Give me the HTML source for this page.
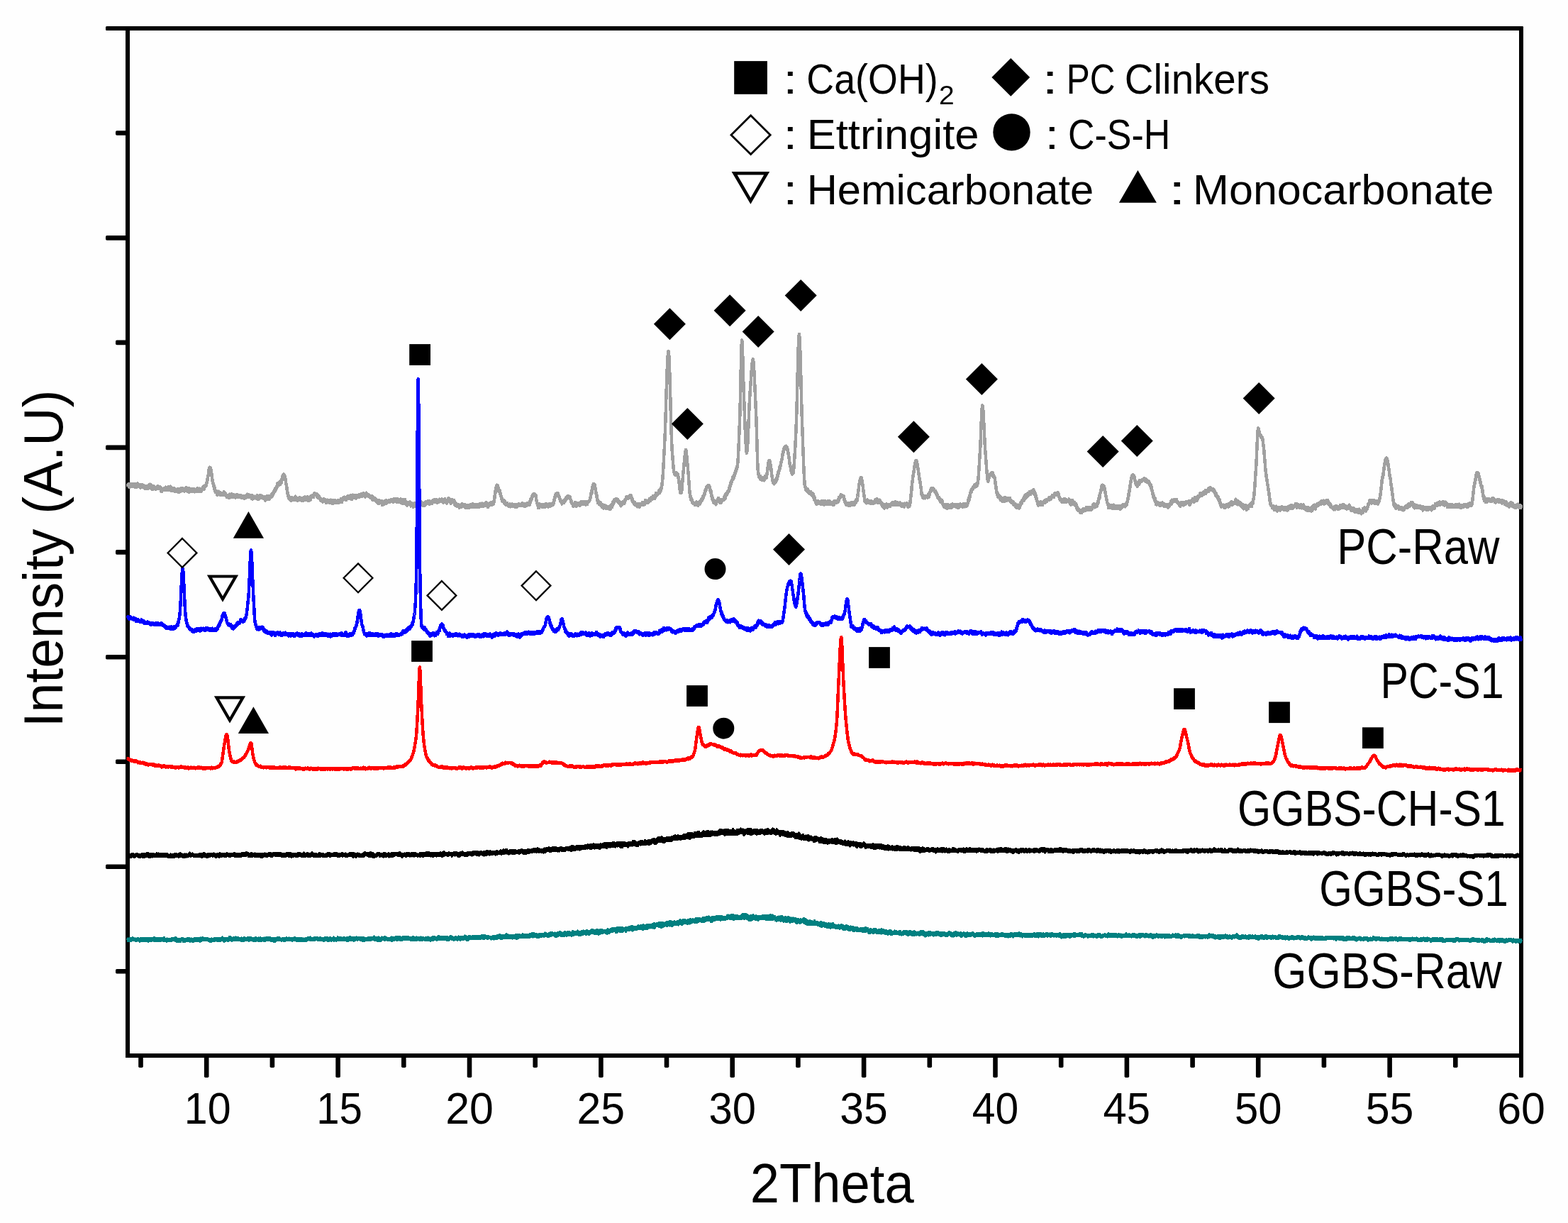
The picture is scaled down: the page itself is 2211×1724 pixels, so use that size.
<!DOCTYPE html>
<html lang="en"><head><meta charset="utf-8"><title>XRD patterns</title>
<style>html,body{margin:0;padding:0;background:#fefefe;}svg{display:block;}text{font-family:"Liberation Sans",sans-serif;fill:#000;}</style></head><body>
<svg width="2211" height="1724" viewBox="0 0 2211 1724">
<rect x="0" y="0" width="2211" height="1724" fill="#fefefe"/>
<g fill="#000" stroke="none">
<rect x="149" y="37" width="1999" height="6" rx="1.5"/>
<rect x="177" y="37" width="6" height="1454"/>
<rect x="177" y="1485" width="1971" height="6"/>
<rect x="2142" y="37" width="6" height="1482" rx="1.5"/>
<rect x="149" y="332.1" width="31" height="6.6" rx="1.8"/>
<rect x="149" y="627.6" width="31" height="6.6" rx="1.8"/>
<rect x="149" y="923.0" width="31" height="6.6" rx="1.8"/>
<rect x="149" y="1218.4" width="31" height="6.6" rx="1.8"/>
<rect x="163" y="184.2" width="17" height="6.6" rx="1.8"/>
<rect x="163" y="479.6" width="17" height="6.6" rx="1.8"/>
<rect x="163" y="775.1" width="17" height="6.6" rx="1.8"/>
<rect x="163" y="1070.5" width="17" height="6.6" rx="1.8"/>
<rect x="163" y="1365.9" width="17" height="6.6" rx="1.8"/>
<rect x="287.9" y="1488" width="6.6" height="31" rx="1.8"/>
<rect x="473.3" y="1488" width="6.6" height="31" rx="1.8"/>
<rect x="658.7" y="1488" width="6.6" height="31" rx="1.8"/>
<rect x="844.1" y="1488" width="6.6" height="31" rx="1.8"/>
<rect x="1029.4" y="1488" width="6.6" height="31" rx="1.8"/>
<rect x="1214.8" y="1488" width="6.6" height="31" rx="1.8"/>
<rect x="1400.2" y="1488" width="6.6" height="31" rx="1.8"/>
<rect x="1585.6" y="1488" width="6.6" height="31" rx="1.8"/>
<rect x="1770.9" y="1488" width="6.6" height="31" rx="1.8"/>
<rect x="1956.3" y="1488" width="6.6" height="31" rx="1.8"/>
<rect x="195.2" y="1488" width="6.6" height="17" rx="1.8"/>
<rect x="380.6" y="1488" width="6.6" height="17" rx="1.8"/>
<rect x="566.0" y="1488" width="6.6" height="17" rx="1.8"/>
<rect x="751.4" y="1488" width="6.6" height="17" rx="1.8"/>
<rect x="936.7" y="1488" width="6.6" height="17" rx="1.8"/>
<rect x="1122.1" y="1488" width="6.6" height="17" rx="1.8"/>
<rect x="1307.5" y="1488" width="6.6" height="17" rx="1.8"/>
<rect x="1492.9" y="1488" width="6.6" height="17" rx="1.8"/>
<rect x="1678.3" y="1488" width="6.6" height="17" rx="1.8"/>
<rect x="1863.6" y="1488" width="6.6" height="17" rx="1.8"/>
<rect x="2049.0" y="1488" width="6.6" height="17" rx="1.8"/>
</g>
<g fill="none" stroke-width="4.5" stroke-linejoin="round" stroke-linecap="butt" shape-rendering="crispEdges">
<path stroke="#008080" d="M180.0,1325.6l.5-2l.5 2.1l.5-1.4l.5 1.3l.5-1.3l.5 1.7l.5-2.6l.5 2.3l.5-1.6l.5 1.7l.5-2.7l.5 2.2l.5-1.8l.5 1.4l.5-2.4l.5 1.6l.5-.9l.5 1.1l.5-.2l.5 .7l.5-.9l.5 1.3l.5-1.4l.5 2.2l.5-1.9l.5 1l.5-1.2l.5 1.4l.5-2.1l.5 1.4l.5-.8l.5 1.6l.5-1l.5 2.1l.5-2.2l.5 1.5l.5-2.5l.5 2.1l.5-1.5l.5 1.8l.5-2.1l.5 1.3l.5-1.6l.5 2.7l.5-1.8l.5 2l.5-2.2l.5 1.9l.5-2.8l.5 3.2l.5-2.1l.5 1.3l.5-2.2l.5 2.3l.5-2.1l.5 2.4l.5-2.5l.5 3l.5-2.8l.5 1.6l.5-1.9l.5 1.7l.5-1.2l.5 1.3l.5-1.5l.5 2.4l.5-3.2l.5 1.7l.5-1.1l.5 1.9l.5-1.3l.5 .8l.5-1.7l.5 2.4l.5-3.1l.5 2.3l.5-1.4l.5 2.1l.5-2.2l.5 2.8l.5-1.7l.5 1.8l.5-2.5l.5 1.5l.5-1.5l.5 1.6l.5-1.6l.5 2.5l.5-2.8l.5 2.4l.5-2.2l.5 2.1l.5-2.5l.5 2.4l.5-2.4l.5 1.6l.5-1.4l.5 1.5l.5-.1l.5 1l.5-1.4l.5 1.4l.5-3.3l.5 2.7l.5-1.3l.5 2.2l.5-2l.5 2.2l.5-1.8l.5 2.1l.5-2.8l.5 1.6l.5-1.5l.5 1.9l.5-1.4l.5 1.6l.5-1.8l.5 2.2l.5-2.5l.5 2.4l.5-1.6l.5 1.5l.5-1.2l.5 .1l.5-1.9l.5 1.3l.5-1.2l.5 1.6l.5-1.5l.5 1.9l.5-2.4l.5 2.3l.5-1.5l.5 1.8l.5-3.2l.5 2.9l.5-1.4l.5 2l.5-1.1l.5 2.3l.5-2.5l.5 1.5l.5-1.8l.5 1.1l.5-.8l.5 2.3l.5-2.2l.5 2.7l.5-2.7l.5 1.3l.5-1.8l.5 .9l.5-1.9l.5 1.8l.5-1.5l.5 1.7l.5-.6l.5 2.7l.5-2.4l.5 1l.5-1.9l.5 2.7l.5-2.1l.5 1.1l.5-1.4l.5 1l.5-1.4l.5 2.5l.5-2.3l.5 1.4l.5-2.1l.5 1.8l.5-1.6l.5 1.6l.5-.6l.5 2l.5-2.4l.5 1.8l.5-2.2l.5 2l.5-1.4l.5 2.3l.5-2l.5 1.8l.5-1.9l.5 2.4l.5-3.2l.5 2.2l.5-2l.5 .9l.5-1.7l.5 3.1l.5-2.5l.5 2.2l.5-2.9l.5 2.8l.5-2.9l.5 2.4l.5-2.4l.5 2.2l.5-1.8l.5 2.8l.5-2.8l.5 3.2l.5-3.8l.5 2l.5-.4l.5 1.6l.5-2.1l.5 1.3l.5-3l.5 1.4l.5-.1l.5 1.4l.5-1.7l.5 2.2l.5-1.9l.5 1.5l.5-.9l.5 .9l.5-1.4l.5 .9l.5-1.4l.5 2.4l.5-1.9l.5 1.6l.5-1l.5 1.2l.5-1l.5 1.7l.5-1.7l.5 1.9l.5-2.3l.5 3.1l.5-2.4l.5 1.6l.5-2.5l.5 2.1l.5-.9l.5 1.1l.5-2l.5 2.2l.5-2.4l.5 1.8l.5-2.5l.5 2.5l.5-1.1l.5 .6l.5-.9l.5 .5l.5-1.5l.5 2.5l.5-2.6l.5 1.5l.5-.9l.5 2.3l.5-2.5l.5 2.2l.5-2l.5 1.9l.5-2.7l.5 2.7l.5-2.3l.5 1.4l.5-2l.5 1.4l.5-2.4l.5 2l.5-1l.5 2.5l.5-.9l.5 2.3l.5-3.6l.5 2.5l.5-2.4l.5 2.4l.5-1.7l.5 1.3l.5-1.9l.5 2.1l.5-1.5l.5 1.4l.5-1.8l.5 2.4l.5-2.9l.5 1.9l.5-3.2l.5 2l.5-1.5l.5 1l.5-1.5l.5 3.8l.5-2.7l.5 2.8l.5-2.1l.5 2l.5-2.2l.5 1.7l.5-2.4l.5 2.6l.5-3l.5 2.3l.5-1.5l.5 1.4l.5-2.5l.5 3.3l.5-2.1l.5 1.9l.5-1.2l.5 1.3l.5-2.6l.5 2.2l.5-1.5l.5 2l.5-1.6l.5 1.5l.5-1.2l.5 1.4l.5-2.2l.5 1.7l.5-2l.5 3.1l.5-2.5l.5 1.8l.5-1.6l.5 2.2l.5-1.5l.5 1.6l.5-3.5l.5 2.9l.5-1.8l.5 1.3l.5-1.8l.5 1.3l.5-1l.5 2l.5-2.1l.5 2.2l.5-3.2l.5 2.8l.5-2.5l.5 3.2l.5-2.7l.5 1.8l.5-1l.5 1.3l.5-2.9l.5 3l.5-2l.5 1.2l.5-1.1l.5 2.2l.5-1.9l.5 2.1l.5-2.1l.5 2l.5-1.8l.5 2l.5-2.2l.5 2.1l.5-3.2l.5 3.3l.5-2.1l.5 1.2l.5-1.5l.5 .9l.5-.5l.5 1.8l.5-2.7l.5 2.5l.5-1.1l.5 .9l.5-1.4l.5 2.1l.5-3.2l.5 3.5l.5-1.7l.5 .9l.5-1.7l.5 1.6l.5-1.4l.5 1.5l.5-1.6l.5 2l.5-3l.5 3.2l.5-2.2l.5 2l.5-2.6l.5 1.3l.5-1.9l.5 1.2l.5-.4l.5 2l.5-2.2l.5 2l.5-2.8l.5 1.3l.5-.9l.5 1.7l.5-2l.5 2.5l.5-2.1l.5 2.9l.5-1.5l.5 .7l.5-2l.5 2.5l.5-1.2l.5 1.9l.5-2.8l.5 3.2l.5-2.5l.5 1.5l.5-1.4l.5 2.4l.5-3.3l.5 2.6l.5-2.3l.5 1.8l.5-1.3l.5 1.1l.5-2.7l.5 1.6l.5-2.1l.5 2.3l.5-1.6l.5 1.3l.5-1.3l.5 2.3l.5-1.3l.5 1.7l.5-1.3l.5 1.4l.5-1l.5 1l.5-2.4l.5 1.5l.5-1.1l.5 1.9l.5-1.1l.5 1.9l.5-2.3l.5 2.1l.5-2.7l.5 1.7l.5-2.1l.5 1.7l.5-1.7l.5 2.4l.5-2.3l.5 2l.5-1.5l.5 1.3l.5-1.9l.5 2.5l.5-2.1l.5 1.5l.5-1l.5 1.6l.5-1.6l.5 .6l.5-1.2l.5 2.5l.5-1.8l.5 .7l.5-.9l.5 1l.5-1.9l.5 1.6l.5-1.4l.5 1.8l.5-1.9l.5 1.8l.5-1.6l.5 1.2l.5-.1l.5 2.3l.5-2.8l.5 1.8l.5-2.4l.5 2.1l.5-2.1l.5 3.2l.5-2.1l.5 .8l.5-.6l.5 .8l.5-1.9l.5 2.7l.5-1.8l.5 .8l.5-1l.5 2.4l.5-2.4l.5 1.6l.5-1.7l.5 2.1l.5-1.7l.5 1.5l.5-1.2l.5 .6l.5-2.2l.5 2.9l.5-2.3l.5 1.4l.5-1l.5 .6l.5-2l.5 1.7l.5-1.9l.5 1.6l.5-1.5l.5 2l.5-2.7l.5 3.7l.5-2.5l.5 2l.5-1.3l.5 1.6l.5-1.6l.5 1.2l.5-1.6l.5 1.7l.5-2.1l.5 2.2l.5-2.2l.5 1.5l.7-.3l.3 .1l.5-1.6l.5 1.7l.5-2l.5 1.5l.5-1.1l.5 1.7l.5-.8l.5 1.6l.5-1l.5 1l.5-2.4l.5 1.7l.5-1.8l.5 1.5l.5-1.3l.5 1.7l.5-1.5l.5 1.8l.5-1.3l.5 1.5l.5-1.9l.5 2.4l.5-1.7l.5 1.9l.5-1.8l.5 1l.5-2.4l.5 2.4l.5-2.2l.5 1.7l.5-1.6l.5 2.1l.5-2.5l.5 2.8l.5-.9l.5 1.8l.5-3l.5 2.8l.5-3.2l.5 .9l.5-1.6l.5 2.7l.5-.8l.5 1.7l.5-1.5l.5 .3l.5-1.2l.5 2.1l.5-2.6l.5 2l.5-3l.5 3.8l.5-2.5l.5 1.9l.5-1.1l.5 1.1l.5-1.7l.5 2.4l.5-2.3l.5 2l.5-2.6l.5 1.4l.5-2.5l.5 2.9l.5-2.5l.5 2.8l.5-2.1l.5 1.9l.5-1.8l.5 .8l.5-1.1l.5 2.5l.5-2l.5 1.5l.5-1l.5 1.1l.5-1.5l.5 .3l.5-1.1l.5 2.5l.5-2.5l.5 2.1l.5-1.5l.5 2.5l.5-1.7l.5 1.4l.5-2.3l.5 2.5l.5-3l.5 3.5l.5-2.5l.5 2.5l.5-2.7l.5 1.8l.5-2.1l.5 2l.5-3.6l.5 2.9l.5-1.6l.5 2.3l.5-2.7l.5 2.7l.5-2.9l.5 2.1l.5-1.4l.5 1.8l.5-1.9l.5 3.1l.5-1.6l.5 .8l.5-2l.5 1.5l.5-1.3l.5 1.4l.5-2.6l.5 2.5l.5-2l.5 2.2l.5-2.6l.5 2.4l.5-2l.5 1.4l.5-1.5l.5 1.8l.5-1.9l.5 2.4l.5-1.6l.5 1.6l.5-1.8l.5 2.6l.5-1.9l.5 1.5l.5-2.3l.5 3.6l.5-4.2l.5 3l.5-2.3l.5 2.8l.5-2.6l.5 1.4l.5-1.3l.5 2.4l.5-1.9l.5 .8l.5-.7l.5 1.4l.5-1.8l.5 1.4l.5-2.1l.5 2.6l.5-2.3l.5 1.9l.5-1.9l.5 1.1l.5-1.5l.5 2.1l.5-2.6l.5 1.6l.5-1.3l.5 1.8l.5-2l.5 1.7l.5-.8l.5 1.1l.5-3.2l.5 3.9l.5-2.2l.5 2.7l.5-3.3l.5 2.9l.5-1.8l.5 2.2l.5-2.7l.5 2.7l.5-2.1l.5 2.7l.5-4l.5 3.1l.5-2.5l.5 1.8l.5-.9l.5 2.5l.5-2.3l.5 2l.5-2.7l.5 .6l.5-1.6l.5 1.9l.5-1.2l.5 1.7l.5-1.2l.5 .9l.5-2.2l.5 2.5l.5-2.9l.5 3.6l.5-2.6l.5 1.4l.5-.5l.5 .8l.5-1.4l.5 1.8l.5-1l.5 1.4l.5-1.1l.5 1.5l.5-2.1l.5 1.7l.5-1.8l.5 1.6l.5-1.7l.5 .8l.5-1.1l.5 2.9l.5-3.7l.5 3.8l.5-2.9l.5 2.1l.5-2.5l.5 2.6l.5-2.1l.5 1.7l.5-2l.5 1.5l.5-2l.5 1l.5-1.4l.5 2.9l.5-3.1l.5 2.1l.5-1.8l.5 2.9l.5-1.6l.5 1.1l.5-2.6l.5 2.4l.5-2.4l.5 3.1l.5-2l.5 1.8l.5-1.6l.5 2.3l.5-2l.5 .5l.5-1.5l.5 1.9l.5-2.6l.5 3l.5-1.9l.5 1.8l.5-2.2l.5 1.5l.5-2.1l.5 1.8l.5-.6l.5 .7l.5-1.2l.5 .9l.5-1.7l.5 2.6l.5-2.8l.5 2.8l.5-1.2l.5 1l.5-1.2l.5 1.1l.5-1.4l.5 2l.5-.6l.5 1.3l.5-2.6l.5 1.8l.5-2.4l.6 1.5l.4-1.6l.5 2.9l.5-2.8l.5 2.7l.5-2.3l.5 1.6l.5-1l.5 1.7l.5-2l.5 1.3l.5-2.1l.5 2.9l.5-1.3l.5 .3l.5-1.3l.5 1.7l.5-1.6l.5 1.8l.5-1.5l.5 2.2l.5-2.2l.5 1.6l.5-2.6l.5 3.5l.5-2.6l.5 1.1l.5-1.2l.5 2.1l.5-1.8l.5 1.4l.5-1.6l.5 1.7l.5-.9l.5 1.3l.5-.9l.5 .1l.5-1.3l.5 1.9l.5-2l.5 1l.5-.8l.5 1.8l.5-2.8l.5 2.3l.5-1.5l.5 2.2l.5-1.7l.5 1.2l.5-1l.5 2.4l.5-2.9l.5 2.5l.5-2.6l.5 2l.5-2.4l.5 1.7l.5-3l.5 3.6l.5-2.2l.5 1.4l.5-2.4l.5 2.8l.5-2.3l.5 1.2l.5-.9l.5 1.9l.5-2l.5 2.6l.5-2.8l.5 2.3l.5-2.2l.5 1.9l.5-3.8l.5 3.6l.5-2.2l.5 2.3l.5-2.6l.5 2.5l.5-1.4l.5 2.2l.5-2.9l.5 1.9l.5-2.1l.5 2l.5-1.7l.5 2.1l.5-1.4l.5 1.2l.5-2.6l.5 1.7l.5-1.4l.5 2.3l.5-1.9l.5 1.8l.5-1.4l.5 2.3l.5-3.3l.5 4.3l.5-2.7l.5 2.2l.5-2.3l.5 2.2l.5-2.8l.5 2l.5-2.4l.5 1.9l.5-3.3l.5 2.3l.5-1.6l.5 2.2l.5-2l.5 2.8l.5-2l.5 2.2l.5-.8l.5 1.6l.5-2.9l.5 2.2l.5-2.3l.5 2.4l.5-2.5l.5 1.4l.5-1.5l.5 2.6l.5-1.6l.5 2l.5-2.4l.5 1l.5-2.4l.5 2.7l.5-1.1l.5 1.2l.5-2l.5 2.9l.5-2.6l.5 2l.5-2.7l.5 2l.5-1.8l.5 2.2l.5-1.7l.5 1.5l.5-1.8l.5 1.9l.5-2.1l.5 1.1l.5-2.8l.5 2.7l.5-2.5l.5 3.5l.5-2.6l.5 3.8l.5-2.7l.5 2l.5-2.3l.5 2.9l.5-3.9l.5 1.8l.5-.6l.5 1.6l.5-3.1l.5 2.9l.5-2.4l.5 2.5l.5-2.4l.5 2.4l.5-2.6l.5 1.8l.5-1.6l.5 1.8l.5-2.2l.5 2.3l.5-1.7l.5 1.6l.5-1.9l.5 1.1l.5-.7l.5 1.5l.5-2.3l.5 2.9l.5-2.5l.5 2.4l.5-2.6l.2 1.1l.3-1.4l.5 2.9l.5-2.6l.5 1.7l.5-2.1l.5 2.1l.5-1.5l.5 2.1l.5-2.4l.5 2l.5-2.2l.5 1.8l.5-2.7l.5 2.3l.5-2.7l.5 3.7l.5-3l.5 3.4l.5-2.5l.5 1.2l.5-2.5l.5 2.4l.5-1.9l.5 2l.5-.9l.5 1.1l.5-.9l.5 1.7l.5-1.9l.5 1.4l.5-2l.5 1.9l.5-1.4l.5 .5l.5-.4l.5 .8l.5-.7l.5 2.5l.5-2.6l.5 1.7l.5-1.6l.5 1.6l.5-1.9l.5 2l.5-2.5l.5 3.4l.5-3.3l.5 2.2l.5-1.8l.5 1.8l.5-2.4l.5 2.3l.5-2.6l.5 3l.5-2.2l.5 1l.5-2.5l.5 2.7l.5-1.4l.5 1.7l.5-1.3l.5 1.3l.5-3.7l.5 4.2l.5-2.1l.5 1.2l.5-1.3l.5 2.4l.5-2.5l.5 1.1l.5-2.4l.5 3.1l.5-2.3l.5 1.4l.5-.7l.5 .8l.5-1l.5 1.4l.5-2.6l.5 2.1l.5-3.5l.5 3.9l.5-2l.5 2.1l.5-3.3l.5 2.5l.5-1.4l.5 1.5l.5-1.2l.5 2.2l.5-1.9l.5 .7l.5-1.6l.5 2.1l.5-2.2l.5 2.7l.5-2l.5 2.7l.5-1.7l.5 1.1l.5-1.9l.5 2l.5-2.6l.5 1.8l.5-1.6l.5 2.4l.5-2.9l.5 2.1l.5-2.8l.5 4.6l.5-2.8l.5 1.6l.5-3.8l.5 4.3l.5-2.8l.5 2.1l.5-2.2l.5 1.3l.5-1.9l.5 2.3l.5-2.3l.5 2l.5-1.3l.5 1.3l.5-1.8l.5 1.7l.5-3l.5 3.1l.5-2.9l.5 2.7l.5-2.3l.5 2.2l.5-2.1l.5 2.3l.5-2.2l.5 2.5l.5-2.9l.5 2.3l.5-1.4l.5 1.7l.5-2l.5 1.7l.5-2.6l.5 2.7l.5-.9l.5 1l.5-.8l.5 .7l.5-3.2l.5 3l.5-2.1l.5 1.1l.5-2.8l.5 3.6l.5-2.5l.5 2.9l.5-4.5l.5 4.2l.5-3l.5 2.3l.5-2.7l.5 2.5l.5-1.3l.5 2l.5-1.8l.5 1.6l.5-2.4l.5 3.6l.5-3l.5 2l.5-1.9l.5 2.7l.5-3.3l.5 2.6l.5-1.8l.5 .4l.5-.9l.5 2.1l.5-2.7l.5 1.9l.5-1.6l.5 2.1l.5-2.8l.2 1.5l.3-1.2l.5 1l.5-.7l.5 2.3l.5-2.3l.5 .8l.5-2.4l.5 2.4l.5-1.6l.5 2.1l.5-2l.5 2.5l.5-.9l.5 1.5l.5-1.7l.5 1.4l.5-2.5l.5 2.6l.5-3.5l.5 2.4l.5-2.8l.5 3.2l.5-4l.5 3.6l.5-3.2l.5 2.3l.5-2.6l.5 2.2l.5-1.5l.5 2.3l.5-1.9l.5 1.1l.5-.7l.5 1.9l.5-2.6l.5 3.7l.5-2.7l.5 2.4l.5-1.7l.5 2.2l.5-2.6l.5 2.3l.5-4l.5 3.2l.5-1.7l.5 .9l.5-1.3l.5 .6l.5-2.8l.5 3.2l.5-1.4l.5 2.3l.5-2.9l.5 3.3l.5-1.7l.5 1.9l.5-2.5l.5 2.8l.5-3.7l.5 3.6l.5-4.4l.5 3.6l.5-3.9l.5 1.8l.5-1.3l.5 2.8l.5-2.1l.5 2.9l.5-2.6l.5 1.5l.5-2.9l.5 3.6l.5-3.2l.5 3l.5-3.9l.5 3.1l.5-1.8l.5 1.1l.5-1.4l.5 1.9l.5-1.8l.5 3.4l.5-3l.5 1.2l.5-3.3l.5 3.3l.5-1.3l.5 2l.5-2.6l.5 2.2l.5-2.8l.5 2.4l.5-1.7l.5 2l.5-2.9l.5 2.5l.5-2.3l.5 2.5l.5-4.2l.5 3.9l.5-2.9l.5 3.5l.5-2.2l.5 2.9l.5-3.4l.5 3.7l.5-3.8l.5 2.1l.5-2.2l.5 2.2l.5-3.3l.5 3.7l.5-3.3l.5 3.3l.5-4.2l.5 3.3l.5-2.2l.5 .8l.5-1l.5 2.9l.5-2.8l.5 2.9l.5-3.6l.5 3.7l.5-4.3l.5 3l.5-2.5l.5 2.6l.5-2.5l.5 2.5l.5-2.1l.5 3.5l.5-2.8l.5 1.2l.5-2.3l.5 1.9l.5-3l.5 3.1l.5-3l.5 1.9l.5-2.4l.5 2.8l.5-2.4l.5 3.1l.5-1.5l.5 1.3l.5-2.1l.5 3.7l.5-3.7l.5 3l.5-2l.5 2.4l.5-4.7l.5 3.4l.5-2.4l.5 1.4l.5-2l.5 5l.5-4.6l.5 3.9l.5-3.8l.5 2.2l.5-2.8l.5 2.3l.5-1.6l.5 2.6l.5-3.4l.5 3.5l.5-3.1l.5 2.3l.5-1.3l.5 1.5l.5-2.3l.5 .9l.5-1l.5 1.5l.5-.9l.5 1l.5-.4l.5 1.7l.5-3.1l.5 3.7l.5-3l.3-.2l.2-1.6l.5 3.1l.5-2.5l.5 3.5l.5-3.6l.5 1.3l.5-1l.5 2.1l.5-3l.5 1.9l.5-1.1l.5 1.8l.5-3.6l.5 2.3l.5-2.7l.5 3.4l.5-1.8l.5 1.2l.5-2.7l.5 2.5l.5-.9l.5 1.3l.5-2.7l.5 4.2l.5-2.6l.5 2.8l.5-3.8l.5 2.3l.5-4.1l.5 4.1l.5-3.5l.5 1.6l.5-2.5l.5 2.5l.5-1.1l.5 3.8l.5-4.7l.5 4.4l.5-3.1l.5 3l.5-4.6l.5 4.8l.5-3.5l.5 1.8l.5-1.8l.5 1.1l.5-.6l.5 1.3l.5-2.2l.5 2l.5-2.4l.5 4l.5-4.7l.5 3.4l.5-3.6l.5 2.6l.5-2.1l.5 2.9l.5-2.4l.5 1.8l.5-1.6l.5 1.9l.5-4.1l.5 3.2l.5-2.4l.5 2.1l.5-1.4l.5 .8l.5-3l.5 5.4l.5-4.3l.5 2.9l.5-2.5l.5 2.8l.5-3.4l.5 3.1l.5-3.3l.5 3.4l.5-2.5l.5 2.2l.5-1l.5 1.1l.5-1.6l.5 1.2l.5-2.6l.5 1.8l.5-3.3l.5 2.3l.5-.7l.5 1.9l.5-2.5l.6 1.3l.4-1.8l.5 2.8l.5-3.5l.5 2.8l.5-2.9l.5 3.3l.5-1.7l.5 3.5l.5-5.6l.5 3.1l.5-2l.5 3.1l.5-2.5l.5 1.8l.5-1.4l.5 2l.5-3.6l.5 3.3l.5-3.8l.5 4.5l.5-3.7l.5 2.8l.5-1.5l.5 .5l.5-3l.5 2.7l.5-2.6l.5 3.1l.5-2.2l.5 1.9l.5-2.3l.5 2l.5-2.8l.5 3.4l.5-3l.5 1.4l.5-2.6l.5 2.9l.5-3.6l.5 5.3l.5-5.3l.5 3.3l.5-2.5l.5 2.1l.5-1.5l.5 1.3l.5-2l.5 1.9l.5-3l.5 3.1l.5-2.3l.5 2l.5-3.2l.5 4.2l.5-4.6l.5 4.1l.5-4.5l.5 3.5l.5-3.1l.5 5.4l.5-3.8l.5 2.8l.5-4.8l.5 4.1l.5-3.8l.5 4.2l.5-3.2l.5 2.8l.5-2.4l.5 1.6l.5-2.1l.5 2l.5-3.3l.5 3.2l.5-2.2l.5 3.2l.5-5l.5 4l.5-3.1l.5 2.5l.5-3.2l.5 3.8l.5-1.8l.5 2.2l.5-5.4l.5 3.5l.5-2.3l.5 4.1l.5-3.1l.5 3.9l.5-3l.4-.4l.6-1.9l.5 3.4l.5-2.9l.5 2.4l.5-3.1l.5 3.6l.5-3.2l.5 2.8l.5-2.3l.5 2.5l.5-3.3l.5 2l.5-2.3l.5 1.9l.5-1.7l.5 3.7l.5-2.9l.5 1.3l.5-3.3l.5 3.7l.5-4.6l.5 4.1l.5-2.3l.5 2.4l.5-3.5l.5 4.6l.5-4l.5 2.7l.5-3.1l.5 2.2l.5-3.9l.5 4.4l.5-2.2l.5 1.6l.5-3.2l.5 3.9l.5-3.2l.5 2.3l.5-2.3l.5 1.7l.5-.7l.5 2.7l.5-3l.5 2.7l.5-4.4l.5 3.9l.5-3.8l.5 4.3l.5-4.9l.5 3.2l.5-3.1l.5 3.7l.5-2.7l.5 2.3l.5-2.8l.5 1.3l.5-1.7l.5 2.5l.5-2.5l.5 1.5l.5-1.2l.5 2.7l.5-3.2l.5 1.9l.5-2.9l.5 2.4l.5-1.9l.5 3.8l.5-3.4l.5 2l.5-3.5l.5 3.4l.5-2.5l.5 2.7l.5-3.7l.5 2.5l.5-1.1l.5 1.9l.5-1.4l.5 1.4l.5-1.6l.5 2.1l.5-2.7l.5 2.3l.5-3.7l.5 2.8l.5-2.7l.5 4.2l.5-4.6l.5 2.5l.5-2.7l.2 2.2l.3-2.3l.5 3.8l.5-2.8l.5 2l.5-3.6l.5 3.6l.5-2.6l.5 2.5l.5-1.6l.5 1.8l.5-4.3l.5 4.3l.5-2.4l.5 2.2l.5-2.6l.5 3.4l.5-3.4l.5 4.7l.5-4.9l.5 4.1l.5-4.8l.5 3.4l.5-2.5l.5 1.7l.5-2.9l.5 2.7l.5-1.3l.5 2.3l.5-3.5l.5 2.3l.5-2.8l.5 2.6l.5-3.3l.5 2.3l.5-1.3l.5 2.7l.5-3.2l.5 3.1l.5-2.4l.5 1.9l.5-2.6l.5 3.8l.5-3.1l.5 3.4l.5-4.7l.5 3.5l.5-3.2l.5 2.8l.5-.5l.5 .8l.5-1.7l.5 2.4l.5-2.6l.5 2.6l.5-1.7l.5 2l.5-2.4l.5 1.4l.5-2.5l.5 1.6l.5-1.4l.5 .9l.5-2.4l.5 3.2l.5-4.1l.5 2.8l.5-1.5l.5 2.2l.5-2.3l.5 2.1l.5-2.5l.5 3.3l.5-2.5l.5 2.3l.5-4.5l.5 4.2l.5-4.1l.5 4.3l.5-4l.5 5.2l.5-4.1l.5 4l.5-4.6l.5 3.2l.5-2.3l.5 2.5l.5-3.3l.5 2.8l.5-2.6l.5 3.8l.5-3.6l.5 1.6l.5-1.3l.5 3.5l.5-3.1l.5 2.8l.5-2l.5 2.4l.5-3.1l.5 3.1l.5-2.4l.5 2.2l.5-3.7l.5 3.4l.5-3.3l.5 1.8l.5-4.2l.5 4.4l.5-1.8l.5 2.4l.5-2.5l.5 3.2l.5-5.9l.5 3.8l.5-1.3l.5 2.8l.5-4.7l.5 5l.5-4.3l.5 3.7l.5-2.2l.5 2.2l.5-1l.5 2.8l.5-3.2l.5 4.4l.5-5.1l.5 2.9l.5-3.6l.5 5.3l.5-5.2l.5 2.4l.5-2.5l.5 4.5l.5-4l.5 2.2l.5-3.3l.5 4.2l.5-2.4l.5 2.1l.5-2.4l.5 2.8l.5-3.1l.5 4.4l.5-4.4l.5 2.7l.5-2.3l.5 4.2l.5-4.2l.5 4.3l.5-3.3l.5 2.1l.5-3.3l.5 3l.5-1.2l.5-.7l.5-.5l.5 2.3l.5-1.7l.5 1l.5-1.2l.5 1.9l.5-3.4l.5 2.1l.5-2.6l.5 2.6l.5-1.4l.5 2.9l.5-3.4l.5 2.4l.5-3l.5 4.3l.5-2.5l.5 3.4l.5-4.5l.5 3.7l.5-3.8l.5 3.1l.5-3.6l.5 3.2l.5-2.4l.5 4.2l.5-4.8l.5 3.6l.5-4.7l.5 5.3l.5-2.6l.5 3.2l.5-2.9l.5 2.7l.5-5.3l.5 3.3l.5-2.3l.5 3l.5-2.7l.5 2.7l.5-2.2l.5 2.4l.5-1l.5 3l.5-2.3l.5 3l.5-2.4l.5 2.2l.5-3.9l.5 2.1l.5-1.7l.5 1.1l.5-2.2l.5 2.9l.5-2.3l.5 3.9l.5-4.7l.5 4.9l.5-4.1l.5 1.9l.5-3.1l.5 4.2l.5-3.6l.5 4.5l.5-3.3l.5 4.8l.5-4.2l.5 3.5l.5-4.2l.5 3l.5-3.4l.5 4l.6-1.6l.4 3.2l.5-4.2l.5 3.7l.5-4l.5 2.5l.5-4.1l.5 4.6l.5-1.4l.5 1.6l.5-2.4l.5 4.2l.5-5l.5 3.8l.5-2.8l.5 2.7l.5-3.7l.5 4.8l.5-3.8l.5 2.8l.5-3.7l.5 2.7l.5-2.2l.5 2.8l.5-1.6l.5 2.2l.5-3.6l.5 3.3l.5-1.1l.5 3.5l.5-4l.5 4.2l.5-4.9l.5 3.7l.5-3.2l.5 3.4l.5-2.7l.5 2.8l.5-3l.5 3.7l.5-3.9l.5 2.7l.5-2.7l.5 3l.5-2.6l.5 2.1l.5-2.4l.5 2.5l.5-2.4l.5 2.4l.5-4.2l.5 5.4l.5-4.1l.5 3.5l.5-4.1l.5 5.2l.5-2.6l.5 3.3l.5-3.2l.5 3.9l.5-4.2l.5 4.3l.5-3.9l.5 3l.5-2.4l.5 3.7l.5-3.7l.5 2.7l.5-3.4l.5 4.6l.5-2.8l.5 1.9l.5-1.6l.5 1.9l.5-3l.5 2.8l.5-1.8l.5 2.2l.5-2.1l.5 2.4l.5-4.6l.5 2.5l.5-1.2l.5 2.9l.5-2.5l.5 3l.5-1.9l.5 1.9l.5-2.7l.5 3.2l.5-2.8l.5 3.1l.5-2.6l.5 1.8l.5-2l.5 3.3l.5-3.1l.5 3.5l.5-4.5l.5 3.2l.5-1.3l.5 3.5l.5-4.6l.5 2l.5 .1l.5 1.4l.5-2.3l.5 1.1l.5-1.9l.5 2l.5-.7l.5 2.9l.5-2.7l.5 2.6l.5-3.1l.5 3.9l.5-3.1l.5 2.5l.5-2.3l.5 3.4l.5-4.6l.5 2.7l.5-1.9l.5 3.6l.5-3.5l.5 4.5l.5-5l.5 3.4l.5-2.2l.5 1.9l.5-1.9l.5 3.3l.5-4.8l.5 4.7l.5-1.7l.5 .9l.5-2.2l.5 2.2l.5-.8l.5 2l.5-2.7l.5 2.9l.5-2.3l.5 2.7l.5-3l.5 2l.5-1.2l.5 1.3l.5-2.6l.5 2.2l.5-1.5l.5 3.3l.5-3.1l.5 2.4l.5-2.3l.5 2.6l.5-4.4l.5 3.9l.5-1.4l.5 1.1l.5-2.4l.5 4.7l.5-4l.5 3.9l.5-2.8l.5 2.5l.5-2.5l.5 2.8l.5-2.3l.5 1.9l.5-4.3l.5 3l.5-.6l.5 2.3l.5-2.1l.5 1.2l.5-2.2l.5 3.4l.5-2.6l.5 3.8l.5-4.2l.5 2.2l.5-2.4l.5 2.3l.5-1.4l.5 2.7l.5-2l.5 2.1l.5-3.2l.5 4.4l.5-3.9l.5 3.6l.5-3.4l.5 3.9l.5-3.6l.3 1.3l.2-.4l.5 1.7l.5-1.4l.5 1.4l.5-2.8l.5 4.2l.5-3.1l.5 2.4l.5-2.3l.5 1.9l.5-1.3l.5 1.9l.5-1.3l.5 1.8l.5-2.6l.5 2.4l.5-1.5l.5 1.2l.5-2.9l.5 3l.5-2.6l.5 3.9l.5-2.8l.5 1.5l.5-2.8l.5 4.2l.5-3.3l.5 1.6l.5-3l.5 3.8l.5-4l.5 4l.5-2.5l.5 2.2l.5-3.1l.5 3.4l.5-.9l.5 1.5l.5-2.1l.5 4.1l.5-3.4l.5 2.2l.5-3.2l.5 3.8l.5-3.7l.5 3.4l.5-3.3l.5 2.9l.5-2.1l.5 2.7l.5-2.1l.5 2.6l.5-2.8l.5 2.2l.5-4l.5 3.2l.5-1.9l.5 1.9l.5-2.7l.5 3.5l.5-2.9l.5 3.7l.5-2.5l.5 2.4l.5-1.7l.5 2.1l.5-3.3l.5 2.3l.5-3.1l.5 3.6l.5-2.2l.5 2l.5-1.4l.5 2.3l.5-4.8l.5 3.7l.5-2.6l.5 2.3l.5-2.6l.5 3.4l.5-3.3l.5 2.9l.5-2.7l.5 2.8l.5-2.3l.5 3.5l.5-3.7l.5 2.7l.5-1.2l.5 1.8l.5-2l.5 3.1l.5-2.3l.5 2.2l.5-3.3l.5 3.2l.5-3.5l.5 3.3l.5-3.8l.5 3.4l.5-3l.5 4.2l.5-2.2l.5 2.2l.5-3.1l.5 2.2l.5-1.6l.5 .8l.5-1.1l.5 1.9l.5-2.4l.5 1.6l.5-2.4l.5 3.3l.5-2.7l.5 1.9l.5-1.6l.5 1.4l.5-1.1l.5 2.3l.5-2.1l.5 1.6l.5-1.4l.5 1.5l.5-2.4l.5 3.6l.5-3.9l.5 3l.5-1l.5 .9l.5-.5l.5 1.8l.5-2.4l.5 2l.5-2l.5 2.1l.5-3.6l.5 2l.5-1.6l.5 1.5l.5-2.4l.5 2.3l.5-.9l.5 1.2l.5-.5l.5 2.2l.5-3.8l.5 3.6l.5-2.4l.5 3.3l.5-2l.5 1.4l.5-2.2l.5 1.5l.5-3.5l.5 2.3l.5-1.6l.5 3.1l.5-2.1l.5 2.5l.5-2.9l.5 3.1l.5-2.7l.5 2.9l.5-1.6l.5 2.1l.5-4.8l.5 4.4l.5-3.8l.5 2.1l.5-1.5l.5 1.8l.5-1.6l.5 2.6l.5-2.6l.5 1.8l.5-1.1l.5 1.4l.5-2.2l.5 2l.5-1.9l.5 2.9l.5-3.2l.5 .8l.5-1.2l.5 2.7l.5-4.1l.5 4.1l.5-1.9l.5 1.7l.5-2.7l.5 2.4l.5-2.8l.5 4.3l.5-2.8l.5 3.2l.5-2.8l.5 3.9l.5-2.9l.5 2.2l.5-3.1l.5 1.6l.5-2.1l.5 2.3l.5-1.5l.5 .7l.5-.8l.5 2.7l.5-4.5l.5 3.8l.5-3.5l.5 2.6l.5-2l.5 2.6l.5-1.8l.5 1.2l.5-1.7l.5 2.2l.5-1.4l.5 2l.5-2.4l.5 2.8l.5-3.1l.5 2l.5-2.3l.5 2.5l.5-1.6l.5 2l.5-2.5l.5 2.8l.5-3.9l.5 1.6l.5-1.4l.5 1.9l.5-2.1l.5 2.3l.5-1.7l.5 2.9l.5-2.7l.5 2.1l.5-2l.5 3.6l.5-2.4l.5 2.4l.5-2.7l.5 2.5l.5-3.2l.5 1.7l.5-1.6l.5 1.7l.5-1.8l.5 2.5l.5-2.3l.5 2.3l.5-1.5l.5 2.5l.5-1.2l.5 1.4l.5-3.3l.5 2.9l.5-2.4l.5 1.7l.5-2.3l.5 1.7l.5-1.9l.5 1.4l.5-2.5l.5 3.1l.5-2.4l.5 3.1l.5-1.6l.5 2.4l.5-2.5l.5 2.9l.5-3.1l.5 1.9l.5-1.4l.5 2.7l.5-3.1l.5 1.7l.5-3.2l.5 3.6l.5-3.3l.5 2.4l.5-3.2l.5 4l.5-2.5l.5 2.5l.5-1.5l.5 .8l.5-2.1l.5 2.7l.5-2.4l.5 1.2l.5-.7l.5 1.4l.5-1.2l.5 2.1l.5-3.3l.5 4.5l.5-4.1l.5 2.4l.5-1.4l.5 1.5l.5-1.8l.5 1.6l.5-2.5l.5 3l.5-2.8l.5 2.9l.5-2.7l.5 3.7l.5-2.5l.5 1.3l.5-1.3l.5 2.2l.5-3.7l.5 3.4l.5-1.8l.5 1.8l.5-2.4l.5 2.1l.5-2.3l.5 2.2l.5-2.3l.5 2.5l.5-2.8l.5 2.3l.5-2.1l.5 1.8l.5-2.5l.5 2.3l.5-2.2l.5 2.1l.5-1.1l.5 2.4l.5-1.8l.5 2.5l.5-2.5l.5 1.4l.5-1l.5 1.2l.5-1.7l.5 1l.5-1.9l.5 2.3l.5-2.3l.5 2.1l.5-2.1l.5 2.1l.5-1.7l.5 2.5l.5-2.8l.5 1.7l.5-1.5l.5 1.9l.5-2.1l.5 2.7l.5-1.4l.5 1.8l.5-4.2l.5 3.1l.5-2.4l.5 2.7l.5-1.4l.5 1.4l.5-.9l.5 1.4l.5-2.7l.5 1.7l.5-1.7l.5 2.2l.5-2.2l.5 1.7l.5-1.3l.5 1.2l.5-2.5l.5 3.7l.5-3.4l.5 2.9l.5-2.7l.5 3.4l.5-3.7l.5 3.3l.5-2.9l.5 2.3l.5-2.2l.5 2.8l.5-2.1l.5 1.7l.5-.9l.5 .7l.5-.9l.5 1l.5-2.1l.5 1.2l.5-1.3l.5 3.3l.5-2.5l.5 3.1l.5-4l.5 2.4l.5-2l.5 2.9l.5-2.7l.5 2.7l.5-2.4l.5 1.3l.5-1.3l.5 1.4l.5-1.5l.5 1.3l.5-.9l.5 1.5l.5-2.6l.5 2.1l.5-1.3l.5 .9l.5-1.3l.5 2l.5-1.8l.5 2.5l.5-2.5l.5 2.3l.5-2l.5 2.4l.5-2.2l.5 2.5l.5-2.8l.5 2.8l.5-2l.5 2.5l.5-3.1l.5 2.8l.5-3.1l.5 2.6l.5-2.6l.5 2.8l.5-2.8l.5 1l.5-1.9l.5 2.9l.5-1.3l.5 1.6l.5-1.5l.5 2.7l.5-3.6l.5 1.3l.5-1.6l.5 2.1l.5-2.9l.5 2.5l.5-.7l.5 1.1l.5-1.8l.5 1.8l.5-.8l.5 1.3l.5-3.1l.5 1.7l.5-1.6l.5 2.4l.5-3.1l.5 3.5l.5-2.1l.5 2.6l.5-2.8l.5 2l.5-2.2l.5 2.1l.5-.6l.5 2.4l.5-2.7l.5 1.7l.5-2l.5 1.5l.5-.6l.5 1.1l.5-1.4l.5 1.8l.5-2.7l.5 2.1l.5-2.1l.5 2.6l.5-1.8l.5 1.7l.5-1.8l.5 1.8l.5-2.9l.5 2.2l.5-1.4l.5 1.7l.5-1.5l.5 2.2l.5-2.2l.5 1.7l.5-2.2l.5 2.8l.5-2.3l.5 2l.5-2.5l.5 1.7l.5-1.7l.5 1.8l.5-1.4l.5 1.6l.5-2.9l.5 3.4l.5-2.5l.5 2.8l.5-2.6l.5 2.2l.5-2.8l.5 2.4l.5-3.4l.5 3.5l.5-1.4l.5 2.4l.5-2.5l.5 1.4l.5-1.6l.5 1.5l.5-3l.5 2.7l.5-2.6l.5 3.7l.5-2.7l.5 2.6l.5-2.3l.5 1.3l.5-2.4l.5 2.7l.5-1.3l.5 1.8l.5-2l.5 1.5l.5-1.8l.5 1.8l.5-1.1l.5 .5l.5-2.4l.5 2.2l.5-1.1l.5 2.3l.5-2.6l.5 1.5l.5-1.4l.5 2l.5-2.3l.5 2l.5-.9l.5 1.8l.5-3.1l.5 2.6l.5-2l.5 1.6l.5-2.1l.5 2.4l.5-1.5l.5 1.8l.5-1.8l.5 1.4l.5-1.5l.5 1.9l.5-2l.5 1.9l.5-1.4l.5 1.3l.5-2l.5 2.4l.5-2.5l.5 1.9l.5-.7l.5 1.1l.5-2.4l.5 3l.5-3.5l.5 1.8l.5-1.6l.5 2.2l.5-.1l.5 2.8l.5-3.2l.5 2.3l.5-2.9l.5 2.9l.5-3.2l.5 2.5l.5-2l.5 .9l.5-1.6l.5 3.8l.5-2.7l.5 2.4l.5-2.3l.5 1l.5-2.6l.5 2.5l.5-2.4l.5 2.5l.5-2.3l.5 2.9l.5-2.4l.5 1.6l.5-1.6l.5 3.1l.5-2.7l.5 1.5l.5-2.3l.5 2.8l.5-2.6l.5 1.5l.5-1.2l.5 1.4l.5-1.2l.5 1.5l.5-2.3l.5 2l.5-3.4l.5 4.1l.5-2.3l.5 2l.5-1.5l.5 .7l.5-1.4l.5 1l.5-.9l.5 1.6l.5-1.3l.5 .5l.5-.7l.5 1.2l.5-2.1l.5 2.5l.5-2.8l.5 2.2l.5-2.1l.5 1.7l.5-2.1l.5 3.8l.5-2.1l.5 1.4l.5-1.3l.5 1.2l.5-.4l.5 1.9l.5-2.3l.5 1.7l.5-2.3l.5 1.6l.5-1.7l.5 1.5l.5-1.3l.5 1.7l.5-1.5l.5 2.5l.5-2.4l.5 2.4l.5-2.3l.5 1.6l.5-1.4l.5 .9l.5-1.3l.5 2.2l.5-2l.5 1.5l.5-2.2l.5 1.5l.5-1.9l.5 2.6l.5-1.2l.5 1.9l.5-3l.5 1.8l.5-1.3l.5 .5l.5-.4l.5 1.6l.5-1.7l.5 1.3l.5-.9l.5 2.5l.5-2.5l.5 1.6l.5-2.4l.5 2.6l.5-2.3l.5 1.1l.5-1.1l.5 .7l.5-.7l.5 2.3l.5-1.2l.5 2.4l.5-2.3l.5 1.9l.5-1.9l.5 .6l.5-.8l.5 .9l.5-1.4l.5 1.2l.5-1.4l.5 .7l.5-1.2l.5 1.9l.5-1.6l.5 1.9l.5-1.9l.5 1.4l.5-1.4l.5 2.6l.5-2.6l.5 1.8l.5-3.1l.5 3.2l.5-2.2l.5 2.6l.5-2.8l.5 1.8l.5-1.6l.5 2l.5-2l.5 1.9l.5-2.2l.5 2.3l.5-1.2l.5 1.7l.5-2.7l.5 2.6l.5-1.9l.5 1.7l.5-2.5l.5 2.7l.5-2.2l.5 1.4l.5-1.7l.5 1.3l.5-.5l.5 2.2l.5-2.2l.5 1.3l.5-2l.5 2.7l.5-2.7l.5 1.9l.5-1.5l.5 2.2l.5-1.9l.5 1.2l.5-1.7l.5 3.1l.5-2l.5 .6l.5-.5l.5 .6l.5-1.5l.5 2.1l.5-2.1l.5 1.5l.5-1.3l.5 1.5l.5-1.5l.5 1.3l.5-2.9l.5 3.4l.5-1.9l.5 1.2l.5-.9l.5 1.1l.5-.8l.5 1.1l.5-2.1l.5 1.9l.5-1.2l.5 .8l.5-.8l.5 1.4l.5-1.7l.5 2.2l.5-2l.5 1.9l.5-2.7l.5 1.9l.5-1.1l.5 .2l.5-1.6l.5 2.9l.5-2.6l.5 2.5l.5-1.7l.5 1.8l.5-1l.5 2.2l.5-2.4l.5 1.7l.5-1.7l.5 1.7l.5-2.3l.5 1.7l.5-2.2l.5 2.8l.5-2.1l.5 2.4l.5-3l.5 2.3l.5-1.9l.5 1.7l.5-1.3l.5 .6l.5-1.7l.5 1.5l.5-1.3l.5 1.8l.5-1l.5 1.4l.5-1.6l.5 2.2l.5-2.8l.5 2.7l.5-2.6l.5 1.9l.5-2l.5 2.2l.4-.6l.6 .9l.5-1.7l.5 2l.5-2.2l.5 1.7l.5-1.2l.5 1.8l.5-1.5l.5 .8l.5-2.5l.5 2l.5-.7l.5 2l.5-1.2l.5 2.4l.5-2.4l.5 1.6l.5-3.1l.5 2.9l.5-2.1l.5 1.9l.5-1.9l.5 1.8l.5-1.8l.5 1l.5-2.1l.5 1.7l.5-1l.5 1.8l.5-1.1l.5 1.9l.5-2.4l.5 1.5l.5-1.1l.5 1.2l.5-1.4l.5 1.4l.5-1.5l.5 2.1l.5-1.7l.5 1.8l.5-2.4l.5 1.9l.5-2.1l.5 1.4l.5-.9l.5 1.7l.5-2.3l.5 3.4l.5-3.3l.5 2.5l.5-1.9l.5 1.8l.5-2l.5 2.5l.5-2.9l.5 1.9l.5-1.2l.5 2l.5-2.5l.5 1.9l.5-2l.5 2.4l.5-1.3l.5 1.5l.5-.8l.5 1l.5-1.9l.5 .8l.5-1.5l.5 1.6l.5-2.3l.5 1.8l.5-.9l.5 1.1l.5-.9l.5 1.3l.5-2l.5 2.1l.5-2.7l.5 3.1l.5-2.4l.5 2l.5-1.9l.5 2l.5-2.7l.5 1.9l.5-1.4l.5 2.7l.5-2.3l.5 2.5l.5-1.3l.5 .9l.5-1.7l.5 2.7l.5-1.5l.5 1.1l.5-2.2l.5 .6l.5-.3l.5 .3l.5-1.3l.5 1.9l.5-1.7l.5 1.9l.5-2.3l.5 1.5l.5-.8l.5 1.3l.5-.9l.5 .7l.5-1.5l.5 1.6l.5-.9l.5 1.2l.5-2.3l.5 2.2l.5-.5l.5 1.2l.5-2.3l.5 2.2l.5-1.7l.5 1.6l.5-1.7l.5 1l.5-.9l.5 1.5l.5-2.3l.5 2.4l.5-1.9l.5 2.3l.5-2.2l.5 2.3l.5-1.4l.5 .8l.5-1.1l.5 1.7l.5-1.3l.5 1.3l.5-2.1l.5 1l.5-2.3l.5 1.7l.5-1.5l.5 3.4l.5-2.7l.5 2l.5-1.9l.5 3.1l.5-1.9l.5 1.4l.5-1.8l.5 1.9l.5-2.3l.5 2.1l.5-1.7l.5 1.7l.5-1.2l.5 1.1l.5-1.6l.5 1.3l.5-1.5l.5 1.9l.5-2.3l.5 1.4l.5-1.5l.5 2l.5-1.5l.5 1.9l.5-1.9l.5 1.9l.5-2l.5 1.4l.5-3.1l.5 1.7l.5-1.1l.5 2.1l.5-1.2l.5 .9l.5-2l.5 2.4l.5-2.7l.5 2.9l.5-2.2l.5 2.1l.5-2l.5 2.8l.5-2.2l.5 2.2l.5-1.7l.5 2.7l.5-2.7l.5 1.9l.5-1.1l.5 1.4l.5-1.7l.5 .8l.5-1.2l.5 1.2l.5-1.8l.5 2.9l.5-2l.5 2.8l.5-2.7l.5 2.8l.5-3.9l.5 2.3l.5-1.8l.5 1.2l.5-1.1l.5 2.1l.5-2.3l.5 2.2l.5-1.9l.5 2.2l.5-2.6l.5 1.1l.5-1.6l.5 1.6l.5-1.8l.5 2.2l.5-1.1l.5 1.8l.5-2.3l.5 2.5l.5-2.3l.5 2.9l.5-2.3l.5 1.2l.5-.7l.5 1.6l.5-2.7l.5 2.1l.5-1.4l.5 1.6l.5-1.8l.5 1.7l.5-1.5l.5 2.4l.5-3l.5 1.4l.5-1l.5 .8l.5-1.7l.5 2.5l.5-1.9l.5 1.5l.5-1.6l.5 1l.5-2.1l.5 2.4l.5-3.2l.5 2.6l.5-1.1l.5 2.5l.5-1.5l.5 1.5l.5-.4l.5 1.6l.5-2l.5 1.7l.5-2.4l.5 2.5l.5-2.4l.5 1.8l.5-1.8l.5 1.7l.5-2.6l.5 2.2l.5-1.9l.5 1.8l.5-.7l.5 .8l.5-1.6l.5 2.3l.5-2.8l.5 2.3l.5-1.9l.5 2.7l.5-2.6l.5 1.9l.5-1.5l.5 1.9l.5-1.2l.5 1.6l.5-2.5l.5 1.7l.5-2.7l.5 2.4l.5-1.4l.5 1.7l.5-1.1l.5 1.5l.5-2.1l.5 2.1l.5-2.8l.5 2.3l.5-1.9l.5 1.4l.5-.9l.5 1.5l.5-1.7l.5 2l.5-2.5l.5 2.8l.5-2.4l.5 2.2l.5-1.9l.5 2.2l.5-2.5l.5 2l.5-1.6l.5 3.4l.5-2.8l.5 1.6l.5-1.4l.5 .5l.5-1.8l.5 2l.5-2l.5 2.5l.5-3.6l.5 2.4l.5-1.8l.5 2.7l.5-1.9l.5 2.5l.5-1.9l.5 2.4l.5-3l.5 1.8l.5-2.6l.5 2.5l.5-2.1l.5 2.2l.5-2.4l.5 3.1l.5-1.8l.5 1.5l.5-1.4l.5 .9l.5-1.5l.5 1.5l.5-1l.5 1l.5-2l.5 2.3l.5-1.5l.5 2l.5-2l.5 .9l.5-.7l.5 1.1l.5-2.3l.5 2.7l.5-2.3l.5 1.6l.5-.8l.5 .9l.5-1.3l.5 .7l.5-1l.5 2.3l.5-1.6l.5 2l.5-1.4l.5 .4l.5-1.1l.5 1.8l.5-3l.5 2l.5-2l.5 2l.5-2.2l.5 2.6l.5-1.8l.5 1.9l.5-1.6l.5 1.2l.5-.6l.5 1.4l.5-1.8l.5 1.5l.5-1.5l.5 2.2l.5-2.1l.5 1.6l.5-1.9l.5 3l.5-2.5l.5 1l.5-.7l.5 1.5l.5-2.1l.5 2.4l.5-1.9l.5 1.6l.5-1.5l.5 2.2l.5-2.1l.5 2l.5-2.1l.5 .5l.5-.9l.5 .9l.5-1l.5 1.9l.5-2.7l.5 2.5l.5-1.3l.5 1.4l.5-1.4l.5 2.1l.5-2.3l.5 1.9l.5-1.6l.5 .7l.5-.7l.5 1l.5-1.5l.5 1.8l.5-1.5l.5 1.1l.5-2.2l.5 2l.5-.8l.5 1.2l.5-1.3l.5 1.2l.5-1.6l.5 2.7l.5-1.9l.5 .8l.5-1.8l.5 1.6l.5-1.3l.5 1.7l.5-1.9l.5 2.1l.5-1.2l.5 1.9l.5-1.6l.5 1.8l.5-2.3l.5 2.1l.5-1.8l.5 1.8l.5-1.1l.5 .9l.5-1l.5 1.2l.5-1.8l.5 .6l.5-1.6l.5 1.8l.5-1l.5 1.8l.3-.9l.2 .6l.5-2l.5 2.4l.5-1.3l.5 2.4l.5-2l.5 1.1l.5-2.1l.5 1.4l.5-1.3l.5 1.8l.5-2.7l.5 2.4l.5-1.2l.5 1.8l.5-2.2l.5 1.1l.5-1.6l.5 2l.5-1.7l.5 2.6l.5-2.3l.5 2.4l.5-2.3l.5 1.2l.5-1.5l.5 1.4l.5-1.7l.5 1.5l.5-1.2l.5 2.5l.5-3l.5 2.7l.5-1.6l.5 1.6l.5-2.1l.5 2.3l.5-2.1l.5 1.8l.5-1.6l.5 1.6l.5-1.2l.5 1.6l.5-1.6l.5 1.8l.5-2.5l.5 1.9l.5-2.3l.5 1.5l.5-1.7l.5 1.8l.5-1.7l.5 1.8l.5-2l.5 1.2l.5-1l.5 1.3l.5-1.5l.5 1.6l.5-.1l.5 .5l.5-1.6l.5 1.6l.5-1.4l.5 1.4l.5-.6l.5 .9l.5-1.7l.5 1.9l.5-2.1l.5 1.9l.5-1.5l.5 1.7l.5-1.6l.5 2.7l.5-2.8l.5 1.7l.5-1.6l.5 1l.5-1.8l.5 1.8l.5-.8l.5 1.3l.5-1.5l.5 2.3l.5-1.8l.5 1.2l.5-2.2l.5 1.4l.5-.9l.5 1.6l.5-2.2l.5 2.4l.5-.5l.5 1.4l.5-2.9l.5 2l.5-.8l.5 1.8l.5-2l.5 2.2l.5-2.2l.5 1.4l.5-1.4l.5 1.9l.5-3l.5 1.4l.5-.6l.5 1.9l.5-2.3l.5 .6l.5-1.1l.5 1.8l.5-1.4l.5 2l.5-1.2l.5 1.2l.5-1.8l.5 1.2l.5-1.2l.5 1.5l.5-1.9l.5 2.5l.5-1.8l.5 1.6l.5-2.3l.5 2.1l.5-2.1l.5 3l.5-2.4l.5 2.6l.5-1.2l.5 1.8l.5-2.3l.5 1.7l.5-1.2l.5 .2l.5-1.3l.5 1.8l.5-2.4l.5 1.3l.5-1.5l.5 2.1l.5-1.3l.5 2.1l.5-1.3l.5 1l.5-.7l.5 .5l.5-.5l.5 1.2l.5-1.9l.5 1.9l.5-2.2l.5 1.4l.5-1.5l.5 1.6l.5-1.8l.5 1.9l.5-1.5l.5 1.3l.5-1.6l.5 1.7l.5-1.5l.5 2.9l.5-2.1l.5 1.4l.5-1l.5 .7l.5-1.4l.5 .6l.5-1l.5 1.9l.5-1.6l.5 1.2l.5-1.2l.5 1.6l.5-1.4l.5 .7l.5-2.4l.5 2.3l.5-1.8l.5 1.9l.5-1.2l.5 1.3l.5-1.7l.5 1.4l.5-1.2l.5 2.4l.5-2.5l.5 1.5l.5-.5l.5 .5l.5-1.6l.5 2.1l.5-2.2l.5 1.7l.5-.5l.5 1.4l.5-1.6l.5 1.3l.5-1.5l.5 1.8l.5-2l.5 1.3l.5-.6l.5 1l.5-1.3l.5 1.9l.5-1.1l.5 1.1l.5-1.9l.5 1.6l.5-1.8l.5 1.1l.5-.9l.5 1.6l.5-1.1l.5 .9l.5-.9l.5 1.9l.5-2.4l.5 2.1l.5-2.1l.5 1.5l.5-1l.5 .8l.5-2.1l.5 2.2l.5-2.1l.5 2l.5-2l.5 1.6l.5-1.6l.5 2.1l.5-1.9l.5 2l.5-1.6l.5 1.3l.5-1.2l.5 1l.5-1.9l.5 1.1l.5-.9l.5 2.8l.5-2.2l.5 1.4l.5-1l.5 2l.5-2.1l.5 1.8l.5-1.9l.5 1.6l.5-2.8l.5 2.7l.5-1.5l.5 1.1l.5-1.6l.5 1.9l.5-2.1l.5 2l.5-.9l.5 1.4l.5-1.6l.5 1.5l.5-.9l.5 .9l.5-1.1l.5 1.3l.5-1l.5 .7l.5-1.7l.5 1.2l.5-.8l.5 1.3l.5-1.8l.5 1.3l.5-.8l.5 .7l.5-.6l.5 1.8l.5-1.7l.5 1.4l.5-1.4l.5 2.1l.5-2.9l.5 2.4l.5-1.6l.5 .5l.5-1.5l.5 2l.5-1.5l.5 1.6l.5-1.3l.5 1.4l.5-1.9l.5 2l.5-1.5l.5 1.5l.5-1.5l.5 1.5l.5-2.3l.5 2.4l.5-2l.5 2.4l.5-1.1l.5 1.6l.5-1.8l.5 1.3l.5-1.6l.5 .9l.5-.8l.5 1.8l.5-2.5l.5 1.8l.5-1.1l.5 1.5l.5-2.1l.5 1.9l.5-2.5l.5 1.4l.5-1.5l.5 2.6l.5-1.7l.5 1.8l.5-2.1l.5 2.4l.5-1.9l.5 .7l.5-1.1l.5 2l.5-2.7l.5 3l.5-2.6l.5 1.9l.5-1.3l.5 1.3l.5-1.2l.5 1.1l.5-.8l.5 1.4l.5-1.5l.5 2.7l.5-2.9l.5 1.5l.5-1.7l.5 1.4l.5-1l.5 .8l.5-1.4l.5 2.3l.5-1.2l.5 .9l.5-2.2l.5 2.2l.5-2.1l.5 1.5l.5-.9l.5 1.4l.5-2l.5 1.8l.5-.6l.5 1.7l.5-1.5l.5 1.5l.5-2.2l.5 2l.5-2.8l.5 2.7l.5-2.3l.5 1.4l.5-.9l.5 1.7l.5-2.4l.5 3l.5-2.9l.5 2.8l.5-1.6l.5 2.2l.5-2l.5 1.5l.5-1.2l.5 1.3l.5-1.9l.5 1l.5-1.4l.5 1.4l.5-1.5l.5 1.8l.5-1.2l.5 .9l.5-1.8l.5 1.6l.5-1.4l.5 1.4l.5-.8l.5 1.3l.5-1.8l.5 1.3l.5-1.4l.5 1.3l.5-1.1l.5 1.1l.5-1.2l.5 2.5l.5-1.5l.5 1.6l.5-2l.5 1.3l.5-.4l.5 .7l.5-2.1l.5 1.2l.5-2.2l.5 1.8l.5-1l.5 .8l.5-1.2l.5 1.5l.5-1.5l.5 1.9l.5-1l.5 1.8l.5-2.5l.5 2.3l.5-1.7l.5 .8l.5-1.3l.5 1.2l.5-.7l.5 1.4l.5-1.8l.5 1.9l.5-1.5l.5 1.8l.5-2.4l.5 1.1l.5-.7l.5 1.6l.5-1.6l.5 2l.5-1.5l.5 .9l.5-1.7l.5 1.6l.5-1.2l.5 1.2l.5-1.5l.5 1.7l.5-.5l.5 1.4l.5-1.4l.5 1.5l.5-1.9l.5 2l.5-2.9l.5 1.6l.5-1.5l.5 1l.5-1.8l.5 2.3l.5-2.5l.5 1.9l.5-.6l.5 1.6l.5-2l.5 1.9l.5-1.5l.5 1.9l.5-2l.5 1.1l.5-1.4l.5 1.9l.5-1.2l.5 2.2l.5-2.6l.5 1.9l.5-.6l.5 .8l.5-1.8l.5 1.8l.5-1.2l.5 1l.5-.8l.5 1l.5-2l.5 2.1l.5-1.8l.5 1.6l.5-1.7l.5 1.8l.5-1.1l.5 2.7l.5-2.4l.5 2.1l.5-2l.5 .8l.5-1.5l.5 .7l.5-2.2l.5 3l.5-2.8l.5 2.3l.5-2l.5 1.3l.5-1.2l.5 1.9l.5-1.2l.5 1.8l.5-1.5l.5 .6l.5-.5l.5 .7l.5-.2l.5 1.6l.5-2l.5 1.5l.5-2.3l.5 2.5l.5-2.1l.5 1.5l.5-2.6l.5 1.8l.5-1.7l.5 1.6l.5-.3l.5 1.5l.5-1.6l.5 1.8l.5-1.6l.5 1.5l.5-2.9l.5 2.3l.5-2.1l.5 2.5l.5-.9l.5 1.7l.5-1.7l.5 1l.5-2.4l.5 2l.5-1.2l.5 1.5l.5-2.1l.5 2.7l.5-1.9l.5 1.9l.5-1.3l.5 1.1l.5-1.3l.5 2.4l.5-2l.5 1.5l.5-2.1l.5 .9l.5-1.8l.5 2.4l.5-1.8l.5 1.2l.5-1.2l.5 1.2l.5-2.5l.5 2.4l.5-1.5l.5 1.3l.5-1l.5 .9l.5-1.6l.5 1.9l.5-1.4l.5 1.8l.5-1.1l.5 1.9l.5-2l.5 .3l.5-1.1l.5 1.3l.5-.7l.5 1.9l.5-1.4l.5 1.7l.5-1.8l.5 2.1l.5-2.8l.5 2l.5-1.3l.5 1.1l.5-1.3l.5 2.2l.5-1.6l.5 1.2l.5-1.8l.5 .7l.5-.5l.5 1.9l.5-2.1l.5 1.7"/>
<path stroke="#000000" d="M180.0,1207.7l.5-1.5l.5 .9l.5-1.5l.5 1.8l.5-2l.5 1.3l.5-1.5l.5 3l.5-2.9l.5 1.2l.5-1.4l.5 2.2l.5-2.9l.5 2.3l.5-2.8l.5 3.2l.5-1.7l.5 2.2l.5-2.5l.5 2.6l.5-2.8l.5 1.7l.5-2l.5 1.2l.5-2l.5 1.9l.5-1.7l.5 2l.5-1.4l.5 2.1l.5-1.3l.5 1.9l.5-1.5l.5 1.5l.5-1.2l.5 1.3l.5-2.6l.5 1.2l.5-1.4l.5 2l.5-1.8l.5 2.1l.5-2.6l.5 3.5l.5-3.1l.5 2.7l.5-1.6l.5 1.9l.5-3.3l.5 2.7l.5-2.8l.5 2.2l.5-1.8l.5 2l.5-3.5l.5 1.8l.5-1.9l.5 2.9l.5-1.7l.5 3l.5-2.2l.5 2.9l.5-3.1l.5 1.4l.5-2l.5 2.1l.5-1.4l.5 1.9l.5-1.5l.5 1.9l.5-3.2l.5 2.4l.5-2l.5 2.4l.5-2.4l.5 1.8l.5-1.5l.5 2.4l.5-2.6l.5 2l.5-2.9l.5 2.4l.5-2.4l.5 2.9l.5-2.7l.5 2.5l.5-2.7l.5 2.5l.5-1.9l.5 2.3l.5-2.8l.5 2.6l.5-2.2l.5 2.5l.5-1.3l.5 1.6l.5-2.6l.5 2.5l.5-1.2l.5 1.2l.5-2l.5 2.4l.5-2.8l.5 1.9l.5-1.8l.5 1.7l.5-1.7l.5 1.5l.5-1.1l.5 1.7l.5-2.3l.5 2l.5-1.5l.5 1.8l.5-1.1l.5 2.1l.5-1.8l.5 1.7l.5-1.7l.5 1.7l.5-2.9l.5 2l.5-.5l.5 1.6l.5-2.8l.5 1.7l.5-1.5l.5 1.5l.5-1.5l.5 2.8l.5-2.8l.5 1.8l.5-3l.5 3l.5-2.9l.5 1.6l.5-1.7l.5 1.8l.5-1l.5 1.9l.5-.5l.5 .4l.5-.6l.5 1.5l.5-3.1l.5 1.9l.5-2.1l.5 2l.5-2.7l.5 2.4l.5-1.8l.5 3l.5-2.6l.5 1.6l.5-.7l.5 1.6l.5-1.8l.5 3l.5-2.7l.5 2.1l.5-3l.5 2.8l.5-2.3l.5 2l.5-2.5l.5 2.4l.5-1.6l.5 1.9l.5-1.8l.5 .7l.5-1.5l.5 1.8l.5-1.8l.5 1.3l.5-3.3l.5 3.2l.5-1.9l.5 2.6l.5-2.4l.5 1.7l.5-1.7l.5 1.6l.5-2.2l.5 2.6l.5-1.4l.5 1.8l.5-1.6l.5 2.1l.5-1.9l.5 1.5l.5-1.4l.5 1.6l.5-1.5l.5 1.6l.5-2.1l.5 1.5l.5-1.2l.5 1.6l.5-1.6l.5 2l.5-2.1l.5 1.3l.5-2.6l.5 2.9l.5-2.5l.5 2.6l.5-2.4l.5 2.1l.5-1.9l.5 3.2l.5-3.8l.5 3.1l.5-2.4l.5 2l.5-3.4l.5 3l.5-2.7l.5 3.2l.5-2.8l.5 3.1l.5-2.6l.5 2.4l.5-1.9l.5 3.1l.5-3.4l.5 2.2l.5-2.8l.5 2.3l.5-1.7l.5 1.9l.5-1.7l.5 1.6l.5-2.4l.5 1.8l.5-1.8l.5 1.8l.5-1.7l.5 1.8l.5-2.1l.5 2.7l.5-2.6l.5 1.4l.5-1.8l.5 1.8l.5-1.2l.5 2.3l.5-1.6l.5 1.4l.5-1.4l.5 2.8l.5-2.7l.5 1.8l.5-2.3l.5 2.5l.5-3l.5 1.8l.5-1.1l.5 2.8l.5-3.6l.5 1.6l.5-2l.5 2.9l.5-1.8l.5 1.8l.5-2l.5 2.2l.5-2.4l.5 2l.5-1.1l.5 .9l.5-1.6l.5 1.6l.5-1.4l.5 2.4l.5-2.8l.5 2.1l.5-2.1l.5 2.4l.5-2.3l.5 1.8l.5-2.6l.5 2.4l.5-1.3l.5 1.3l.5-2l.5 1.8l.5-1.6l.5 2.8l.5-3.1l.5 2.8l.5-2.2l.5 1.3l.5-1.3l.5 1.8l.5-2.2l.5 2.3l.5-2l.5 1.5l.5-2l.5 1.7l.5-2.5l.5 2.9l.5-2.2l.5 3.5l.5-1.2l.5 .9l.5-1.9l.5 1.6l.5-2.5l.5 3l.5-2.3l.5 1.9l.5-2.9l.5 2.1l.5-1.9l.5 2.3l.5-2.5l.5 3l.5-2.8l.5 2.5l.5-2.4l.5 1.2l.5-1.9l.5 1.2l.5-1.3l.5 2.9l.5-2.2l.5 2.1l.5-2.6l.5 2.4l.5-2.9l.5 3.2l.5-3.7l.5 2.6l.5-2.8l.5 2.4l.5-2l.5 2.5l.5-2.3l.5 2.2l.5-.8l.5 2.4l.5-1.7l.5 1.7l.5-1.8l.7 .3l.3-1.6l.5 2.8l.5-3l.5 2.1l.5-1.6l.5 2.8l.5-2.7l.5 1.9l.5-1.1l.5 1.1l.5-1.9l.5 2.5l.5-2.8l.5 2.8l.5-2.4l.5 2l.5-1.9l.5 3l.5-2.6l.5 1.9l.5-1.4l.5 1.7l.5-2.5l.5 1.5l.5-1.5l.5 1.6l.5-1.4l.5 2.6l.5-2.9l.5 3.2l.5-3.3l.5 2.5l.5-1.8l.5 3l.5-4l.5 2.3l.5-.9l.5 1.3l.5-2.3l.5 1.2l.5-1.8l.5 2.1l.5-.4l.5 1.3l.5-2l.5 2.3l.5-2.9l.5 2.6l.5-2.1l.5 1.6l.5-1l.5 .8l.5-2.5l.5 2.8l.5-3.4l.5 3l.5-.9l.5 1.6l.5-2.8l.5 2.2l.5-.7l.5 1.3l.5-2.8l.5 1.4l.5-1.7l.5 1.3l.5-1.1l.5 1.1l.5-1.3l.5 2l.5-1.5l.5 1.1l.5-1.8l.5 2.7l.5-1.4l.5 1.2l.5-1.9l.5 1.2l.5-1.5l.5 2l.5-2.3l.5 2.1l.5-.9l.5 1.7l.5-2.9l.5 2.6l.5-1.5l.5 2.1l.5-1.7l.5 2.5l.5-2.4l.5 2.1l.5-2.6l.5 1.7l.5-1.6l.5 1.1l.5-1l.5 1.6l.5-1.7l.5 2.3l.5-2.8l.5 2.3l.5-3.1l.5 1.6l.5-1.4l.5 2.4l.5-1.7l.5 1.6l.5-1.6l.5 2.8l.5-3.4l.5 2.4l.5-2.2l.5 3.1l.5-3l.5 3.8l.5-2.9l.5 2l.5-2.3l.5 2.1l.5-1.8l.5 2.2l.5-2.2l.5 1.3l.5-2.1l.5 1.9l.5-1.6l.5 1.1l.5-1.1l.5 2.7l.5-1.9l.5 2l.5-2.6l.5 1.6l.5-3l.5 2.6l.5-2.5l.5 3.3l.5-2.8l.5 1.8l.5-1.6l.5 2.4l.5-2.2l.5 1.7l.5-1.8l.5 3.3l.5-2.1l.5 2l.5-3.2l.5 3.2l.5-4.5l.5 2.8l.5-1.3l.5 1.7l.5-1.2l.5 2.2l.5-2.7l.5 2.2l.5-1.8l.5 .8l.5-2.4l.5 3.6l.5-2.3l.5 2.1l.5-1.5l.5 2l.5-1.3l.5 1.6l.5-2.6l.5 1.7l.5-1.5l.5 1.1l.5-2.8l.5 1.5l.5-1.9l.5 3.3l.5-1.7l.5 1.6l.5-1.4l.5 3l.5-2.5l.5 1.9l.5-1.9l.5 1.8l.5-2.3l.5 2l.5-1.5l.5 1l.5-.8l.5 2l.5-2l.5 .5l.5-1.8l.5 2.5l.5-3.2l.5 4l.5-3.3l.5 2.5l.5-1.7l.5 .9l.5-1.5l.5 2.2l.5-1l.5 .9l.5-1l.5 2.2l.5-2.7l.5 2.3l.5-1.9l.5 2l.5-2l.5 1.6l.5-.9l.5 1.5l.5-3l.5 2.4l.5-2.7l.5 2.5l.5-3.5l.5 3l.5-1.7l.5 .8l.5-1.8l.5 3.2l.5-2.6l.5 3.1l.5-2.4l.5 1.4l.5-1l.5 1l.5-1l.5 1.1l.5-1.8l.5 1.6l.5-1.3l.5 1.3l.5-2.8l.5 2.1l.5-1.4l.5 2.7l.5-2.6l.5 2.1l.5-2.6l.5 2.7l.5-2.3l.5 2.4l.5-2.2l.5 3l.5-2.4l.5 2.2l.5-1.4l.5 1.4l.5-1.9l.5 1.6l.5-2.5l.5 2l.5-2l.5 2.2l.5-3l.5 3.4l.5-2.4l.5 2l.5-1.9l.5 2.1l.5-2l.5 1.6l.5-1.3l.5 .4l.5-1.2l.5 3l.5-2l.5 2.2l.5-2.1l.5 1.8l.5-2l.5 1.3l.5-2.1l.5 1.2l.5-1.2l.5 2.1l.5-1.3l.5 1.3l.5-2.6l.5 2.2l.5-2.3l.5 2.4l.5-1l.5 1.3l.5-1.5l.5 3l.5-4.2l.5 2.8l.5-1.7l.5 2.1l.5-2.5l.5 2.1l.5-1.1l.5 2.6l.5-3.7l.5 1.8l.5-.6l.5 .7l.5-2l.5 2.4l.5-2.1l.5 1.3l.5-.9l.5 2.9l.5-2.2l.5 1.9l.5-2.2l.5 2.2l.5-1.6l.5 1.4l.5-1.6l.5 1.8l.5-2.9l.5 1.8l.5-1.9l.5 2.6l.5-2l.5 .7l.5-3l.5 2.1l.5-1.3l.5 1.2l.5-1.2l.5 1.3l.5-.3l.5 1.2l.5-1.9l.5 2.4l.5-2.3l.5 3l.5-2.8l.5 2.8l.5-2l.5 1.5l.5-3.7l.5 4.9l.5-3.8l.5 2.8l.5-3l.5 2.6l.5-2.6l.5 3.4l.5-1.6l.5 3.1l.5-2.3l.5 1.2l.5-1.4l.5 1l.5-1.5l.5 1.8l.5-2.1l.5 1.5l.5-2.2l.5 1.1l.5-1.7l.5 .9l.5-1.6l.5 1.7l.5-1.6l.5 2.5l.5-1.6l.5 2.9l.3-1.7l.2 .2l.5-1.4l.5 1.8l.5-1.5l.5 2.3l.5-1l.5 1.5l.5-2.1l.5 2.7l.5-3.2l.5 2.6l.5-3.9l.5 2.8l.5-1.2l.5 2.6l.5-2.5l.5 2l.5-2.2l.5 1.2l.5-1.4l.5 1.4l.5-.7l.5 1.2l.5-2.8l.5 4l.5-3.1l.5 2.1l.5-2.5l.5 3l.5-3l.5 2.1l.5-1.7l.5 2.7l.5-4.3l.5 3.2l.5-.9l.5 1.4l.5-2.6l.5 1.9l.5-3l.5 2.7l.5-1.6l.5 .4l.5-1.3l.5 1.5l.5-1.5l.5 1.9l.5-.7l.5 1.3l.5-1.1l.5 1.4l.5-2.7l.5 3l.5-3l.5 1.7l.5-2.5l.5 3.6l.5-2.3l.5 3l.5-2.8l.5 3.6l.5-3l.5 3l.5-2.3l.5 1.2l.5-1.9l.5 1.9l.5-2.3l.5 2.2l.5-2.4l.5 2l.5-1l.5 1.9l.5-2.9l.5 1.8l.5-2.2l.5 2.2l.5-2.4l.5 1.4l.5-.1l.5 1.7l.5-2.5l.5 2.7l.5-1.4l.5 1.2l.5-1.5l.5 1.7l.5-1.8l.5 .3l.5-1.9l.5 2.6l.5-1.5l.5 2.4l.5-3.3l.5 1.6l.5-1.2l.5 2.8l.5-2.3l.5 1.6l.5-2.4l.5 2.3l.5-1.3l.5 1.1l.5-1.1l.5 1.9l.5-1.4l.5 1.8l.5-1.6l.5 1.2l.5-1.2l.5 1.3l.5-2.5l.5 3.2l.5-3.9l.5 2.4l.5-2.3l.5 2.4l.5-2.4l.5 2.7l.5-2.2l.5 3.1l.5-3.1l.5 2.9l.5-3.1l.5 1.9l.5-1.5l.5 1.2l.5-1.1l.5 1.9l.5-2.5l.5 1.9l.5-3.4l.5 3.5l.5-2.8l.5 3.3l.5-1.9l.5 1.3l.5-2.8l.5 2.3l.5-1.6l.5 2.4l.5-1.2l.5 2l.5-1.3l.5 1.1l.5-2.1l.5 1.2l.5-2.4l.5 4.2l.5-4.2l.5 2.6l.5-2.2l.5 1.8l.5-2l.5 3.1l.5-3.2l.5 2.6l.5-2.4l.5 3.3l.5-2.6l.5 1.9l.5-2.6l.5 2.7l.5-1.5l.5 .9l.5-1.4l.5 2l.5-1.9l.5 .6l.5-2.1l.5 2.9l.5-2.4l.5 1.7l.5-1l.5 3.3l.5-3.7l.5 2.3l.5-3.2l.5 3.6l.5-4.3l.5 1.8l.5-1l.5 2.1l.4-.5l.6 .5l.5-1.3l.5 1.4l.5-1.7l.5 2.4l.5-1.3l.5 .4l.5-1.2l.5 2.3l.5-2.9l.5 2.5l.5-1.5l.5 1.6l.5-1.4l.5 1.4l.5-1.5l.5 1.1l.5-1.6l.5 3.4l.5-3.9l.5 2.5l.5-2.2l.5 2l.5-2.4l.5 2l.5-1.9l.5 2.7l.5-3.2l.5 2.7l.5-3.2l.5 3.1l.5-1.7l.5 1l.5-.5l.5 2l.5-2.1l.5 3.1l.5-2.3l.5 1.3l.5-2.2l.5 2.9l.5-2.9l.5 1.9l.5-3.4l.5 2.9l.5-2.3l.5 1l.5-2l.5 3.3l.5-2.6l.5 2.2l.5-1.1l.5 1.5l.5-2l.5 2.8l.5-2.1l.5 2.4l.5-2.9l.5 2.9l.5-2.2l.5 1.7l.5-3l.5 3.1l.5-1.5l.5 1.1l.5-2.6l.5 1.2l.5-.9l.5 1.3l.5-1.9l.5 2.1l.5-1.8l.5 .7l.5-.5l.5 2.7l.5-2.5l.5 1.7l.5-2.6l.5 1.7l.5-2.6l.5 2.8l.5-2.2l.5 1.6l.5-.3l.5 .6l.5-1.9l.5 1.8l.5-2.4l.5 3.5l.5-2.9l.5 2l.5-2.2l.5 3.6l.5-2.2l.5 2.4l.5-2.5l.5 1.6l.5-2.8l.5 1.8l.5-1.4l.5 2l.5-2.6l.5 2.2l.5-1.9l.5 2.6l.5-2.3l.5 2.7l.5-2.9l.5 3.5l.5-4l.5 3.4l.5-3l.5 1.9l.5-2.2l.5 3.4l.5-3.9l.5 2.6l.5-3.3l.5 2.6l.5-.7l.5 1.8l.5-1.5l.5 .9l.5-1.6l.5 2.6l.5-3.7l.5 2.6l.5-2.3l.5 1.4l.5-1.5l.5 3.3l.5-1.9l.5 1.7l.5-2.7l.5 1.4l.5-1.7l.5 1.3l.5-1.2l.5 2.5l.5-2.3l.5 3.2l.5-2.3l.5 2l.5-3.7l.5 2.1l.5-2.2l.5 3l.5-2.6l.5 2.2l.5-2l.5 1.5l.5-.9l.5 1l.5-1.5l.5 1.9l.5-3.5l.5 3.1l.5-.8l.5 1.8l.5-2.6l.5 2.2l.5-3.2l.5 2.5l.5-3.8l.5 3.9l.5-3.1l.5 3.1l.5-1.9l.5 1.2l.5-1.8l.5 2.3l.5-4.4l.5 4.3l.5-1.8l.5 1.9l.5-2.1l.5 2.7l.5-2.9l.5 3.5l.5-2.3l.5 2l.5-3.1l.5 1.2l.5-2.4l.5 3.3l.5-1.3l.5 .8l.5-1.6l.5 2.8l.5-3.9l.5 3l.5-2l.5 3.1l.5-3.2l.5 3l.5-3.6l.5 2.5l.5-2.6l.5 2.6l.5-2l.5 2l.5-1.5l.5 1.9l.5-2.4l.5 2.4l.5-2.6l.5 1.9l.5-2.2l.5 3.3l.5-3.5l.5 2.1l.5-2l.5 2.3l.5-3l.5 2.1l.5-2l.5 2.8l.5-2.3l.5 3.4l.5-1.5l.5 .7l.5-1.1l.5 2l.5-3.7l.5 3.9l.5-3.3l.5 3.2l.5-3.4l.5 2.2l.5-1.7l.5 .8l.5-1.5l.5 2.8l.5-3.8l.5 3.2l.5-2.4l.5 2.5l.5-2.4l.5 .8l.5-1l.5 1.1l.5-1.3l.5 2.2l.5-2.4l.5 2.2l.5-2.8l.5 2.1l.5-2.5l.5 2l.5-1.5l.5 2.5l.5-2.4l.5 .9l.5-1.8l.5 2.7l.5-2.3l.5 3.4l.5-3.2l.5 2.1l.5-3.2l.5 3.4l.5-2l.5 2.4l.5-2.9l.5 3l.5-2.7l.5 2.4l.5-2.2l.5 1.8l.5-.9l.5 2.3l.5-2.9l.5 2.1l.5-1.8l.5 1.4l.5-2.1l.5 3.6l.5-3.8l.5 1.3l.5-2.3l.5 3.9l.5-2l.5 1.4l.5-3.5l.5 2.1l.5-2.2l.5 2.4l.5-1.5l.5 1.7l.5-2l.5 1.6l.5-3l.5 3.5l.5-1.9l.5 2.5l.5-3.2l.5 3.2l.5-3.3l.5 2.4l.5-2.9l.5 2.7l.5-2.5l.5 2.4l.5-3.4l.5 3.2l.5-1.8l.5 2l.5-2.7l.5 3l.5-3.5l.5 2.2l.5-2.1l.5 2.7l.5-2l.5 2.7l.5-1l.5 1.5l.5-2.9l.5 1.4l.5-1.8l.5 3.3l.5-3.5l.5 2.5l.5-2.7l.5 2.1l.5-1.2l.5 1.9l.5-3.2l.5 3.8l.5-2.6l.5 2.8l.5-3l.5 2.1l.5-2.5l.5 1.9l.5-1.2l.5 2.2l.5-2.4l.5 1.7l.5-2l.5 1.5l.5-2.5l.5 2.1l.5-1.2l.5 1.5l.5-2.3l.5 2l.5-1.9l.5 3l.5-2.9l.5 2.2l.5-2l.5 2.2l.5-3.4l.5 4.6l.5-5.1l.5 3.3l.5-3.9l.5 2.8l.5-2.5l.5 3.1l.5-1.8l.5 3.2l.5-3.6l.5 3.6l.5-2.5l.5 1.5l.5-2.7l.5 2l.5-1.4l.5 1.9l.5-3.5l.5 2.1l.5-1l.5 1.5l.5-2.7l.5 3.8l.5-2.3l.5 2.6l.5-3.3l.5 2.6l.5-3.4l.5 3.3l.5-3.4l.5 2.5l.5-2.2l.5 2.5l.5-2.6l.5 2.5l.5-2l.5 2.2l.5-3l.5 3l.5-1.7l.5 1.9l.5-4l.5 2.9l.5-2.7l.5 2l.5-2.2l.5 3.2l.5-4l.5 3.5l.5-2.4l.5 1.6l.5-1.8l.5 3.2l.5-3.9l.5 4.5l.5-4.3l.5 3.7l.5-2.6l.5 2.6l.5-4.4l.5 3.9l.5-4.2l.5 3.7l.5-3.9l.5 3.6l.5-2.7l.5 3.8l.5-3l.5 1.2l.5-2.3l.5 3.1l.5-3.2l.5 3.7l.5-2.7l.5 2.4l.5-3.8l.5 3.5l.5-2l.5 1.9l.5-2.6l.5 4.3l.5-3.5l.5 2.1l.5-4l.5 3.1l.5-2.1l.5 1.8l.5-1.6l.5 2.1l.5-3.3l.5 3.1l.5-3.6l.5 3.5l.5-2.3l.5 2.8l.5-4.7l.5 3l.5-3.3l.5 4.5l.5-3l.5 4.2l.5-3.2l.5 .5l.5-2.3l.5 3l.5-2.1l.5 2.9l.5-4.3l.5 2.3l.5-1.3l.5 3.3l.5-4.4l.5 2.8l.5-1.6l.5 2.5l.5-1.7l.5 1l.5-2.1l.5 1.4l.5-3.5l.5 4.8l.6-1.6l.4 2l.5-3.4l.5 3.7l.5-2.8l.5 1.8l.5-3.4l.5 2.6l.5-2.3l.5 3.2l.5-4.7l.5 3.5l.5-1.9l.5 2.6l.5-3.6l.5 2.4l.5-2.9l.5 3.8l.5-3l.5 5.1l.5-5.8l.5 4.4l.5-4.2l.5 5.6l.5-5.7l.5 3.1l.5-2.7l.5 3.1l.5-2.5l.5 2.7l.5-3.2l.5 3l.5-2.7l.5 3.2l.5-2.4l.5 2.5l.5-3.2l.5 3.3l.5-1.7l.5 2.8l.5-2.9l.5 .9l.5-3l.5 2.6l.5-2.6l.5 1.2l.5-1.2l.5 3l.5-3.4l.5 3.3l.5-3l.5 3.1l.5-3l.5 1.7l.5-3.9l.5 3.8l.5-3.2l.5 3.9l.5-4.1l.5 3.7l.5-2.8l.5 3.9l.5-3l.5 3.1l.5-2.6l.5 2.3l.5-2.5l.5 3l.5-3.8l.5 1.6l.5-2l.5 2.5l.5-2.3l.6 1l.4-2l.5 3.9l.5-3.2l.5 2.1l.5-3.6l.5 2.5l.5-2.1l.5 3.4l.5-2.6l.5 2.7l.5-2.3l.5 2.2l.5-2.3l.5 1.2l.5-3.2l.5 3.4l.5-1.2l.5 2l.5-3.2l.5 1.9l.5-2.4l.5 3.6l.5-4l.5 4.6l.5-4l.5 3.5l.5-2.6l.5 2.4l.5-4.6l.5 4.2l.5-3.9l.5 1.5l.5-1.3l.5 1.8l.5-2.7l.5 2.9l.5-3l.5 2.5l.5-3.9l.5 3.5l.5-2.3l.5 4.9l.5-4.8l.5 2.7l.5-2.7l.5 4.2l.5-4.7l.5 1.8l.5-2l.5 1.5l.5-3.3l.5 4.4l.5-2.9l.5 3l.5-3.9l.5 2.5l.5-3.4l.5 4l.5-1.8l.5 2.5l.5-5.4l.5 5.1l.5-4.2l.5 3l.5-2.8l.5 5.3l.5-5l.5 5l.5-3.7l.5 3.1l.5-4.6l.5 2.3l.5-1.1l.5 1.2l.5-2.7l.5 3.7l.5-3l.5 2.9l.5-3.1l.5 2.9l.5-4l.5 3.8l.5-3.4l.5 3.2l.5-3l.5 3.3l.5-3.5l.5 3.7l.5-4.5l.5 3l.5-3l.4 1.2l.6-1.9l.5 3.2l.5-2.8l.5 1.4l.5-2.6l.5 3.1l.5-3.7l.5 4.6l.5-3.6l.5 1.9l.5-1.4l.5 1.6l.5-.8l.5 2.4l.5-4.6l.5 3l.5-2.3l.5 2.6l.5-1.6l.5 2l.5-3.3l.5 4.2l.5-4l.5 3l.5-3.4l.5 3.4l.5-3.2l.5 3.1l.5-3.6l.5 2.1l.5-2.6l.5 3.2l.5-3.8l.5 4.8l.5-5.1l.5 2.7l.5-1.9l.5 1.2l.5-1.4l.5 3.2l.5-2.8l.5 1l.5-2.7l.5 3l.5-4.1l.5 5.1l.5-3.5l.5 5.1l.5-4.2l.5 2.5l.5-2.7l.5 2.2l.5-4.5l.5 4.9l.5-4.4l.5 3l.5-1.9l.5 1.6l.5-2.3l.5 4.1l.5-3.3l.5-.1l.5-2.9l.5 3.1l.5-2.1l.5 2.7l.5-2.9l.5 4.3l.5-4.4l.5 3.7l.5-4l.5 3.6l.5-4.9l.5 5.8l.5-3.4l.5 2.6l.5-2.1l.5 3.1l.5-2.9l.5 2.7l.5-3.5l.5 3.8l.5-4l.5 3.2l.5-4.3l.5 2.3l.5-3.7l.5 5l.5-3.8l.5 4.2l.5-4.7l.2 2.5l.3-2l.5 3.6l.5-1.8l.5 2.3l.5-3.2l.5 2.5l.5-5.4l.5 3.5l.5-2.2l.5 4.4l.5-4.9l.5 5.3l.5-2.9l.5 1.8l.5-3.1l.5 3.7l.5-4.7l.5 4.5l.5-4l.5 3.4l.5-3.9l.5 3.2l.5-2.8l.5 3l.5-2.9l.5 3.3l.5-2.4l.5 1.1l.5-2.2l.5 4l.5-3l.5 2.1l.5-2.8l.5 3.7l.5-3.9l.5 3.4l.5-4l.5 3l.5-3.7l.5 2.8l.5-4l.5 5l.5-3.5l.5 2.5l.5-4.3l.6 3.2l.4-2l.5 3.2l.5-3.5l.5 3.8l.5-4.5l.5 3.8l.5-2.6l.5 2.8l.5-3.8l.5 5.9l.5-4.9l.5 3.8l.5-5.1l.5 4.5l.5-2.4l.5 3.5l.5-4.8l.5 3.4l.5-4.8l.5 4.7l.5-2.2l.5 2.4l.5-3.5l.5 5l.5-4.9l.5 3.4l.5-3.6l.5 4.1l.5-2.5l.5 2.4l.5-3.4l.5 4.3l.5-6.6l.5 4.5l.5-1.9l.5 2.1l.5-2.3l.5 2.4l.5-2.7l.5 4.5l.5-3.1l.5 1.2l.5-.8l.5 2.9l.5-5.8l.5 3.2l.5-1.1l.5 2l.5-4.7l.5 5l.5-4.7l.5 4l.5-4.4l.5 3.3l.5-4.5l.5 5.3l.5-2.5l.5 2.1l.5-1.9l.5 2.3l.5-4.3l.5 3.7l.5-3.1l.5 6.5l.4-4l.6 1.5l.5-1.9l.5 2.4l.5-2.5l.5 1l.5-2.6l.5 3.1l.5-3.6l.5 3.2l.5-3.9l.5 5.9l.5-5.3l.5 3.6l.5-4.5l.5 4.8l.5-4.6l.5 6.2l.5-3.5l.5 2.5l.5-4.7l.5 6.1l.5-4.4l.5 3.6l.5-4l.5 2.8l.5-3l.5 2.5l.5-3l.5 3.5l.5-2.8l.5 3.6l.5-3.9l.5 4.5l.5-5l.5 5.3l.5-5.3l.5 4.5l.5-3.9l.5 4.1l.5-3l.5 2.9l.5-3.7l.5 4l.5-4l.5 2.9l.5-4.1l.5 4.2l.5-3.5l.5 3.7l.5-4.1l.5 4l.5-2.1l.5 1.3l.5-1.6l.5 2.1l.5-3.1l.5 4.9l.5-3.2l.5 .6l.5-2.8l.5 4.7l.5-4.9l.5 4.1l.5-4.2l.5 4.4l.5-5.3l.5 5.3l.5-2.9l.5 2.1l.5-3l.5 3.1l.5-2.4l.5 1.1l.5-.7l.5 3.5l.5-3.6l.5 2l.5-2.2l.5 2.6l.5-5.4l.5 5.2l.5-4.9l.5 5.2l.5-1.9l.5 2.4l.5-2.7l.5 1.5l.5-1.7l.5 3.7l.5-3.8l.5 1.5l.5-3.6l.5 5.2l.5-2.2l.5 2.3l.5-2.5l.5 3l.5-3.4l.5 3.7l.5-2.5l.5 4.4l.5-3.2l.5 1.3l.5-3.5l.5 2.7l.5-1.7l.5 2.2l.5-2.4l.5 2.9l.5-3.5l.5 4.7l.5-3.9l.5 3.3l.5-3.1l.5 3.9l.5-2.4l.5 3.3l.5-4.2l.5 4.2l.5-2.7l.5 3.2l.5-5.7l.5 5.7l.5-2.6l.5 2.3l.5-3.1l.5 3.4l.5-3.2l.5 3.4l.5-3.4l.5 3.2l.5-2.9l.5 2.8l.5-4.2l.5 3.6l.5-3.5l.6 2.8l.4-1.8l.5 3l.5-3.8l.5 4.1l.5-3.1l.5 3.4l.5-1.8l.5 3.8l.5-4.7l.5 2.7l.5-1.6l.5 3l.5-3.1l.5 2.8l.5-3.4l.5 2.9l.5-4.9l.5 6.7l.5-4.7l.5 3.1l.5-2.2l.5 3.6l.5-3.1l.5 4.4l.5-2.9l.5 2.3l.5-3.5l.5 2.7l.5-3.8l.5 3.8l.5-2l.5 3.7l.5-1.8l.5 .6l.5-1.4l.5 2.9l.5-4.4l.5 4.5l.5-3.8l.5 1.8l.5-2l.5 2.8l.5-3.5l.5 5.6l.5-5.6l.5 5.9l.5-4.4l.5 2.9l.5-2.6l.5 2.1l.5-2.8l.5 3l.5-2l.5 2.4l.5-2l.5 3.2l.5-3l.5 3.1l.5-2.3l.5 3.8l.5-3.5l.5 3.5l.5-5.6l.5 3.1l.5-1l.5 2.1l.5-3.9l.5 3.7l.5-2.9l.5 3l.5-2.8l.5 2.8l.5-2.5l.5 3.1l.5-.9l.5 3l.5-4.7l.5 2.5l.5-3.9l.5 5.6l.5-4.6l.5 3.5l.5-3.3l.5 4l.5-2l.5 2.6l.5-3l.5 4.2l.5-5l.5 3.5l.5-2.2l.5 2.6l.5-3.6l.5 3.5l.5-2.5l.5 3.6l.5-3.7l.5 4.3l.5-4.2l.5 2.6l.5-1.1l.5 2.2l.5-3.8l.5 2.4l.5-2.7l.5 1.6l.5-1.1l.5 1.9l.5-1.4l.5 2.2l.5-3.8l.5 4.8l.5-3.2l.5 3l.5-3.6l.5 2.9l.5-2.3l.5 2.7l.5-4.4l.5 5.3l.5-1.2l.5 2.1l.5-5.6l.5 4l.5-5l.5 5.4l.5-3.8l.5 3.1l.5-2.5l.5 2.1l.5-1.1l.5 1.1l.5-2.2l.5 2.9l.5-2.3l.5 3.6l.5-2.7l.5 2.8l.5-2.8l.5 2.7l.5-2.4l.5 3.2l.5-2.1l.5 1.1l.5-1.4l.5 2.4l.5-4.1l.5 5l.5-4.2l.5 4l.5-3.7l.5 4l.5-3.6l.5 3.4l.5-2.7l.3 .9l.2-2.3l.5 3.4l.5-2.1l.5 2.5l.5-3l.5 5l.5-4.1l.5 1.9l.5-2.6l.5 3.7l.5-2l.5 1.3l.5-2.6l.5 1.8l.5-2.2l.5 4l.5-3.2l.5 2.5l.5-1.4l.5 2l.5-2.7l.5 2.6l.5-3.3l.5 4.4l.5-1.7l.5 3l.5-4l.5 2.5l.5-2.7l.5 1.3l.5-1.7l.5 1.9l.5-.9l.5 3.4l.5-4.6l.5 3.8l.5-1.8l.5 2.9l.5-3.3l.5 3l.5-3.3l.5 2.3l.5-3l.5 1.8l.5-2.8l.5 2.9l.5-.7l.5 2.3l.5-2.4l.5 4l.5-3.7l.5 3.6l.5-3.5l.5 2.8l.5-1.4l.5 .1l.5-.6l.5 1.7l.5-2.4l.5 2.6l.5-2.8l.5 2.8l.5-1.9l.5 1.1l.5-.3l.5 2.1l.5-4.1l.5 2.3l.5-1.6l.5 3.1l.5-4.1l.5 3.7l.5-2.2l.5 3.7l.5-2.1l.5 1l.5-2.4l.5 2.3l.5-3.6l.5 4.8l.5-3.5l.5 2.1l.5-2.8l.5 3.5l.5-2.8l.5 1.8l.5-1.4l.5 1.8l.5-3.3l.5 4.3l.5-3.5l.6 2.3l.4-1.4l.5 1.9l.5-3l.5 4l.5-2.4l.5 2.5l.5-3.6l.5 3.7l.5-3.1l.5 2.6l.5-2.6l.5 4.2l.5-3.8l.5 2.3l.5-1.9l.5 2.4l.5-1.7l.5 2.6l.5-3.6l.5 3.1l.5-3.8l.5 4.9l.5-3.9l.5 2.1l.5-2.1l.5 3l.5-2.5l.5 2.4l.5-2.5l.5 3l.5-1.6l.5 1.2l.5-2.9l.5 3.7l.5-2.7l.5 2.1l.5-2.4l.5 3.1l.5-2.3l.5 2.7l.5-3.5l.5 3.1l.5-1.9l.5 2.6l.5-3.1l.5 1.8l.5-3.7l.5 4.4l.5-2.5l.5 1.7l.5-1.9l.5 2.2l.5-.9l.5 1.7l.5-3.9l.5 3.1l.5-2.3l.5 2.8l.5-2.5l.5 2.8l.5-1.5l.5 1.9l.5-2.9l.5 2.9l.5-2.2l.5 1.3l.5-3.4l.5 3.2l.5-1.8l.5 2.3l.5-2.8l.5 3.4l.5-2.2l.5 1.3l.5-1.9l.5 2.7l.5-3.7l.5 2.2l.5-2.4l.5 3.5l.5-1.6l.5 1.9l.5-2.2l.5 1.9l.5-1.5l.5 2.1l.5-2.2l.5 .9l.5-1.9l.5 2.3l.5-2.7l.4 2.4l.6-2l.5 3.3l.5-3.4l.5 3.5l.5-1.5l.5 1.9l.5-2.1l.5 1.2l.5-2.5l.5 2.4l.5-2.9l.5 3.8l.5-3l.5 2.1l.5-2.9l.5 3.1l.5-1.4l.5 3.1l.5-3.1l.5 4l.5-3.7l.5 1l.5-1.7l.5 3.7l.5-3.1l.5 3.3l.5-4.6l.5 3.2l.5-1.7l.5 1.5l.5-2.1l.5 3.3l.5-3.1l.5 2.2l.5-.9l.5 1.2l.5-.6l.5 .3l.5-1l.5 .9l.5-2.8l.5 3.2l.5-2.7l.5 2.3l.5-1.9l.5 2.9l.5-2.6l.5 2.2l.5-2.2l.5 1.9l.5-2.1l.5 1.8l.5-2.3l.5 2.2l.5-1.6l.5 2l.5-2.6l.5 3.7l.5-2.6l.5 1.6l.5-1.3l.5 1.9l.5-2.6l.5 4.3l.5-3.4l.5 2.2l.5-2.9l.5 2.2l.5-3.1l.5 3.4l.5-3l.5 2.7l.5-2.2l.5 2.7l.5-3.1l.5 2.4l.5-1l.5 1.1l.5-1.2l.5 .9l.5-3l.5 4.2l.5-4.6l.5 2.5l.5-1.7l.5 1.8l.5-1.9l.5 3.6l.5-3.3l.5 3.5l.5-2.4l.2 .8l.3 .2l.5 .8l.5-3l.5 3.4l.5-2.6l.5 2.5l.5-2.2l.5 3.2l.5-3l.5 1.6l.5-2.5l.5 3.4l.5-2.8l.5 1.8l.5-1.3l.5 1.1l.5-.1l.5 .8l.5-2.1l.5 2.3l.5-3.8l.5 3.2l.5-3.6l.5 3l.5-2.4l.5 2.2l.5-1.4l.5 2.4l.5-2l.5 2.4l.5-1.8l.5 1.2l.5-1.6l.5 2.4l.5-2.1l.5 2.4l.5-2.2l.5 .8l.5-2.3l.5 2.1l.5-2.1l.5 2.1l.5-2.2l.5 2.5l.5-2.3l.5 2.6l.5-2.6l.5 2.4l.5-2.7l.5 2.7l.5-2.9l.5 3.7l.5-2.8l.5 3.7l.5-3.1l.5 2.3l.5-3.4l.5 1.3l.5-1.6l.5 2.7l.5-2.9l.5 3.3l.5-2l.5 2.3l.5-1.5l.5 1.3l.5-2.1l.5 2.3l.5-4.3l.5 3.3l.5-1.4l.5 1.7l.5-2.2l.5 2.7l.5-2.3l.5 1.5l.5-1.3l.5 2l.5-2.7l.5 2.8l.5-1.6l.5 1.6l.5-1.6l.5 1.2l.5-2.1l.5 1.8l.5-1.7l.5 2.9l.5-3l.5 1.6l.5-1.5l.5 2.1l.5-2.5l.5 1.8l.5-2.2l.5 2.6l.5-2.3l.5 2.2l.5-1.7l.5 1.8l.5-1.9l.5 2.6l.5-3.1l.5 2.4l.5-2.4l.5 2.9l.5-2.1l.5 2.4l.5-1.6l.5 1.6l.5-1.2l.5 2.4l.5-2.6l.5 1.6l.5-1.7l.5 2.3l.5-3.7l.5 2.6l.5-2.2l.5 2.4l.5-2.2l.5 2.3l.5-1.8l.5 2l.5-2.9l.5 1.9l.5-2.5l.5 3.7l.5-3l.5 2l.5-1l.5 1.7l.5-2.3l.5 3.3l.5-2.3l.5 .9l.5-2.2l.5 2.9l.5-2.4l.5 1.7l.5-1.3l.5 1.3l.5-1.5l.5 1.5l.5-2.4l.5 1.9l.5-1.5l.5 2.7l.5-3.8l.5 3.2l.5-1.8l.5 .2l.5-.8l.5 1.6l.5-3.3l.5 4.2l.5-2.5l.5 2.6l.5-3.5l.5 3l.5-2.8l.5 3.1l.5-1.8l.5 1.2l.5-1.4l.5 2.4l.5-2.4l.5 .2l.5-1.9l.5 1.9l.5-2.2l.5 3.3l.5-1.8l.5 3.6l.5-2.3l.5 .8l.5-2.9l.5 3.2l.5-2l.5 1.9l.5-2.9l.5 3.2l.5-3l.3 1.7l.2-1.1l.5 2.8l.5-2.6l.5 3l.5-3.1l.5 2.4l.5-1.8l.5 3.4l.5-3.9l.5 2.8l.5-1.9l.5 1l.5-1.8l.5 2.1l.5-2.3l.5 1.3l.5-.8l.5 2.2l.5-2.7l.5 1.8l.5-1.3l.5 .9l.5-1l.5 3.7l.5-3.9l.5 1.9l.5-1.7l.5 .9l.5-.7l.5 1l.5-2l.5 3l.5-1.8l.5 1.6l.5-2.8l.5 1.7l.5-1.3l.5 1.7l.5-1.4l.5 3.1l.5-3.1l.5 1.9l.5-2l.5 1.8l.5-2.5l.5 2.9l.5-1.7l.5 2.2l.5-2.7l.5 1.6l.5-1.2l.5 1.5l.5-2.1l.5 2.6l.5-2.8l.5 2.9l.5-2l.5 1.4l.5-1.3l.5 1.7l.5-2l.5 1.9l.5-1.3l.5 1l.5-2l.5 2l.5-2.1l.5 2.9l.5-2.4l.5 1.3l.5-1.1l.5 .9l.5-2.2l.5 3.1l.5-2.7l.5 2.4l.5-1.3l.5 .6l.5-.6l.5 1.7l.5-1.1l.5 1.3l.5-2.4l.5 2.2l.5-3.6l.5 2.5l.5-2.6l.5 1.8l.5-2.2l.5 2.2l.5-1.7l.5 3.4l.5-2.2l.5 1.6l.5-3.5l.5 4.4l.5-2.6l.5 3.6l.5-3.5l.5 2.6l.5-2.9l.5 1.5l.5-2.2l.5 1.3l.5-1.3l.5 2.6l.5-1.1l.5 2.2l.5-2.5l.5 2l.5-2.3l.5 1.9l.5-1.6l.5 2.8l.5-3.8l.5 3.5l.5-3l.5 3.2l.5-2l.5 1.9l.5-2.3l.5 1.9l.5-2.4l.5 1l.5-1.2l.5 2l.5-1.9l.5 2l.5-2.2l.5 1.5l.5-1l.5 1.1l.5-1.4l.5 1.7l.5-2.4l.5 2l.5-.4l.5 1.4l.5-2.1l.5 1.4l.5-3.4l.5 3.5l.5-3.2l.5 2.7l.5-2.3l.5 3l.5-1.8l.5 1.4l.5-1.2l.5 2.4l.5-3.3l.5 2.7l.5-2.1l.5 2.3l.5-2.7l.5 2l.5-2.5l.5 2.4l.5-1.6l.5 2.1l.5-1.7l.5 1.9l.5-1.1l.5 1.8l.5-2.7l.5 .7l.5 0l.5 .6l.5-1l.5 2.4l.5-2l.5 1.1l.5-.8l.5 1.8l.5-2.2l.5 2.3l.5-2.4l.5 3.4l.5-3.4l.5 1.8l.5-1.5l.5 .4l.5-.9l.5 .8l.5-1.3l.5 2.1l.5-1.9l.5 3.1l.5-2.7l.5 2.4l.5-2.6l.5 2l.5-.8l.5 1.3l.5-2.1l.5 1.2l.5-2.1l.5 2l.5-2.3l.5 2.3l.5-1.7l.5 2l.5-2.4l.5 2.3l.5-1.9l.5 2.6l.5-1.8l.5 .9l.5-1.3l.5 2.4l.5-2.3l.5 1.1l.5-1.4l.5 1.8l.5-2l.5 2.2l.5-1.3l.5 1.8l.5-3l.5 1.7l.5-2.1l.5 2.8l.5-2.7l.5 2.2l.5-1.9l.5 2.8l.5-1.1l.5 1.4l.5-2.4l.5 1.3l.5-1.5l.5 .6l.5-1.4l.5 1.7l.5-1.6l.5 2.6l.5-2.6l.5 2l.5-1l.5 1.7l.5-2.3l.5 2.2l.5-1l.5 1.7l.5-2.4l.5 1.7l.5-3.2l.5 2.4l.5-1.3l.5 1.3l.5-.6l.5 2l.5-2.9l.5 1.8l.5-1.9l.5 2.5l.5-2.1l.5 3l.5-2.9l.5 1.8l.5-1.4l.5 1.6l.5-1.5l.5 3.2l.5-2.2l.5 1.7l.5-2.9l.5 2.7l.5-2.7l.5 1.1l.5 0l.5 .8l.5-1.3l.5 .9l.5-2.2l.5 1.9l.5-.8l.5 2l.5-2.3l.5 1.9l.5-2.4l.5 1.8l.5-.8l.5 2.8l.5-3l.5 1.5l.5-1.1l.5 1.4l.5-1.1l.5 .9l.5-1.9l.5 1.9l.5-2.3l.5 1.2l.5-.3l.5 1.6l.5-1.9l.5 2.5l.5-2.4l.5 1.4l.5-1.6l.5 1.6l.5-1.6l.5 2.6l.5-3.3l.5 2.9l.5-2.1l.5 2.5l.5-2.4l.5 1.5l.5-1l.5 1.8l.5-2.5l.5 1.6l.5-2.1l.5 2.8l.5-2.4l.5 1.9l.5-1.6l.5 1.5l.5-2.6l.5 2.9l.5-2.3l.5 1.2l.5-.9l.5 2.3l.5-2.3l.5 2.3l.5-2.3l.5 2l.5-2.1l.5 1.2l.5-1l.5 2.1l.5-1.8l.5 2.1l.5-1.4l.5 2.1l.5-2.6l.5 1.4l.5-2.1l.5 1.2l.5-.7l.5 1.1l.5-1l.5 1.9l.5-1.8l.5 1l.5-2l.5 2.3l.5-1.9l.5 2.8l.5-1.5l.5 .8l.5-1.2l.5 1.9l.5-2.2l.5 2.2l.5-2.8l.5 2.6l.5-1.8l.5 2.1l.5-1.7l.5 2.4l.5-2.8l.5 2.6l.5-2.8l.5 1.5l.5-1.8l.5 1.6l.5-.6l.5 1.4l.5-2.2l.5 2.3l.5-1.7l.5 1.5l.5-2.1l.5 2l.5-2.9l.5 2.4l.5-1.5l.5 2.4l.5-2.2l.5 1.7l.5-1l.5 1.2l.4-1.2l.6 2.3l.5-2.5l.5 1.5l.5-2.6l.5 2.6l.5-2.3l.5 2.3l.5-2.5l.5 1.6l.5-1.5l.5 1l.5 .2l.5 .8l.5-.6l.5 1.6l.5-2.8l.5 2l.5-2.1l.5 1.4l.5-1.7l.5 1.6l.5-2l.5 1.6l.5-1.1l.5 1.3l.5-1.9l.5 2.2l.5-2.2l.5 2.6l.5-2.1l.5 2l.5-.8l.5 1.7l.5-2.3l.5 1.9l.5-2.8l.5 2.6l.5-2.3l.5 1.3l.5-2.5l.5 2.9l.5-2.3l.5 1.6l.5-1l.5 2l.5-1.6l.5 2.5l.5-1.8l.5 1.4l.5-2.4l.5 2.1l.5-2l.5 1.1l.5-1.2l.5 .8l.5-1.7l.5 2.1l.5-1.3l.5 1.3l.5-1.1l.5 1l.5-1.9l.5 2.9l.5-1.6l.5 1.1l.5-1.5l.5 1.9l.5-1.2l.5 1.3l.5-1.7l.5 1.3l.5-1.9l.5 1.6l.5-1.3l.5 1.4l.5-1.1l.5 1.8l.5-1.8l.5 .8l.5-1.8l.5 2.1l.5-2l.5 2.8l.5-1.8l.5 1.3l.5-1.9l.5 1.3l.5-1.3l.5 2l.5-1.9l.5 1.5l.5-1.4l.5 1.8l.5-1.8l.5 2l.5-1.9l.5 1.9l.5-2.1l.5 2.1l.5-2.3l.5 1.9l.5-2.5l.5 2.1l.5-2.1l.5 1.8l.5-.8l.5 1.3l.5-2.2l.5 1.3l.5-1.7l.5 2.8l.5-2.3l.5 3.4l.5-2.9l.5 2l.5-2.6l.5 1.3l.5-1.4l.5 1.8l.5-1.7l.5 1.6l.5-1.4l.5 1.5l.5-2.6l.5 1.9l.5-.9l.5 2.9l.5-2.4l.5 1.5l.5-1.1l.5 1.5l.5-3.2l.5 1.9l.5-1.5l.5 1.4l.5-1.5l.5 1.8l.5-1.8l.5 1.5l.5-2l.5 2.9l.5-1.4l.5 2.5l.5-2.2l.5 1.7l.5-2.3l.5 1.5l.5-1.8l.5 2.4l.5-2.6l.5 1.9l.5-1.7l.5 .9l.5-1.1l.5 1.9l.5-2.2l.5 2.5l.5-1.3l.5 1.5l.5-1.4l.5 1.7l.5-2.6l.5 2l.5-1.8l.5 1.3l.5-1.6l.5 1.4l.5-.6l.5 .5l.5-.2l.5 1.6l.5-2l.5 1.7l.5-2.7l.5 1.6l.5-1.8l.5 2.4l.5-1.5l.5 2.3l.5-1.7l.5 .7l.5-1l.5 1.7l.5-2l.5 .4l.5-1.2l.5 1.5l.5-2.7l.5 3.7l.5-2.3l.5 1.4l.5-1.4l.5 1.3l.5-1.4l.5 2.1l.5-1.8l.5 1.6l.5-1.4l.5 1.2l.5-2l.5 2.7l.5-2.1l.5 1.5l.5-1.6l.5 1.8l.5-2.3l.5 2.5l.5-2.5l.5 1.9l.5-1.9l.2 1.5l.3-.5l.5 2.6l.5-1.6l.5 1.1l.5-1.3l.5 1.8l.5-1.9l.5 .8l.5-2.4l.5 2.8l.5-1.6l.5 2.6l.5-1.7l.5 1.4l.5-1.9l.5 1.8l.5-2l.5 1l.5-1.7l.5 .9l.5-1.6l.5 1.8l.5-2l.5 1.9l.5-1.2l.5 1.5l.5-2.4l.5 1.5l.5-.5l.5 2.5l.5-1.1l.5 .8l.5-1.9l.5 1.5l.5-1.5l.5 2l.5-2l.5 .9l.5-.3l.5 .7l.5-.7l.5 1.8l.5-3.2l.5 1.2l.5-2.2l.5 2.8l.5-1.6l.5 2.6l.5-1.8l.5 1.8l.5-.6l.5 .3l.5-1.6l.5 1.5l.5-1.3l.5 2l.5-1.6l.5 1.6l.5-2l.5 1.2l.5-1.5l.5 .9l.5-1.3l.5 .8l.5-.6l.5 2.2l.5-1.8l.5 2.4l.5-1.2l.5 1.1l.5-.9l.5 .3l.5-2.2l.5 2.5l.5-2.7l.5 2.2l.5-1.8l.5 2.4l.5-1.3l.5 .3l.5-2.1l.5 2.4l.5-2.2l.5 1.6l.5-1.4l.5 1l.5-1.1l.5 .7l.5-.7l.5 1.9l.5-1.3l.5 2.4l.5-2.7l.5 1.8l.5-1.4l.5 1.4l.5-1.5l.5 2.3l.5-1.7l.5 1.9l.5-2.3l.5 2.1l.5-1.1l.5 2.1l.5-2.8l.5 2.3l.5-2.1l.5 1.5l.5-1.5l.5 1.8l.5-2l.5 1.3l.5-1.8l.5 2.7l.5-.5l.5 1.2l.5-1.2l.5 .6l.5-1.3l.5 .9l.5-1.7l.5 1.3l.5-.5l.5 .7l.5-1.9l.5 1.5l.5-1.4l.5 2.3l.5-1.5l.5 1.7l.5-1.4l.5 1l.5-1.1l.5 1.5l.5-2.3l.5 2.3l.5-1.9l.5 1.4l.5-.5l.5 .8l.5-1.9l.5 2.1l.5-1.8l.5 1l.5-1l.5 2l.5-1.8l.5 1.2l.5-1.1l.5 1.9l.5-2.5l.5 2.5l.5-1.2l.5 .8l.5-2.1l.5 1.4l.5-1.4l.5 1.7l.5-1.2l.5 2.2l.5-1.9l.5 2.6l.5-2.8l.5 2.1l.5-1.1l.5 1.7l.5-1.5l.5 .9l.5-.6l.5 .9l.5-1.9l.5 1.1l.5-.1l.5 .9l.5-1.5l.5 1.8l.5-1.4l.5 1.4l.5-1.7l.5 1.3l.5-1.4l.5 1.8l.5-2.2l.5 2.3l.5-1.7l.5 1.4l.5-1.1l.5 .9l.5-1.4l.5 1.2l.5-1.8l.5 2.1l.5-2l.5 2.2l.5-2l.5 2.3l.5-1.9l.5 2.3l.5-2.1l.5 2l.5-1.4l.5 .3l.5-2.2l.5 2.3l.5-1.9l.5 1.9l.5-1.2l.5 2.8l.5-2.3l.5 1l.5-1.6l.5 1.1l.5-.6l.5 1.1l.5-.9l.5 1.6l.5-1.6l.5 1.3l.5-1.6l.5 2.1l.5-2.8l.5 1.7l.5-.4l.5 2l.5-1.9l.5 1.5l.5-2l.5 1.6l.5-1.8l.5 1.2l.5-1.4l.5 1.8l.5-.9l.5 1.9l.5-2l.5 1l.5-1.5l.5 2.4l.5-1.5l.5 1.4l.5-1.3l.5 1.4l.5-1.9l.5 1.6l.5-1.9l.5 2.3l.5-2l.3 .5l.2-1.4l.5 3.3l.5-2.6l.5 1.5l.5-1.3l.5 1.8l.5-2.2l.5 1.6l.5-1.1l.5 2.5l.5-2.4l.5 2.5l.5-3.3l.5 2l.5-1.7l.5 1.7l.5-2.4l.5 2.4l.5-2.4l.5 2.4l.5-1.3l.5 2.6l.5-2.1l.5 1l.5-2.2l.5 2.5l.5-1.8l.5 1.3l.5-1.5l.5 .9l.5-.6l.5 1.4l.5-1l.5 1.7l.5-2.2l.5 1.7l.5-1.7l.5 1.4l.5-1.6l.5 1l.5-1.7l.5 2.2l.5-1.2l.5 1.5l.5-1.1l.5 1.4l.5-1.3l.5 2.6l.5-2l.5 .8l.5-.9l.5 1.7l.5-2l.5 1.5l.5-1.8l.5 1.7l.5-1.9l.5 1.1l.5-.7l.5 2.4l.5-2.3l.5 1.8l.5-1.8l.5 1.1l.5-1.8l.5 1.7l.5-2.7l.5 2.4l.5-1.6l.5 1.3l.5-.9l.5 .7l.5-.9l.5 1.5l.5-.8l.5 2.7l.5-1.7l.5 .9l.5-1.4l.5 1.4l.5-2.3l.5 1.5l.5-1.4l.5 1.2l.5-1.4l.5 1.3l.5-.7l.5 .3l.5-.9l.5 1.1l.5-1.9l.5 2.9l.5-3.1l.5 2.5l.5-2.5l.5 2.4l.5-1.3l.5 2.5l.5-2.1l.5 1l.5-1.5l.5 2l.5-1.8l.5 1.7l.5-1.5l.5 .9l.5-1.1l.5 1.7l.5-1.2l.5 1l.5-1.1l.5 1.8l.5-2.2l.5 1.7l.5-1.7l.5 1.5l.5-1.4l.5 1.6l.5-.9l.5 .6l.5-1.7l.5 1.5l.5-1.9l.5 1.7l.5-.4l.5 2l.5-1.1l.5 1l.5-1.7l.5 .7l.5-1.9l.5 1.7l.5-1.4l.5 2l.5-.7l.5 .7l.5-.9l.5 .9l.5-1.3l.5 1l.5-1.5l.5 2.4l.5-2.6l.5 1.8l.5-.4l.5 .6l.5-1.1l.5 1.7l.5-1.4l.5 1.6l.5-1.7l.5 .9l.5-1.6l.5 1.8l.5-.9l.5 2.3l.5-1.5l.5 1.3l.5-2.3l.5 1.8l.5-2.2l.5 1.8l.5-1.7l.5 2.1l.5-1.6l.5 1.7l.5-2l.5 1.9l.5-1.9l.5 1.1l.5-1l.5 2.1l.5-2.3l.5 2.2l.5-1.5l.5 .9l.5-1.8l.5 1.9l.5-2.2l.5 2.2l.5-1.8l.5 2.1l.5-1.6l.5 1.1l.5-1.1l.5 1.6l.5-1.8l.5 2l.5-.6l.5 1.2l.5-.6l.5 .5l.5-1l.5 1.3l.5-2.8l.5 1.5l.5-1.5l.5 1.5l.5-1.5l.5 1.3l.5-1.4l.5 2l.5-1.3l.5 1.4l.5-2.1l.5 1.9l.5-1.6l.5 1.1l.5-.8l.5 1.3l.5-1.6l.5 1.5l.5-1.9l.5 1l.5-.2l.5 1.4l.5-1.6l.5 2.1l.5-2.2l.5 1.5l.5-1.4l.5 1.8l.5-1l.5 1.2l.5-1.5l.5 2.1l.5-2l.5 2l.5-2l.5 1.3l.5-1l.5 0l.5-1.7l.5 2.8l.5-2.7l.5 1.2l.5-1l.5 1.7l.5-1.7l.5 1.7l.5-1.5l.5 1.1l.5-1.1l.5 1.2l.5-1.3l.5 1.6l.5-1.1l.5 1.3l.5-1.3l.5 1.9l.5-1.7l.5 1.9l.5-1.1l.5 1l.5-1.8l.5 1.6l.5-1l.5 .9l.5-1.6l.5 1.8l.5-1.2l.5 1.4l.5-2.3l.5 1.8l.5-2.3l.5 1.7l.5-1.6l.5 1.6l.5-.7l.5 1.7l.5-1.1l.5 1.7l.5-1.6l.5 1.5l.5-2l.5 .9l.5-.7l.5 1l.5-.2l.5 .8l.5-1.1l.5 .3l.5-.7l.5 1.4l.5-2l.5 1.9l.5-1.9l.5 1.2l.5-1.2l.5 1.9l.5-1.7l.5 1.3l.5-1.3l.6 .8l.4-.8l.5 1.4l.5-2l.5 2.7l.5-2.3l.5 2.2l.5-1.9l.5 2.6l.5-3l.5 3.1l.5-2.6l.5 1.7l.5-2.1l.5 1.8l.5-1.5l.5 1.3l.5-1.3l.5 2l.5-2l.5 1.7l.5-1.1l.5 .8l.5-2.1l.5 1.6l.5-.5l.5 1.1l.5-1.2l.5 .8l.5-1.4l.5 2.6l.5-1.7l.5 .4l.5-1.1l.5 2.4l.5-2.5l.5 2.2l.5-1.6l.5 .9l.5-1.4l.5 1.6l.5-2.3l.5 1.5l.5 .7l.5 1.6l.5-1.4l.5 1.2l.5-1.9l.5 2l.5-2.7l.5 .9l.5-.7l.5 1l.5-.5l.5 1.4l.5-1.6l.5 1.1l.5-1.1l.5 1.1l.5-1.4l.5 1.6l.5-1.5l.5 1.3l.5-1.8l.5 1.5l.5-1.5l.5 1.5l.5-1.1l.5 1.1l.5-1.8l.5 2.1l.5-1.4l.5 1.3l.5-1.3l.5 1.4l.5-1.5l.5 1.2l.5-.5l.5 .9l.5-.6l.5 1.9l.5-1.8l.5 .5l.5-1.3l.5 1.7l.5-1.6l.5 .3l.5-.7l.5 2l.5-.8l.5 .3l.5-.5l.5 1.3l.5-1.9l.5 1.8l.5-1.5l.5 1.6l.5-1.4l.5 1.7l.5-1.4l.5 1.2l.5-1l.5 1.4l.5-1.8l.5 .8l.5-1.7l.5 1.6l.5-1.7l.5 1.3l.5-1.4l.5 2.7l.5-2.1l.5 .3l.5-.9l.5 .8l.5-.7l.5 .7l.5-1.2l.5 2.1l.5-2.2l.5 2.4l.5-1.2l.5 2l.5-1.6l.5 1.2l.5-.9l.5 1.5l.5-2.2l.5 1.6l.5-1.4l.5 1l.5-1.7l.5 1.7l.5-1.8l.5 1.7l.5-1l.5 .8l.5-.6l.5 1.3l.5-2.7l.5 2.1l.5-2.1l.5 2.7l.5-2.1l.5 1.4l.5-.6l.5 .9l.5-.6l.5 .8l.5-1l.5 1.7l.5-1.2l.5 1l.5-1.4l.5 1.4l.5-1.3l.5 1l.5-.6l.5 1.6l.5-1.9l.5 .9l.5-.9l.5 1.3l.5-1l.5 1.3l.5-1.3l.5 1.2l.5-1.1l.5 2.5l.5-2.1l.5 .9l.5-2l.5 1.2l.5-1.7l.5 .8l.5-.8l.5 1.4l.5-1l.5 1.4l.5-1.9l.5 1.2l.5-.7l.5 .2l.5-.6l.5 1l.5-1.1l.5 2l.5-1.7l.5 .4l.5-.8l.5 .9l.5-1l.5 1.7l.5-1.2l.5 1.3l.5-1.7l.5 2.4l.5-1.7l.5 1.7l.5-1.5l.5 1.2l.5-1.7l.5 1.6l.5-1.9l.5 1.2l.5-1.3l.5 1.1l.5-1.5l.5 2.6l.5-2l.5 1.9l.5-2.4l.5 1.6l.5-1.6l.5 1.4l.5-1.5l.5 1.7l.5-1.9l.5 2.5l.5-1.2l.5 1.8l.5-1.7l.5 1.5l.5-1.6l.5 1.4l.5-1l.5 1.4l.5-1.5l.5 1.8l.5-2.2l.5 .9l.5-1.1l.5 1.3l.5-1l.5 2l.5-1.9l.5 1.4l.5-1.7l.5 2.3l.5-2.4l.5 1.3l.5-1l.5 1l.5-1.2l.5 1.3l.5-.9l.5 .6l.5-.1l.5 .7l.5-2l.5 1.8l.5-.9l.5 .4l.5-.4l.5 1.3l.5-1.3l.5 .9l.5-.6l.5 .3l.5-.9l.5 .8l.5-.4l.5 1.4l.5-2.1l.5 1.7l.5-1.8l.5 1.1l.5-1.3l.5 1.5l.5-1.5l.5 2.2l.5-.7l.5 .8l.5-2.5l.5 2l.5-1.9l.5 1.9l.5-1l.5 .6l.5-1.2l.5 1.7l.5-1.2l.5 1.4l.5-.4l.5 1.3l.5-1.5l.5 1.2l.5-1.2l.5 1l.5-2l.5 1.1l.5-1.2l.5 .8l.5-1.6l.5 1.6l.5-1l.5 1.9l.5-1.6l.5 1.1l.5-.5l.5 1.1l.5-1.8l.5 2.1l.5-1.2"/>
<path stroke="#ff0000" d="M180.0,1070.2l.5-.7l.5 1l.5-.7l.5 1l.5-.8l.5 1.4l.5-.6l.5 1.1l.5-.8l.5 .8l.5-.3l.5 1.5l.5-1.3l.5 1.3l.5-1l.5 .4l.5-.3l.5 1.1l.5-.6l.5 .7l.5-.8l.5 1.1l.5-.9l.5 .9l.5-1l.4 .9l.6-.2l.5 1.1l.5-.5l.5 1.3l.5-.8l.5 .7l.5-.4l.5 .9l.5-1.1l.5 1.3l.5-1.3l.5 1.5l.5-1.1l.5 1l.5-.9l.5 .8l.5-1.3l.5 1.6l.5-1.1l.5 1l.5-.6l.5 1.7l.5-.5l.5 .7l.5-.6l.5 .8l.5-1.1l.5 1.7l.5-1.1l.5 1l.5-.9l.5 1.2l.5-.8l.5 .4l.5-1.1l.5 1.1l.5-1.1l.5 1.1l.5-1.1l.5 1.3l.5-.8l.5 .7l.5-.6l.5 1.2l.5-1.1l.3 1.1l.7-1.6l.5 1.5l.5-.4l.5 1.2l.5-.7l.5 .8l.5-.7l.5 .5l.5-.7l.5 .7l.5-.4l.5 1.1l.5-1l.5 .9l.5-1.4l.5 1.4l.5-1.3l.5 .8l.5-.4l.5 1l.5-.6l.5 1.3l.5-.3l.5 1l.5-.9l.5 .7l.5-1l.5 .2l.5-1l.5 1.1l.5-1.1l.5 .9l.5-.3l.5 1.2l.5-.7l.5 1l.5-.9l.5 .6l.5-.6l.5 .3l.5-.3l.5 .8l.5-.9l.5 .4l.5-.6l.5 .3l.5-.3l.5 .5l.5-.4l.5 .9l.5-.3l.5 .4l.5-1l.5 .9l.5-.7l.5 .8l.5-.4l.5 .8l.5-.4l.5 .6l.5-.4l.5 .8l.5-.7l.5 .6l.5-1.3l.5 .6l.5-.7l.7 .7l.3-.7l.5 1.1l.5-.5l.5 .9l.5-1.1l.5 .6l.5-.8l.5 .7l.5-1l.5 .5l.5-1.1l.5 1.4l.5-1l.5 1.4l.5-.1l.5 .3l.5-.8l.5 .6l.5-.9l.5 1.5l.5-1.3l.5 .6l.5-.5l.5 1.1l.5-.6l.5 1.2l.5-1.2l.5 .8l.5-.9l.5 1.1l.5-1.1l.5 1.6l.5-1.1l.5 .4l.5-.6l.5 .8l.5-1.1l.5 1l.5-.8l.5 .5l.5-.8l.5 1.1l.5-.6l.5 1l.5-1.3l.5 .8l.5-1l.5 1.1l.5-.6l.5 .9l.5-1l.5 1.2l.5-1.1l.5 .8l.5-.8l.5 .8l.5-1.1l.5 .9l.5-1.3l.5 .7l.5-.9l.5 1.1l.5-.4l.5 .8l.5-.7l.5 .6l.5-.9l.5 1.1l.5-.4l.5 .3l.5 0l.5 .5l.5-.5l.5 .4l.5-1l.5 1.2l.5-1.3l.5 1.5l.5-.9l.5 .7l.5-1.1l.5 .7l.5-.8l.5 .9l.5-1.2l.5 .9l.5-.5l.5 .5l.5-.9l.5 .8l.5-.6l.5 .7l.5-.8l.5 1.4l.5-1l.5 .3l.5-1l.5 .9l.5-.6l.5 1.3l.5-1.1l.5 .7l.5-.9l.5 .7l.5-.6l.5 .7l.5-.9l.5 .7l.5-1l.6 .5l.4-.2l.5 .1l.5-1.3l.5 .8l.5-1.1l.5 .4l.5-.6l.5 .4l.5-1.3l.5-.2l.5-.9l.5 0l.5-2.3l.5 .5l.5-1.6l.5-1.7l.5-3.9l.5-3.2l.5-4.5l.5-2.8l.4-2.9l.6-3.6l.5-3.7l.5-2.4l.5-3.5l.5-2.4l.5-3l.5-1.4l.6-.8l.4 .4l.5 1.7l.5 3.5l.5 3.5l.5 5.7l.5 3.4l.5 5l.5 2.1l.5 3.4l.5 1.5l.5 3l.5 1.3l.5 2.2l.5 .8l.4 .4l.6-.1l.5 1.4l.5-.5l.5 .7l.5-.7l.5 .6l.5-.5l.5 1.4l.5-1.3l.5 1l.6-.4l.4 .2l.5-.7l.5 .5l.5-1.2l.5 .9l.5-.9l.5 .4l.5-1.6l.5 .5l.5-1l.5 .7l.5-.6l.5 .4l.5-1.3l.5 .9l.5-1.8l.5 .2l.5-1.1l.3 .5l.7-1.3l.5 .6l.5-1.2l.5 .5l.5-1.2l.5-.2l.5-1.8l.5 .2l.5-1.8l.5 .1l.5-1.7l.5-.1l.5-2.2l.5 0l.5-1.7l.3 .3l.7-2.5l.5-.6l.5-2.4l.5-.7l.5-2.8l.5-.8l.5-1.2l.4 0l.6 1.5l.5 3.8l.5 3.3l.5 4.9l.7 4.4l.3 1.6l.5 1.5l.5 2.7l.5 .9l.5 3l.5 .3l.6 1.5l.4 .1l.5 2l.5-1.2l.5 1.2l.5-.7l.5 1.3l.5-.5l.5 1.5l.5-.4l.5 .9l.5-.5l.5 1l.5-1.2l.5 1.1l.5-1.2l.5 1.7l.5-.8l.5 .8l.3-.6l.7 .7l.5-.7l.5 1.2l.5-1l.5 1.2l.5-1l.5 .4l.5-.5l.5 .1l.5-.3l.5 .9l.5-.6l.5 1l.5-1.3l.5 1l.5-.8l.5 .6l.5-.6l.5 1l.5-1l.5 1.2l.5-.7l.5 1.2l.5-1.8l.5 1.3l.5-.6l.5 .7l.5-1l.5 .5l.5-.8l.5 1.2l.5-.9l.5 .5l.5-.2l.5 .7l.5-.8l.5 1l.5-.5l.5 .9l.5-1.2l.5 1.1l.5-1l.5 1.2l.5-1.3l.5 .6l.5-.5l.5 1l.5-1.1l.5 1l.5-1.4l.5 .8l.5-.8l.5 .8l.5-.5l.5 .7l.5-.2l.5 .6l.5-1.1l.5 .7l.5-.5l.5 .4l.5-.8l.5 .8l.5-1l.5 .8l.5-.5l.5 1.1l.5-1.1l.5 1.4l.5-.5l.5 .6l.5-.9l.5 .7l.5-1.1l.5 .4l.5-.9l.5 1.1l.5-1l.5 .9l.5-.7l.5 1.1l.5-.8l.5 .9l.5-.7l.5 1l.5-1.1l.5 .7l.5-.7l.5 .8l.5-1l.5 1l.5-.7l.5 1.4l.5-.5l.5 1.4l.5-1.4l.5 .4l.5-1l.5 1.3l.5-1.4l.5 1.3l.5-1.3l.5 .7l.5-1l.5 1.2l.5-.6l.5 1.4l.5-1.4l.5 1.4l.5-.7l.5 .8l.5-.4l.5 .4l.5-.6l.5 .7l.5-.6l.5 .2l.5-.7l.5 1.4l.5-1.1l.5 .3l.5-1.2l.5 .9l.5-.2l.5 .7l.5-.7l.5 .7l.5-1.3l.5 1.5l.5-1.6l.5 1.1l.5-.6l.5 1.2l.5-.9l.5 1.3l.5-1.8l.5 .9l.5-1l.5 1.4l.5-1.2l.5 1l.5-.6l.5 .9l.5-.8l.5 1l.5-.8l.5 1l.5-1.4l.5 1.1l.5-.5l.5 .6l.5-1l.5 .9l.5-.9l.5 .7l.5-.8l.5 .9l.5-1.6l.5 1.1l.5-.4l.5 .5l.5-.7l.5 1l.5-.8l.5 1.1l.5-1.5l.5 1.4l.5-.8l.5 .9l.5-.8l.5 .6l.5-.9l.5 .4l.5-.3l.5 1l.5-1.3l.5 1.4l.5-1.3l.5 .8l.5-.8l.5 1l.5-1.3l.5 1.1l.5-.9l.5 1.5l.5-1.3l.5 .8l.5-.9l.5 .5l.5-.4l.5 1.2l.5-1.5l.5 1.4l.5-1.2l.5 .6l.5-.3l.3 .3l.7-.4l.5 1l.5-1.1l.5 .8l.5-1.1l.5 .7l.5-.6l.5 1.3l.5-.3l.5 .8l.5-1.7l.5 1l.5-1.2l.5 .9l.5-.8l.5 1.3l.5-1.4l.5 1.4l.5-1.3l.5 1.2l.5-1.1l.5 1.3l.5-1.8l.5 1.5l.5-1.1l.5 .6l.5-.6l.5 1l.5-1.2l.5 1l.5-1l.5 1.2l.5-1.2l.5 1.6l.5-1.5l.5 1.1l.5-.6l.5 .4l.5-.5l.5 1l.5-1l.5 1.2l.5-1.3l.5 .7l.5-.6l.5 .8l.5-1.4l.5 .9l.5-.8l.5 1.1l.5-.8l.5 1.2l.5-.9l.5 .9l.5-1.5l.5 .9l.5-1.3l.5 .8l.5-.9l.5 .6l.5-.7l.5 .7l.5-.7l.5 1.3l.5-.9l.5 .5l.5-.5l.5 .8l.5-1.2l.5 .7l.5-.8l.5 1.2l.5-.9l.5 1.1l.5-.9l.5 1.4l.5-1l.5 .8l.5-1.1l.5 1l.5-1.3l.5 .8l.5-.5l.5 .7l.5-.8l.5 .5l.5-.7l.5 .7l.5-1.7l.5 1.6l.5-.6l.5 .8l.5-.9l.5 1.4l.5-.9l.5 1.3l.5-1.4l.5 1.2l.5-.9l.5 .7l.5-.9l.5 .6l.5-1.3l.5 .8l.5-1.4l.5 1.1l.5-.7l.5 1.4l.5-.6l.5 1l.5-1.3l.5 .7l.5-.6l.5 .4l.5-.7l.5 .8l.5-.7l.5 .9l.5-.8l.5 .9l.5-1l.5 1.6l.5-.9l.5 .9l.5-1.2l.5 .7l.5-1.5l.5 1.2l.5-.6l.5 .9l.5-.6l.5 .2l.5-1.2l.5 .8l.5-.8l.5 .7l.5-.2l.5 .3l.5-.9l.5 1l.5-.8l.5 1.1l.5-1.2l.5 .6l.5-.2l.5 .9l.5-1.1l.5 1.1l.5-1.1l.5 .6l.5-.9l.5 .4l.5-.4l.5 .7l.5-.4l.5 .8l.5-.9l.5 .4l.5-1.1l.5 .8l.5-1.3l.5 1.4l.5-.8l.5 .8l.5-.6l.5 1.1l.5-1.2l.5 .9l.5-.3l.5 .3l.5-.6l.5 .8l.5-.9l.5 .6l.5-.8l.5 1.1l.5-1.1l.5 .8l.5-1.4l.5 .7l.5-1l.5 .7l.5-.7l.5 .6l.5-.7l.5 1l.5-1.3l.5 .7l.5-.3l.5 .4l.5-.9l.5 .7l.5-.6l.5 .8l.5-.6l.5 .6l.5-.8l.5 .6l.5-1.3l.5 1.2l.5-1.1l.5 .9l.5-1.8l.5 .3l.5-1.4l.5 1.3l.5-1.4l.5 .4l.5-1.1l.5 .3l.5-1.3l.5 .8l.5-1.3l.5 .1l.4-.3l.6-.7l.5-1.7l.5 .7l.5-1.9l.5 .8l.5-1.7l.5 .5l.5-1.6l.5-.4l.5-1.7l.5-.9l.5-2.1l.5-.3l.3-1.6l.2-.2l.5-2.5l.5-1.3l.5-3.3l.5-1.7l.5-3l.5-2.6l.5-4l.5-2.7l.4-3.9l.6-6.5l.5-8.9l.5-8.3l.5-11.1l.6-11l.4-10.2l.5-13.5l.5-14.8l.5-9.7l.4-2.9l.6 6.3l.5 12l.5 15.1l.5 12.6l.2 5.1l.3 5.7l.5 10.6l.5 8.6l.5 10.2l.5 6.9l.5 7.1l.2 1.3l.3 3.2l.5 3.3l.5 4.3l.5 2.8l.5 3.3l.5 1.4l.5 3.3l.5 1.1l.5 2.6l.2-.1l.3 1l.5 .2l.5 1.7l.5-.1l.5 1.8l.5-.4l.5 1.9l.5 0l.5 1.2l.5-.4l.5 1.2l.5-.2l.5 1.6l.5-.4l.5 1.7l.5-.3l.3-.2l.2 .1l.5 1.6l.5-1l.5 .8l.5-.7l.5 .9l.5-.8l.5 1.5l.5-1.2l.5 1.4l.5-1.3l.5 1.1l.5-.2l.5 1.3l.5-.1l.5 .5l.5-.5l.5 1.1l.5-1.2l.5 .9l.5-.7l.5 .9l.5-.7l.5 .9l.5-.7l.5 .2l.5-1.7l.5 1.5l.5-.3l.5 1.2l.5-.6l.5 .7l.5-1.1l.5 .8l.5-.5l.5 .8l.5-.7l.5 .6l.5-.9l.5 1l.5-1.3l.5 1.4l.5-1.2l.5 1.2l.5-.7l.5 .9l.5-.8l.5 .9l.5-.7l.5 1.3l.5-1.3l.5 .6l.5-.4l.5 1l.5-.8l.5 .7l.5-1.3l.5 .8l.5-.8l.5 .8l.5-.7l.5 1l.5-.6l.5 .6l.5-1.2l.5 1.1l.5 0l.5 .8l.5-.5l.5 .9l.5-1.2l.5 .1l.5-.7l.5 .8l.5-1.4l.5 1.1l.5-1.1l.5 1.2l.5-.8l.5 .7l.5-1.1l.5 1.2l.5-.1l.5 .8l.5-1.6l.5 .9l.5-1.5l.5 1.4l.5-1.3l.5 1l.5-.3l.5 .8l.5-.9l.5 1l.5-.1l.5 .5l.5-1.3l.5 .5l.5-.5l.5 .9l.5-.8l.5 .9l.5-.4l.5 .8l.5-1.6l.5 .6l.5-.7l.5 .4l.5-.9l.5 1.2l.5-1.1l.5 1.7l.5-.7l.5 .8l.5-1l.5 1l.5-1.5l.5 1.4l.5-1.3l.5 1.2l.5-1l.5 .6l.5-1l.5 .9l.5-.8l.5 .6l.5-.9l.5 .7l.5-1.2l.5 1l.5-.5l.5 .9l.5-1l.5 1l.5-.8l.5 .7l.5-.8l.5 .7l.5-.5l.5 .7l.5-1l.5 1.6l.5-1.4l.5 1.1l.5-1.4l.5 .4l.5-.8l.5 1.3l.5-1.4l.5 1.2l.5-1.1l.5 1.4l.5-.6l.5 .5l.5-1.4l.5 1.3l.5-1.3l.5 .7l.5-.4l.5 .7l.5-1.1l.5 .8l.5-1.1l.5 1.2l.5-.3l.5 .4l.5-.7l.5 1.5l.5-1l.5 .8l.5-1.4l.5 .5l.5-.6l.5 .5l.5-.8l.5 1.2l.5-.8l.5 .9l.4-.8l.6 .1l.5-1l.5 .5l.5-.9l.5 .6l.5-.9l.5 .7l.5-1l.5 .9l.5-1.2l.5 .4l.5-1.2l.5 .8l.5-1.3l.5 .7l.5-1.1l.5 .4l.5-1.3l.5 1l.5-1.5l.5 1.1l.5-.6l.4 .2l.6-.3l.5 .3l.5-1.1l.5 1.1l.5-1.7l.5 1.2l.5-1l.5 1.1l.5-1l.5 1.1l.5-1.2l.5 1l.5-1l.5 .5l.5-.4l.5 .1l.6-.2l.4 .2l.5-.3l.5 .9l.5-.7l.5 1.5l.5-1.1l.5 .9l.5-.4l.5 1.6l.5-.9l.5 1.4l.5-.8l.5 1.7l.5-1l.5 1.6l.5-1.2l.5 1.6l.5-1l.5 1.1l.2-.6l.3 .6l.5-.5l.5 .9l.5-1.1l.5 .6l.5-.7l.5 .6l.5-1l.5 .7l.5-.5l.5 1l.5-.8l.5 1.5l.5-1.2l.5 1l.5-1.5l.5 1.3l.5-1l.5 1.2l.5-1.1l.5 1.3l.5-1l.5 .4l.5-.4l.5 .5l.5-1.2l.5 1.1l.5-1l.5 .9l.5-1l.5 1.1l.5-.8l.5 1.2l.5-1.1l.5 1l.5-.9l.5 1l.5-1.1l.5 .7l.5-.7l.5 1.2l.5-1l.5 1.1l.5-1.4l.5 1.1l.5-.8l.5 .9l.5-.8l.5 .5l.5-.8l.5 1.2l.5-1l.5 .6l.5-.5l.5 1l.5-1l.5 1.3l.5-1.3l.5 1.2l.5-1.6l.5 .7l.5-.8l.5 .8l.5-1.2l.3 1.1l.2-.7l.5 .6l.5-.9l.5 .7l.5-1.5l.5 .3l.5-1.9l.5 .7l.5-2l.5 .6l.5-1.6l.5 .7l.5-1.2l.6 .5l.4-.8l.5 1.6l.5-1.2l.5 1.6l.5-1l.5 .9l.5-.3l.5 .5l.5-.3l.2 0l.3 0l.5 .1l.5-.4l.5 .3l.5-1.4l.5 1.4l.5-.9l.5 .8l.5-1.1l.5 .7l.5-.6l.5 1.6l.5-1l.6 .1l.4 .2l.5 .7l.5-1.3l.5 .6l.5-.5l.5 1l.5-1.2l.5 1.3l.5-1l.5 1l.5-1.5l.5 1.4l.5-.5l.5 .3l.5 0l.5 .8l.5-.7l.5 .3l.5-.8l.5 .6l.5-.5l.5 .7l.5-.8l.5 .8l.5-.3l.2 .3l.3-.1l.5 .3l.5 .1l.5 .6l.5-.4l.5 1.5l.5-.9l.5 1.8l.5-.9l.5 1.6l.5-1l.5 1.2l.5-.7l.5 1l.5-.5l.5 1l.2-.4l.3 .3l.5 .1l.5 .5l.5-.7l.5 .7l.5-1.2l.5 .7l.5-.5l.5 .5l.5-1.2l.5 1.5l.5-1.1l.5 .6l.5-.6l.5 1.3l.5-1.1l.5 1.5l.5-.8l.5 1l.5-.7l.5 .9l.5-.7l.5 1l.5-.9l.5 .9l.5-1.4l.5 1.1l.5-1.3l.5 .4l.5-.3l.5 .5l.5-.5l.5 .5l.5-.4l.5 1l.5-.7l.5 .8l.5-.9l.5 .7l.5-.7l.5 .6l.3-.3l.2 .2l.5-.3l.5 .2l.5-.8l.5 .6l.5-.6l.5 1l.5-.5l.5 .9l.5-.7l.5 1.2l.5-1.2l.5 .5l.5-.8l.5 .6l.5-.4l.5 .8l.5-1.1l.5 .8l.5-1.1l.5 .9l.5-.7l.5 1l.5-1.4l.5 .9l.5-.6l.5 .8l.5-.6l.5 .8l.5-1l.5 1.2l.5-1.5l.5 1.1l.5-.9l.5 .5l.5-.6l.5 1.5l.5-1.2l.5 .4l.5-1.3l.5 1l.5-1.2l.5 1.2l.5-.9l.5 .6l.5-.7l.5 1l.5-1.1l.5 1.1l.5-.9l.5 .7l.5-.4l.5 .9l.5-1l.5 .5l.5-.8l.5 .6l.5-.9l.5 1.1l.5-.9l.5 .6l.5-1.4l.5 .8l.5-1.2l.5 .7l.5-.7l.5 1.1l.5-.8l.5 1.1l.5-1.3l.5 1l.5-.6l.5 .4l.5-.5l.5 1.1l.5-1.2l.5 .6l.5-1.3l.5 1l.5-.7l.5 1.1l.5-.7l.5 .9l.5-1.2l.5 1.1l.5-1.4l.5 1l.5-1.8l.5 .9l.5-.6l.5 .7l.6 .1l.4-.3l.5-.7l.5 .5l.5-.5l.5 1.1l.5-.4l.5 .3l.5-1l.5 .9l.5-.8l.5 1l.5-.9l.5 1.4l.5-1.3l.5 1.2l.5-1.2l.5 .7l.5-.9l.5 1.1l.5-.7l.5 .4l.5-.8l.5 .6l.5-1.2l.5 1.4l.5-1l.5 .9l.5-.7l.5 .4l.5-.7l.5 1l.5-1.3l.5 .7l.5-.9l.5 1l.5-1l.5 .9l.5-.3l.5 .9l.5-1.1l.5 .6l.5-1.1l.5 .5l.5-.5l.5 .7l.5-.8l.5 1l.5-.5l.5 .7l.5-.5l.5 .4l.5-.7l.5 .5l.5-.9l.5 .9l.5-1.1l.5 .4l.5-1l.5 1.1l.5-1.1l.5 1.2l.5-.7l.5 .8l.5-.7l.5 1l.5-1.5l.5 1.6l.5-1.2l.5 .6l.5-1l.5 .8l.5-.6l.5 1l.5-1.6l.5 1.2l.5-.7l.5 .8l.5-.9l.5 .1l.5-1.2l.5 1.3l.5-1.2l.5 1.7l.5-.8l.5 .4l.5-1l.5 1.2l.5-.8l.5 1.3l.5-1.1l.5 .3l.4-.6l.6 .9l.5-1.4l.5 .8l.5-.8l.5 1.1l.5-1.1l.5 .6l.5-1.1l.5 1.4l.5-1.4l.5 .8l.5-1l.5 .7l.5-.9l.5 .7l.5-.4l.5 .7l.5-.5l.5 .7l.5-1l.5 .5l.5-.3l.5 .5l.5-.3l.5 .5l.5-.7l.5 .8l.5-1l.5 1.1l.5-1.3l.5 1.2l.5-1.1l.5 .8l.5-.7l.5 .7l.5-1.2l.5 1.4l.5-1.4l.5 .4l.5-.8l.5 .9l.5-.6l.5 1.1l.5-1.6l.5 1.3l.5-.8l.5 .7l.5-.9l.5 .5l.5-.8l.5 1.1l.5-1.3l.5 1.1l.5-.6l.5 .9l.5-.4l.5 1.1l.5-1.2l.5 .1l.5-.6l.5 .2l.5-.8l.5 .8l.5-1l.5 1l.5-.9l.5 .9l.5-.8l.5 1l.5-1l.5 1.1l.5-.7l.5 .7l.5-1.1l.5 .7l.5-.8l.5 .3l.5-1l.5 1l.5-1.3l.5 1.4l.5-1.4l.5 1.1l.5-.9l.5 1.1l.5-1.1l.5 1.2l.5-1.5l.5 1l.5-.7l.5 1.2l.2-1l.3 .2l.5-.9l.5 1l.5-.9l.5 .6l.5-.7l.5 .6l.5-1.1l.5 1.3l.5-1.1l.5 .8l.5-1.2l.5 .6l.5-.8l.5 1.1l.5-.7l.5 1l.5-1.4l.5 1l.5-1.6l.5 1l.5-1.6l.5 1l.5-1.3l.5 1l.5-1.3l.5 1.8l.5-1.2l.5 .5l.5-1.1l.5 1.3l.5-1.9l.3 .5l.2-.9l.5 .5l.5-.9l.5 .9l.5-1.8l.5 .7l.5-1.6l.5-.5l.5-1.8l.5-.6l.5-1.8l.5-1.3l.5-2.8l.5-2.1l.5-4.8l.5-3.3l.5-4.8l.5-2.8l.5-3.7l.5-2.6l.5-3.7l.5-2.1l.5-1.6l.2-.1l.3 .1l.5 1.9l.5 2.2l.5 3.8l.5 2.6l.5 3.2l.5 1.8l.5 3l.5 1.7l.5 2.9l.5 .2l.5 1.8l.5-.3l.5 .9l.5-.2l.5 1l.5-.4l.5 1.2l.5-.4l.5 1.1l.5-.6l.5-.2l.5-1.4l.5 .9l.5-.5l.5 .5l.5-1.1l.5 .4l.5-1.7l.5 .9l.5-1.5l.5 .6l.5-.9l.5 .8l.5-.9l.5 1l.6-.3l.4 .2l.5-.3l.5 .7l.5-.3l.5 .9l.5-.4l.5 .8l.5-1.2l.5 .9l.5-.2l.5 .6l.3 0l.2 .2l.5-.2l.5 .7l.5-.1l.5 1.4l.5-.9l.5 .2l.5-.5l.5 .7l.5-.6l.5 .7l.5-.3l.5 1.3l.5-1l.5 1.2l.5-.1l.5 1l.5-1l.5 1.1l.5-1l.6 1.2l.4-.1l.5 1.1l.5-.4l.5 1.4l.5-1.3l.5 1l.5-.8l.5 1.5l.5-.9l.5 .4l.5-.6l.5 1.5l.5-.7l.5 1l.5-1l.5 1.2l.5-.6l.5 1.5l.5-.7l.5 1.4l.5-1.5l.5 1.5l.5-.8l.5 1l.5-.2l.5 1.5l.5-.5l.5 .4l.5-.2l.5 1.2l.5-1.2l.6 .8l.4-.6l.5 .8l.5-.8l.5 1.4l.5-.8l.5 1.3l.5-.6l.5 1.4l.5-.8l.5 1.2l.5-.8l.5 .8l.5-.3l.5 1.1l.5-1l.5 1l.5-.5l.5 .8l.5-1.5l.5 1.2l.5-1.1l.5 1.2l.5-.5l.5 .9l.5-1l.5 .6l.5-1l.4 1l.6-.5l.5 .8l.5-.5l.5 .8l.5-1l.5 .9l.5-1.3l.5 .8l.5-.4l.5 .7l.5-1l.5 1.3l.5-1.1l.5 .7l.5-.9l.5 .9l.5-.9l.5 .4l.5-1l.5 1.7l.5-1.2l.5 1.1l.5-.9l.5 .7l.5-1.2l.5 1.2l.5-1.1l.5 1l.5-1.1l.5 1.3l.5-1.2l.4 .3l.6-.4l.5 .7l.5-1.9l.5 .2l.5-1.6l.5-.3l.5-1.3l.5-.3l.5-.1l.5-.2l.5-1.2l.5 .4l.5-.8l.5 .4l.5-.7l.5 .3l.6-.1l.4 .3l.5-.2l.5 .5l.5-.6l.5 1.8l.5-1l.5 1.3l.5 .1l.5 1.4l.6 .1l.4 .8l.5-.8l.5 1.3l.5-.6l.5 1.4l.5-.9l.5 1.5l.5-.6l.5 1.2l.5-.6l.5 .6l.5-.5l.5 1.2l.5-.4l.5 .9l.5-.4l.5 .5l.5-.2l.3 0l.2-.6l.5 1.2l.5-.6l.5 1.1l.5-.9l.5 .6l.5-.3l.5 .2l.5-1.5l.5 .9l.5-.5l.5 .8l.5-.6l.5 .4l.5-.9l.5 .7l.5-1.1l.5 .9l.5-1l.5 .8l.5-1l.5 .7l.5-.5l.5 1.6l.5-.9l.5 1.1l.5-1.6l.5 1l.5-1.2l.5 1l.5-.6l.5 1l.3-.7l.2 .8l.5-.9l.5 .7l.5-1.1l.5 1l.5-.9l.5 .6l.5-1.2l.5 .8l.5-.7l.5 .9l.5-.3l.5 .6l.5-.8l.5 .9l.5-.6l.5 1.3l.5-1.2l.5 1.2l.5-.8l.5 .7l.5-.9l.5 .9l.5-.8l.5 .7l.5-.9l.5 .9l.6-.2l.4 .6l.5-1.4l.5 .9l.5-.3l.5 .9l.5-.7l.5 1.2l.5-.9l.5 .5l.5-.2l.5 .6l.5-.8l.5 1.2l.5-1.3l.5 1.3l.5-.7l.5 1.2l.5-.8l.5 1.1l.5-.5l.5 1.1l.5-1.4l.5 1.5l.5-.8l.5 .7l.5-.9l.5 .6l.3-.4l.2 0l.5-.3l.5 .4l.5-1.1l.5 1.4l.5-1.1l.5 .6l.5-1l.5 1l.5-.8l.5 1l.5-1.2l.5 .8l.5-.7l.5 .2l.5-.3l.3 .1l.2 .1l.5 .4l.5-.4l.5 .9l.5-1.1l.5 1.5l.5-1.8l.5 1.3l.5-1.4l.5 1.4l.5-.9l.5 1.6l.5-.7l.5 .6l.5-1l.5 1.4l.5-.8l.5 .8l.5-1.2l.5 .8l.6-.1l.4 .7l.5-1.3l.5 .9l.5-.4l.5 .7l.5-1.2l.5 1.2l.5-.5l.5 .7l.5-1.2l.5 .7l.5-.8l.5 .5l.5-1.6l.5 .8l.5-1.3l.5 1.1l.5-1.1l.5 1.6l.5-.9l.5 .7l.5-.8l.5 .1l.5-.5l.5 .1l.5-.9l.5 .5l.5-.8l.5 .5l.5-.7l.5-.1l.5-1.2l.5 .8l.5-1.2l.5 .4l.5-1.7l.5 .5l.5-.9l.5 .3l.5-1.5l.6-.5l.4-.7l.5-.3l.5-1.6l.5-.2l.5-2.4l.5-.7l.5-2.3l.5-1.3l.5-2.7l.5-.5l.5-2.6l.3-.7l.2-1.3l.5-1.3l.5-3.7l.5-2.9l.5-4.2l.5-3.6l.5-5.4l.3-2.8l.2-3.4l.5-7.4l.5-12.2l.5-11.6l.5-12.5l.5-10.2l.5-10.3l.5-10.5l.5-12.4l.5-9.8l.5-9.7l.5-6.4l.5-4l.2-.2l.3 .9l.5 6.4l.5 9.2l.5 13.1l.5 12.7l.5 13.1l.4 7.9l.6 11.1l.5 7.9l.5 9.4l.5 7.3l.5 8.6l.5 5.4l.6 7.6l.4 3.1l.5 5.9l.5 3.9l.5 5.2l.5 3.1l.5 4.4l.5 1.7l.5 2.5l.5 2.1l.5 2.3l.5 1.2l.5 2.2l.5 .4l.5 2.4l.5 .1l.5 1.7l.5 .1l.5 .8l.5-.2l.5 1.5l.5-1.4l.5 1.4l.5-1.3l.5 1.5l.5-.5l.5 .7l.5-.6l.5 1.1l.5-.8l.5 .6l.5-.7l.5 .9l.5-1.1l.5 1.3l.5-.6l.5 1.1l.5-.3l.5 .6l.5-.2l.5 .8l.5-.3l.6 .3l.4-.4l.5 .9l.5 .1l.5 1.3l.5-.5l.5 .9l.5-.4l.5 1.1l.5 .3l.5 1.5l.5-.6l.5 1.3l.5-.6l.5 .9l.5-.8l.5 .3l.5-.2l.5 .5l.3 .2l.2 .2l.5-.7l.5 1.2l.5-.8l.5 1.1l.5-.7l.5 1.5l.5-1.4l.5 1l.5-1l.5 .8l.5-1l.5 .9l.5-1l.5 .8l.5-.8l.5 1.6l.5-.6l.5 .9l.5-.7l.5 1.5l.5-1.2l.5 1.1l.5-.8l.5 1.1l.5-1.2l.5 1.3l.5-1.2l.5 .7l.5-.9l.5 1l.5-.8l.5 1l.5-.7l.5 .8l.5-.9l.5 1.2l.5-1.7l.5 1.3l.5-.7l.5 .3l.5-.8l.5 1l.5-.9l.5 .8l.5-.1l.2 .2l.3-.2l.5 .4l.5-.4l.5 .9l.5-.9l.5 1l.5-1.2l.5 1.4l.5-1l.5 .9l.5-1.1l.5 .7l.5-.4l.5 .5l.5-.6l.5 .8l.5-1l.5 .9l.5-.8l.5 .7l.5-.9l.5 .4l.5-.2l.5 .5l.5-1.2l.5 1.6l.5-1.2l.5 .7l.5-.8l.5 1.1l.5-.5l.5 .5l.2-.2l.3 .2l.5-.1l.5 .3l.5-.6l.5 .8l.5-1.1l.5 1.1l.5-1l.5 1.4l.5-1l.5 .5l.5-1.2l.5 .9l.5-.6l.5 .8l.5-.7l.5 .9l.5-1l.4 .7l.6-1l.5 1.1l.5-.1l.5 1.2l.5-1.1l.5 .3l.5-.3l.5 .3l.5-.9l.5 .3l.5-.4l.5 .4l.5-1.1l.5 1.2l.5-.9l.5 .6l.5-.3l.5 1.2l.5-1.2l.5 1.2l.5-1.1l.5 .5l.5-.4l.5 .2l.5-.2l.5 .4l.5-.8l.5 .6l.5-.4l.5 .6l.5-.7l.5 .9l.5-1.1l.5 1.2l.5-1.4l.5 .7l.5-.9l.5 1.1l.5-.3l.5 .9l.5-.9l.5 1.1l.5-1.8l.5 1.6l.5-1.1l.5 1.2l.5-.8l.5 .9l.5-.7l.6 .2l.4-.2l.5 1.2l.5-.7l.5 1l.5-1.4l.5 .5l.5-.9l.5 .9l.5-1.2l.5 1.6l.5-.9l.5 .9l.5-1l.5 1.9l.5-1.1l.5 .8l.5-.4l.5 .5l.5-.5l.5 .5l.5-.8l.5 .7l.5-1.1l.5 .9l.5-1l.5 1l.5-.5l.5 .7l.5-1.3l.5 1.5l.5-1l.5 1l.5-.7l.5 1l.5-.6l.5 .5l.5-.3l.5 .8l.5-1.3l.5 1.6l.5-1.8l.5 1.2l.5-1l.5 1.6l.5-.8l.5 0l.5-.3l.5 .9l.5-.8l.5 .3l.5-.7l.5 .8l.5-1.1l.5 1l.5-.5l.5 1.2l.5-.8l.5 1l.5-1.7l.5 1.4l.5-1l.5 0l.5-.4l.5 .3l.5-.9l.5 1.5l.5-.8l.5 1.2l.5-1.2l.5 .6l.5-1l.5 .2l.5-.7l.5 .8l.5-.7l.5 1l.5-.5l.5 0l.5 .1l.5 .6l.5-.6l.5 1.3l.5-1.3l.5 .8l.5-.5l.5 .6l.5-.6l.5 .7l.5-.8l.5 .7l.5-1l.5 .8l.5-.7l.5 1.2l.5-.8l.5 1l.5-1l.5 1.1l.5-1l.5 .9l.5-.1l.5 .3l.5-.9l.5 .8l.5-.6l.5 .4l.5-.8l.5 .9l.5-.6l.5 .7l.5-1.1l.5 1l.5-1l.5 .9l.5-1.1l.5 .5l.5-.7l.5 1l.5-.5l.5 1.2l.5-.7l.5 .4l.5-1.1l.5 1.3l.5-1.4l.5 .9l.5-1.4l.5 .8l.5-.7l.5 .6l.5-.7l.5 .8l.5-.6l.5 .6l.5-.8l.5 .9l.5-.5l.3 0l.2-.6l.5 1.4l.5-1.1l.5 .8l.5-.9l.5 1.1l.5-.8l.5 .7l.5-.8l.5 .5l.5-.9l.5 .5l.5-.5l.5 1l.5-.4l.5 1.7l.5-1.4l.5 .5l.5-1.3l.5 1.1l.5-.7l.5 1l.5-.6l.5 .4l.5 0l.4 0l.6 0l.5 .4l.5-1l.5 1l.5-.6l.5 .5l.5-.6l.5 .9l.5-.8l.5 1.4l.5-1.1l.5 .4l.5-.3l.5 .9l.5-1.4l.5 1.4l.5-.7l.5 .5l.5-.5l.5 .5l.5-.2l.5 1.1l.5-1.2l.5 .9l.5-.3l.5 .9l.5-.8l.5 .9l.5-1.1l.5 1l.5-1.1l.5 1l.5-1.2l.5 1.4l.5-.9l.5 1.1l.5-.6l.5 .8l.5-1l.5 1.1l.5-1.3l.5 .8l.5-1.3l.5 1.5l.5-1l.5 1.5l.5-1.1l.5 1.1l.5-1.1l.5 1.1l.5-.5l.5 .3l.5-.5l.5 1.1l.5-1.4l.5 1.5l.5-1.4l.5 1l.5-.3l.5 .5l.5-.8l.5 .6l.5-1l.5 .8l.5-.7l.5 1.5l.5-.4l.5 .5l.5-1.2l.5 1.3l.4-1l.6 .4l.5-.4l.5 .7l.5-1.3l.5 1l.5-1.1l.5 .8l.5-1.1l.5 .6l.5-.4l.5 .6l.5-1.2l.5 1.5l.5-.8l.5 .7l.5-.6l.5 .6l.5-.7l.5 1l.5-.6l.5 .6l.5-.3l.5 .5l.5-.9l.5 1.1l.5-.7l.5 .5l.5-.9l.5 1.1l.5-1.5l.5 .8l.5-.8l.5 .5l.5-.7l.5 1.1l.5-.3l.5 .3l.5-1.2l.5 1l.5-1l.5 1l.5-.6l.5 1.1l.5-.3l.5 1l.5-1.4l.5 1l.5-1.1l.5 .6l.5-.7l.5 .4l.5-.5l.5 1.1l.5-1.3l.5 1.4l.5-1.2l.5 1l.5-1.1l.5 .6l.5-1l.5 .8l.5-1.3l.5 .6l.5-.8l.5 1.1l.5-.8l.5 1.5l.5-.8l.3 .1l.2-.5l.5 .9l.5-.7l.5 .5l.5-1l.5 1.3l.5-1l.5 1l.5-1.6l.5 1.3l.5-.9l.5 .6l.5-.7l.5 1.1l.5-1.3l.5 .7l.5-.8l.5 .8l.5-1.2l.5 1.3l.5-.8l.5 .8l.5-.3l.5 1.2l.5-1.7l.5 1l.5-.5l.5 .6l.5-1.2l.5 .7l.5-.4l.5 .7l.5-1l.5 .8l.5-1.1l.5 .7l.5-.7l.5 .8l.5-1l.5 .9l.5-.9l.5 .9l.5-.3l.5 1.4l.5-.7l.5 .4l.5-1.4l.5 1.2l.5-.7l.5 .5l.5-.6l.5 1.5l.5-1.4l.5 1l.5-1.1l.5 .9l.5-1l.5 .8l.5-.5l.5 .7l.5-1.3l.5 1l.5-.6l.5 .4l.5-.5l.5 .9l.5-1.1l.5 1.3l.5-.8l.5 .5l.5-.6l.5 .9l.5-1.2l.5 .5l.5-.8l.5 1l.5-1.2l.5 1.3l.5-.7l.5 .8l.5-.6l.5 .8l.5-1.4l.5 1l.5-1l.5 1l.5-1.5l.5 .8l.5-.8l.5 .7l.5 0l.6 .3l.4-.6l.5 1.2l.5-1.2l.5 .8l.5-.4l.5 1.4l.5-1l.5 .9l.5-1.2l.5 .5l.5-.4l.5 .7l.5-1.3l.5 1.5l.5-1.1l.5 .8l.5-1.1l.5 .8l.5-.7l.5 .9l.5-1l.5 1.3l.5-1.8l.5 .9l.5-1.1l.5 .9l.5-.4l.5 .8l.5-1l.5 1.1l.5-.9l.5 1.6l.5-1.1l.5 1.1l.5-.6l.5 .8l.5-1.3l.5 .9l.5-1l.5 .9l.5-1.4l.5 1.2l.5-1.3l.5 .6l.5-.8l.5 .6l.5-.5l.5 1.1l.5-.6l.5 .9l.5-1.1l.5 .8l.5-.9l.5 .6l.5-.9l.5 1l.5-.9l.5 1.3l.5-1.1l.5 .4l.5-.3l.5 .3l.5-.3l.5 .9l.5-.8l.5 .6l.5-.5l.5 .9l.5-.5l.5 .5l.5-1.2l.5 .8l.5-1l.5 .8l.5-.4l.5 .8l.5-.9l.5 1.2l.5-1l.5 .7l.5-.6l.5 1l.5-1.1l.5 1l.5-.9l.5 .8l.5-.9l.5 .6l.5-.7l.5 .9l.5-1.1l.5 .7l.5-1.1l.5 1.1l.5-.9l.5 1.1l.5-.8l.5 .8l.5-.4l.5 .3l.5-1.6l.5 1.4l.5-1.1l.5 .7l.5-.6l.5 .5l.5-.6l.5 1l.5-1.1l.5 1.3l.5-.8l.5 .7l.5-.7l.5 1l.5-.9l.5 1.2l.5-1.7l.5 .7l.5-.8l.5 1.2l.5-1.3l.5 .9l.5-.6l.5 .9l.5-.3l.5 .7l.5-.8l.5 .5l.5-1.3l.5 1.1l.5-.8l.5 .9l.5-1l.5 1l.5-.6l.5 1.5l.5-1.9l.3 .6l.2-.9l.5 .7l.5-1.5l.5 1.5l.5-.6l.5 .7l.5-.5l.5 .3l.5-.6l.5 1.1l.5-.7l.5 1l.5-1.2l.5 1.2l.5-.5l.5 .9l.5-1.2l.5 1.3l.5-1.1l.5 .9l.5-.9l.5 .9l.5-1.3l.5 .8l.5-1.1l.5 .9l.5-.9l.5 1.1l.5-1.1l.5 1.4l.5-1.4l.5 .9l.5-.7l.5 1.1l.5-1l.5 1l.5-1.2l.5 1.1l.5-1.1l.5 .5l.5-.5l.5 .9l.5-.8l.5 1l.5-.5l.5 .4l.5-.7l.5 .4l.5-.3l.5 .4l.5-.6l.5 .9l.5-1.1l.5 .8l.5-.4l.5 .4l.5-.8l.5 .9l.5-1l.5 1.2l.5-1.1l.5 1l.5-.5l.5 .7l.5-.8l.5 1l.5-.7l.5 .7l.5-1l.5 .3l.5-1.1l.5 1l.5-1l.5 1.3l.5-1.1l.5 .9l.5-.5l.5 .9l.5-.5l.5 .3l.5-1.3l.5 .8l.5-1l.5 1.4l.5-1.1l.5 1.3l.5-1.3l.5 1.2l.5-1.5l.5 1l.5-1.4l.5 1.5l.5-.8l.5 1.1l.5-.7l.5 .9l.5-1.1l.5 .1l.5-.5l.5 .9l.5-.8l.5 1.3l.5-1l.5 1.6l.5-1.5l.5 .5l.5-.9l.5 .9l.5-1.1l.5 1.3l.5-1.4l.5 .9l.5-.8l.5 .7l.5-.6l.5 1.2l.5-1.3l.5 1.4l.5-1.2l.5 .8l.5-.7l.5 .6l.5-1.1l.5 1.3l.5-1.2l.5 1.2l.5-1l.5 .9l.5-1l.5 .9l.5-.7l.5 .3l.5-.7l.5 1.5l.5-1.4l.5 1.3l.5-1.1l.5 .7l.5-.3l.5 .6l.5-1.4l.5 1.4l.5-1l.5 1.1l.5-.8l.5 1l.5-1.2l.5 .9l.5-.9l.5 .6l.5-1.4l.5 1l.5-1.1l.5 .6l.5-.7l.5 .8l.5-.8l.5 .9l.5-1.3l.5 .6l.4-.4l.6 0l.5-.9l.5 .4l.5-1.1l.5 .8l.5-1.1l.5 1.2l.5-1l.5 .7l.5-.7l.5 .4l.5-1.2l.5 .8l.5-1.3l.5-.2l.5-.4l.5 0l.5-1.1l.5 1.1l.5-1.3l.5 .9l.5-.9l.5 .4l.5-1.4l.5 1.2l.5-1.9l.5 1l.5-1.4l.4 .3l.6-.9l.5 .4l.5-1.8l.5 .4l.5-1.9l.5-.4l.5-2.3l.5-.1l.5-2l.5-.2l.6-1.5l.4-.7l.5-2.5l.5-1.8l.5-3.2l.5-1.9l.5-4l.5-1.9l.5-2.4l.5-1.4l.5-3.3l.5-1.4l.5-2.6l.5-1.4l.5-1.2l.4-.3l.6 .4l.5 1.4l.5 1.3l.5 3.1l.5 .8l.5 3.5l.5 1.3l.5 2.2l.5 1.7l.5 2.8l.5 2l.5 3.4l.5 1.6l.5 3.8l.5 .9l.5 2.9l.6 1.5l.4 1l.5 .3l.5 2l.5-.1l.5 2l.5-.1l.5 1.3l.5 .3l.5 1.5l.5 .3l.5 1.3l.5-.3l.5 1.1l.5-.8l.5 1.6l.6 .1l.4 .6l.5-.9l.5 1.4l.5-1.2l.5 1.5l.5-.5l.5 1.1l.5-.5l.5 1.1l.5-.9l.5 1.3l.5-.5l.5 1.5l.5-1.1l.5 .8l.5-.5l.5 1l.5-1.1l.5 1.2l.5-1.2l.5 1.1l.5-.5l.5 1l.5-1l.5 1.8l.5-1l.5 .8l.4-.7l.6 .3l.5-.2l.5 .7l.5-1.1l.5 1l.5-.8l.5 1.1l.5-1l.5 .5l.5-.9l.5 .6l.5-.7l.5 .8l.5-1.5l.5 1.4l.5-1.5l.5 1.2l.5-.6l.5 .7l.5-.5l.5 1.1l.5-1.3l.5 .7l.5-.9l.5 1.5l.5-1.3l.5 .9l.5-.9l.5 1.2l.5-1l.5 1.2l.5-1.3l.5 .9l.5-1.2l.5 1.4l.5-1.4l.5 1.3l.5-1.2l.5 1.3l.5-.8l.5 .9l.5-1.3l.5 .9l.5-1.2l.5 .8l.5-.4l.5 .7l.5-.5l.5 1l.5-.7l.5 .9l.5-1l.5 .6l.5-1.3l.5 1.5l.5-1.3l.5 1.2l.5-1.4l.5 1l.5-.7l.5 .7l.5-.7l.5 .8l.5-.9l.5 .6l.5-1l.5 .9l.5-.9l.5 .9l.5-.2l.5 .5l.5-.7l.5 .6l.5-.8l.5 .4l.5-.5l.5 .5l.5-.4l.5 .5l.5-.7l.5 1.6l.6-1.1l.4 .1l.5-.6l.5 .8l.5-.2l.5 .7l.5-.8l.5 1l.5-1.1l.5 .7l.5-1.2l.5 1.1l.5-1l.5 .6l.5-.7l.5 .5l.5-1.2l.5 1.2l.5-1.3l.5 1l.5-1l.5 .4l.5-.4l.5 1l.5-1.2l.5 .9l.5-.9l.5 .9l.5-.6l.5 .7l.5-1.3l.5 1.2l.5-1.2l.5 .4l.5-.7l.5 1l.5-1.2l.5 1.1l.5-.7l.5 .4l.5-.7l.5 .9l.5-.8l.5 .9l.5-1.1l.5 .5l.5-.6l.5 .6l.5-.3l.5 1l.5-1.3l.5 .7l.5-.7l.5 1l.5-1.2l.6 .9l.4-1.2l.5 1.1l.5-.7l.5 .9l.5-.6l.5 .7l.5-.6l.5 .9l.5-.8l.5 .7l.5-.7l.5 .5l.5 0l.5 .5l.5-1l.5 1l.5-.4l.5 .6l.5-1.2l.5 1l.5-.8l.5 .5l.5-.9l.5 .8l.5-.7l.5 1.2l.5-1l.5 .7l.5-.8l.5 .7l.5-1.2l.5 .7l.5-.6l.5 .7l.5-.9l.5 1l.5-.6l.5 .8l.5-.9l.5 .3l.5-.3l.5 .6l.5-.3l.5 .7l.5-.9l.5 .5l.5-.7l.5 .4l.5-1.2l.5 .4l.5-1.6l.5 .5l.5-1.4l.5 .6l.5-2l.5 0l.5-2.3l.2 .4l.3-1.1l.5-1.4l.5-2.6l.5-1.8l.5-4.1l.5-1.8l.5-3.7l.6-1.8l.4-2.8l.5-1.3l.5-3.6l.5-1.5l.5-3.2l.5-1.5l.5-1.2l.3-.1l.2-.1l.5 1.2l.5 1.1l.5 2.7l.5 1.3l.5 3.7l.5 1.4l.5 3.5l.2 .4l.3 1.7l.5 .9l.5 3.8l.5 1.3l.5 3.8l.5 1.2l.5 2.5l.5 1.2l.5 1.8l.3 .1l.2 .4l.5 .6l.5 1.8l.5 .5l.5 1.4l.5-.2l.5 1.6l.5 .1l.5 1.2l.5-.3l.5 1.3l.5 .1l.5 1.5l.6-.8l.4 1.2l.5-1.3l.5 .9l.5-.9l.5 1.3l.5-.8l.5 1.2l.5-.5l.5 .3l.5-1.2l.5 1l.5-.6l.5 1.1l.5-.9l.5 1.3l.5-.2l.5 .5l.5-.5l.5 .2l.5-.6l.5 1.2l.5-.8l.5 .7l.5-.8l.5 1.2l.5-.6l.5 1.1l.5-1.4l.5 1.2l.5-.7l.5 .8l.5-.9l.5 1.5l.5-1.2l.5 1.1l.5-1.1l.5 .9l.5-.8l.5 .9l.5-1.4l.5 1.1l.5-1.1l.5 1.1l.5-.7l.5 .8l.5-.7l.5 .5l.5-.4l.2 .4l.3-.8l.5 .7l.5-.1l.5 .7l.5-1.1l.5 1.3l.5-.8l.5 .7l.5-1.2l.5 .6l.5-.8l.5 1.2l.5-1l.5 1l.5-1l.5 1.5l.5-1.6l.5 1.2l.5-.5l.5 1.1l.5-1.5l.5 1.5l.5-1.4l.5 1.1l.5-1.7l.5 1.5l.5-.5l.5 1.2l.5-1.1l.5 .6l.5-.6l.5 1.1l.5-.8l.5 .7l.5-1.1l.5 .5l.5-.6l.5 1.6l.5-1.5l.5 1.2l.5-.2l.5 .6l.5-1.1l.5 .6l.5-.6l.5 1l.5-1.3l.5 1.1l.5-1.2l.5 .9l.5-1l.5 .8l.5-.4l.5 .3l.5-.3l.5 .6l.5-.6l.5 .9l.5-.9l.5 1l.5-.8l.5 .8l.5-1.2l.5 1.2l.5-1l.5 .5l.5-.3l.5 .8l.5-.9l.5 .5l.5-1l.5 .8l.5-.9l.5 1l.5-.9l.5 .4l.5-.8l.5 1l.5 0l.5 1l.5-.6l.5 .8l.5-1l.5 .7l.5-.6l.5 .5l.5-.9l.5 .6l.5-.9l.5 .9l.5-1l.5 1.1l.5-.8l.5 1.3l.5-1.2l.5 1.2l.5-1.1l.5 .7l.5-.4l.5 .6l.5-1.1l.5 .9l.5-.2l.5 .6l.5-.7l.5 1.3l.5-1l.5 .5l.5-.8l.5 .9l.5-1.1l.5 1.1l.5-1l.5 .9l.5-.8l.5 .1l.5-.4l.5 .8l.5-1.7l.5 1.8l.5-1l.5 1.4l.5-1.2l.5 .6l.5-.4l.5 1l.5-.9l.5 .1l.5-.7l.5 1l.5-1.2l.5 .9l.5-.5l.5 .7l.5-.6l.5 .5l.5-.9l.5 .9l.5-1.1l.5 .7l.5-.9l.5 1.3l.5-1.4l.5 1.3l.5-.8l.5 .8l.5-.6l.5 .4l.5-1.2l.5 1l.5-1.4l.5 1.1l.5-1.3l.5 .9l.5-.4l.5 .7l.5-.7l.5 .8l.5-.7l.5 1.2l.4-1.1l.6 .2l.5-1.4l.5 .2l.5-1.6l.5-.3l.5-1.2l.5 .4l.5-1.6l.5-.4l.5-1.1l.6-.1l.4-1.2l.5 .1l.5-2.1l.5 .3l.5-2l.5 .1l.5-1.6l.5-.2l.5-2.1l.5 0l.5-1.1l.5-.2l.5-.5l.4 .1l.6-.1l.5 .8l.5-.2l.5 1.7l.5 .1l.5 2l.5 .3l.5 1.8l.5 .2l.5 1.2l.5 .3l.5 1.5l.5 .5l.3 .3l.2 .1l.5 1.5l.5-.9l.5 1.7l.5-.7l.5 1.1l.5-.3l.5 1.8l.5-.2l.5 1.3l.5-.8l.5 1.2l.5-.6l.5 1.8l.5-1l.5 .9l.3-.7l.2 .7l.5-.5l.5 .7l.5-1.3l.5 1.5l.5-1.3l.5 .1l.5-.9l.5 .6l.5-.8l.5 .8l.5-.9l.5 .7l.5-1l.5 .8l.5-1.3l.5 1.5l.5-1.1l.5 .3l.5-.9l.5 .6l.5-.7l.5 .8l.5-1.5l.5 .6l.5-.7l.5 1l.5-.9l.5 1.1l.5-1.2l.5 1.4l.5-1.4l.5 1.1l.5-1.2l.5 1l.5-1.4l.5 1.3l.2-.8l.3 1.1l.5-.4l.5 .8l.5-1.4l.5 .7l.5-1.2l.5 1.5l.5-.9l.5 .9l.5-1.6l.5 1.3l.5-.6l.5 1l.5-1l.5 .9l.5-.7l.5 1.2l.5-1.5l.5 .8l.5-.5l.5 .2l.5-.8l.5 .9l.5-.4l.5 1.1l.5-.8l.5 .9l.5-.8l.5 1.4l.5-1.2l.5 1.2l.5-.9l.5 1.4l.5-.9l.5 .5l.5-.5l.5 1.2l.5-1.7l.5 1.1l.5-.5l.5 .9l.5-1l.5 1.2l.5-1l.5 .7l.6 .1l.4 1l.5-.7l.5 .1l.5-.5l.5 .1l.5-.7l.5 .8l.5-.7l.5 1.2l.5-.7l.5 1.2l.5-.9l.5 .7l.5-.7l.5 .7l.5-.8l.5 1l.5-.8l.5 .8l.5-1.3l.5 1.1l.5-.6l.5 .7l.5-.5l.5 1.3l.5-.9l.5 1l.5-1.2l.5 1l.5-1.1l.5 1.5l.5-.7l.5 1.2l.5-1.3l.5 .9l.5-.9l.5 1l.5-.9l.5 1.7l.5-.6l.5 .7l.5-1.5l.5 .3l.5-1.2l.5 1.4l.5-.8l.5 1.1l.5-1l.5 1.3l.5-1.2l.5 1.3l.5-1.3l.5 1.1l.5-1.5l.5 1.2l.5-.9l.5 1l.5-1.3l.5 1.6l.5-.8l.5 1.1l.5-1.2l.5 1.1l.5-.7l.5 1.6l.5-1.3l.5 .8l.5-1l.5 .8l.5-1.3l.5 1l.5-.5l.5 1.3l.5-.8l.5 .6l.5-.7l.5 1.2l.5-.8l.5 .9l.5-.7l.5 .6l.5-.8l.5 1.2l.5-.8l.5 1l.5-1.2l.5 1.2l.5-1.1l.5 1.2l.5-1.4l.5 .4l.4-.2l.6 .7l.5-1.5l.5 1l.5-.6l.5 .6l.5-1l.5 1.9l.5-1.2l.5 .9l.5-.3l.5 .3l.5-.6l.5 .5l.5-.8l.5 .8l.5-.9l.5 .9l.5-.7l.5 1.3l.5-.9l.5 .8l.5-1l.5 .1l.5-.5l.5 0l.5-1l.5 1.2l.5-1.2l.5 1l.5-.4l.5 .6l.5-.4l.5 .9l.5-.9l.5 1.1l.5-1.3l.5 1.4l.5-.7l.5 .9l.5-.9l.5 .8l.5-1.1l.5 1.3l.5-1.2l.5 .8l.5-.9l.5 1l.5-1.2l.5 .9l.5-1.1l.5 1.6l.5-1.7l.5 1.7l.5-1l.5 .7l.5-1l.5 .4l.5-.9l.5 .9l.5-.7l.5 .8l.5-.7l.5 1l.5-1.2l.5 .8l.5-.3l.5 1.2l.5-.9l.5 1l.5-1.3l.5 .7l.5-.8l.5 1.4l.5-1.5l.5 1.5l.5-.8l.5 .8l.5-1.7l.5 1l.5-.9l.5 .7l.5-.7l.5 .4l.5 .2l.5 .4l.5-.4l.5 1l.5-1.1l.5 .8l.5-1.3l.5 1.8l.5-1.6l.5 .9l.5-1l.5 1.2l.5-.9l.5 1.3l.5-1.2l.5 1l.5-.3l.5 .7l.5-1.2l.5 1.2l.5-1.7l.5 .9l.5-.8l.5 .7l.5-.5l.5 .3l.5-.5l.5 .8l.5-.6l.5 .7l.5-.9l.5 .8l.5-.6l.5 1l.5-.8l.5 .7l.5-.6l.5 .9l.5-.7l.5 .8l.5-.8l.5 .8l.5-.6l.5 .9l.5-1l.5 .9l.5-.4l.5 1.1l.5-1.3l.5 .8l.5-.9l.5 .3l.5-.8l.6 .4l.4-.5l.5 .6l.5-.7l.5 1l.5-.5l.5 .5l.5-.5l.5 .5l.5-.6l.5 1.3l.5-1.1l.5 .9l.5-.6l.5 .8l.5-.9l.5 .7l.5-.9l.5 .5l.5-.8l.5 1l.5-.1l.5 .8l.5-.8l.5 .9l.5-1.3l.5 1l.5-1l.5 .4l.5-.3l.5 .5l.5-.3l.6 .2l.4 0l.5 .3l.5-.4l.5 .8l.5-1.4l.5 .8l.5-1.2l.5 1.6l.5-1.3l.5 1.2l.5-.7l.5 1.3l.5-.6l.5 .8l.5-1.2l.5 1.1l.5-1.2l.5 .9l.5-1.2l.5 .6l.5-1l.5 1.3l.5-.7l.5 1l.5-1.5l.5 1.3l.5-1.2l.5 .7l.5-1.4l.5 1.1l.5-1.1l.5 .9l.5-.5l.5 .8l.5-.7l.5 1l.5-.3l.5 .8l.5-1l.5 .3l.5-.6l.5 .5"/>
<path stroke="#a0a0a0" d="M180.0,686.1l.5-3.5l.5 2l.5-2.8l.5 4l.5-3.3l.5 4.3l.5-4.6l.5 4.1l.5-4.1l.5 2.1l.5-1.3l.5 1.1l.5-1.6l.5 3.5l.5-2.6l.5 2l.5-3.3l.5 3.4l.5-3.2l.5 3l.5-2.1l.5 3.5l.5-3.9l.5 4.4l.5-4.9l.5 3.3l.5-4.1l.5 3.1l.5-2.9l.5 3.2l.5-1.8l.5 3.1l.5-2.8l.5 2.7l.5-1.5l.5 2.9l.5-3.9l.5 3.4l.5-3.9l.5 3.8l.5-4.1l.5 3.7l.5-2.9l.5 2.7l.5-2.2l.5 2.2l.5-1.7l.5 3.5l.5-3.3l.5 4.3l.5-4l.5 4.1l.5-3l.5 2.1l.5-2l.5 2.7l.5-4.3l.5 3.3l.5-3l.5 1.6l.5-3.2l.5 1.3l.5-2l.5 3.3l.5-2.8l.5 5.2l.5-4.2l.5 3.9l.5-2.4l.5 4.3l.5-5l.3 1.9l.7-1.1l.5 1.8l.5-2.1l.5 2.3l.5-.7l.5 2.3l.5-1.5l.5 1.7l.5-2.8l.5 1.8l.5-2.9l.5 2.8l.5-3.5l.5 4.1l.5-2.7l.5 2.9l.5-2.6l.5 2.3l.5-3l.5 2.7l.5-1.4l.5 4.9l.5-2.6l.5 3.4l.5-3.3l.5 .2l.5-.2l.5 .7l.5-1.7l.5 .7l.5-1.6l.5 3.1l.5-3.3l.5 2.4l.5-3.4l.5 4.6l.5-3.9l.5 3.5l.5-3.6l.5 3.2l.5-2.9l.5 2.6l.5-3.8l.5 2.6l.5-1.1l.5 3l.5-3.4l.5 2.9l.5-4.7l.5 4.9l.5-2.2l.5 3.8l.5-2.9l.5 2.2l.5-3.1l.5 3.4l.5-1.8l.5 1.8l.5-3.5l.5 3.7l.5-1.8l.5 2.6l.5-2.9l.5 3l.5-2.6l.5 1.3l.5-.7l.5 1.3l.5-2.8l.5 4.2l.5-2.4l.5 3.1l.5-4.5l.5 3.1l.5-3.9l.5 2.9l.5-2.6l.5 3.2l.5-4.2l.5 3.8l.5-4l.5 2.5l.5-.8l.5 1.9l.5-3.1l.5 3.5l.5-2.1l.5 2.5l.5-2.4l.5 1.8l.6-1l.4-.7l.5-2.9l.5 2.9l.5-1.8l.5 4.2l.5-3.9l.5 4.4l.5-3.8l.5 3.8l.5-4.6l.5 5.4l.5-3.9l.5 2.8l.5-3.6l.5 3.8l.5-3.1l.5 1.1l.5-1.1l.5 3.2l.5-3.6l.5 3.7l.5-3.5l.5 3.1l.5-3.3l.5 3l.5-1l.5 1.9l.5-3.2l.5 2.3l.5-2.2l.5 3.1l.5-3.4l.5 1.1l.5-2.7l.5 4.3l.5-2.9l.5 1.4l.5-1.5l.5 2.5l.5-3.4l.5 4.3l.5-3.4l.5 2.4l.5-2.4l.5 2.8l.5-2.7l.5 .1l.5-2.4l.5 2.4l.5-3.3l.5 2.5l.5-4.1l.5 4.6l.5-4l.5 1.2l.5-2.8l.5 1.6l.5-1.5l.5 0l.5-4.3l.5 .7l.5-4.7l.5-2.4l.5-3.4l.5-1l.5-6.7l.5-.7l.5-2.9l.5 .3l.5 .1l.5 2.3l.5 .6l.5 3.9l.5 2.3l.5 6.7l.5 1l.5 5l.5 .6l.5 2.6l.5 .1l.5 5.2l.5-2.2l.5 4.9l.5-1.6l.5 3.5l.5-1.3l.5 1.4l.5-.7l.5 4.3l.5-5l.5 4.8l.5-4.2l.5 3.2l.5-3.7l.5 4.2l.5-3.3l.5 2l.5-.7l.5 3l.5-3.4l.5 3.6l.5-1.5l.5 1.5l.5-1.3l.5 1.1l.5-2.1l.5 1.4l.5-3.8l.5 2.8l.5-1.5l.5 2l.5-2l.5 3.9l.5-1.7l.5 1.8l.5-.9l.5 3.3l.5-2.4l.5 2.6l.5-2.5l.5 1.3l.5-2.2l.5 4l.5-5.3l.5 3.6l.5-2.3l.5 1.1l.5-1.2l.5 3.5l.5-5.1l.5 3.9l.5-2.5l.5 1.1l.5-.8l.5 3l.5-3.5l.5 3.5l.5-2.5l.5 2.6l.5-3.1l.5 3.6l.5-3.8l.5 3.3l.5-3.5l.5 2.4l.5-3.1l.5 3.4l.5-2.5l.5 3.3l.5-2.4l.5 2.4l.5-2.5l.5 1.4l.5-1.4l.5 1.5l.5-2l.5 3.5l.5-2.6l.5 1.9l.5-1.6l.3 .8l.7 .4l.5 1.4l.5-2.7l.5 3.5l.5-3.2l.5 3.4l.5-1.8l.5 1.2l.5-3.3l.5 2.4l.5-2.6l.5 1.8l.5-3.8l.5 3.9l.5-3.7l.5 3l.5-2.1l.5 3.4l.5-3.6l.5 3.3l.5-2.6l.5 2.1l.5-1.8l.5 1l.5-.2l.5 3.4l.5-4.4l.5 5l.5-4.3l.5 2.2l.5-1l.5 2.1l.5-2.6l.5 1.2l.5-1.2l.5 1.6l.5-.7l.5 1.9l.5-2.7l.5 3.3l.5-4.8l.5 4.2l.5-3l.5 4.5l.5-3.7l.5 2.7l.5-4.4l.5 3.5l.5-3.6l.5 2.1l.5-2l.5 3.6l.5-3.8l.5 2.9l.5-2.4l.5 3.2l.5-2.5l.5 2.9l.5-1.9l.5 1.4l.5-2.2l.5 3.3l.5-2.4l.5 4.6l.5-4.1l.5 2.9l.5-3.9l.5 .7l.5-2l.5 4.2l.5-3.4l.5 3.8l.5-4.7l.5 4.3l.5-2.1l.5 2.7l.5-3.8l.5 1.6l.5-2.5l.5 2.2l.5-2.9l.5 2.1l.5-4.5l.5 2.9l.5-3.5l.5 1.6l.5-3.5l.5 2.2l.5-2.5l.5 .3l.5-3.6l.5 2.3l.5-4.3l.5 2.9l.5-4l.5 1.3l.5-3.6l.5 1.8l.5-5.1l.5 1.8l.5-2.1l.5 3l.5-4l.5 2.4l.5-1.6l.5 2.6l.5-5l.5 2.7l.5-2.4l.5 2.2l.5-5.7l.5-.1l.5-3.9l.5 .3l.5-2.2l.7-.7l.3 .1l.5 2.2l.5-.2l.5 5.8l.5-1.3l.5 6l.5 .7l.5 3.2l.5 2.8l.5 5.3l.5 1.2l.5 4.4l.5-.5l.5 4.3l.5-1.3l.5 2.2l.5-2l.5 2.4l.5-1l.5 2.6l.5-3.4l.5 3.6l.5-4.6l.5 4.2l.5-2.7l.5 2.5l.5-2.4l.5 2.7l.5-1.9l.5-.3l.5-2.5l.5 3.2l.5-4.1l.5 4.2l.5-2.7l.5 3.9l.5-3.2l.5 3.3l.5-3.4l.5 4l.5-2.8l.5 2.3l.5-3l.5 2.5l.5-3.5l.5 2.5l.5-2l.5 2.6l.5-1.1l.5 2.1l.5-3.1l.5 2.7l.5-1.3l.5 2.4l.5-1.8l.5 1.3l.5-4.3l.5 3.2l.5-3.9l.5 3.4l.5-3.3l.5 3.8l.5-3.6l.5 2.5l.5-1.9l.5 2l.5-3.1l.5 5l.5-2.3l.5 1.4l.5-.6l.5 1.6l.5-4.7l.5 4.1l.5-5.1l.5 4.7l.5-5.1l.5 2.4l.5-3.1l.5 1.3l.5-1l.5 2l.5-3l.5 3l.5-4.2l.5 .8l.5-2.7l.5 1.6l.5-.9l.3 1l.7-.5l.5 1.8l.5-1.5l.5 3.3l.5-2.7l.5 4.2l.5-1.9l.5 2.4l.5-3l.5 3.3l.5-1.4l.5 2.5l.5-1.2l.5 3.2l.5-1.2l.5 2.3l.5-2.1l.5 1.3l.5-1.5l.5 3.7l.5-3.6l.5 2l.5-2.9l.5 2.2l.5-.9l.5 2.1l.5-2.1l.5 3l.5-2.5l.5 4.4l.5-2l.5 1.3l.5-4.1l.5 3.5l.5-2.5l.5 2.1l.5-2.5l.5 2.7l.5-2.9l.5 4l.5-2.8l.5 1.9l.5-3.3l.5 3.3l.7-.5l.3 .8l.5-3.1l.5 4.8l.5-3.4l.5 1l.5-1.5l.5 3l.5-3.8l.5 2.9l.5-3.1l.5 2l.5-1.3l.5 2.8l.5-2.1l.5 2.7l.5-3.6l.5 1.8l.5-2.6l.5 3.9l.5-2.9l.5 3l.5-3.6l.5 3l.5-2.6l.5 2.7l.5-4.9l.5 4.6l.5-3.2l.5 3.1l.5-4.2l.5 2l.5-2.7l.5 1.7l.5-3.7l.5 2.4l.5-2.8l.5 3.4l.5-2.5l.5 2.6l.5-2.9l.5 3.7l.5-4.1l.5 2.3l.5-2.1l.5 2l.5-4l.5 3.7l.5-2.1l.5 1.7l.5-2.5l.5 2.6l.5-2.8l.5 3.1l.5-4.4l.5 4.7l.5-3.7l.5 4.8l.5-3.9l.5 1.5l.5-4.1l.5 3.7l.5-2.4l.5 2.5l.5-2.3l.5 1.1l.5-1.9l.5 3.3l.5-2.9l.5 3.7l.5-3.2l.5 2.6l.5-3.9l.5 2.7l.5-1.8l.5 2.1l.5-1.8l.5 1.8l.5-3.6l.5 3.1l.5-.9l.5 .7l.5-3l.5 2l.5-2.7l.5 3.6l.5-2.9l.5 2l.5-3l.5 1.6l.5-2.7l.5 4.2l.6-1.6l.4 1.7l.5-2.6l.5 3.8l.5-4.4l.5 2.5l.5-4.1l.5 4.6l.5-3.5l.5 3.2l.5-1l.5 1.6l.5-2.2l.5 2.7l.5-2l.5 2.3l.5-1.6l.5 2.2l.5-1.2l.5 2.5l.5-2.3l.5 2.2l.5-2.9l.5 5.1l.5-4.3l.5 4.8l.5-3.5l.5 2l.5-1.4l.5 1.6l.5-1.7l.5 3l.5-1.3l.5 2.7l.5-2.7l.5 3.5l.5-.6l.5 1.6l.5-1.8l.5 2.6l.5-4l.5 5.1l.5-5l.5 3.7l.5-3l.5 3.3l.5-2.4l.5 2.4l.5-1.9l.5 1.7l.5-2.2l.5 5.6l.5-5.4l.5 2.9l.5-1.1l.5 .5l.5-.3l.5 1.8l.5-4.2l.5 3.2l.5-2.9l.5 2.2l.5-3.4l.5 4.4l.5-3.4l.5 1.6l.5-2.1l.5 2.2l.5-1.4l.5 .7l.5-2.1l.5 2.2l.5-1.7l.5 1.9l.5-2.6l.5 1.4l.5-2.1l.5 2.5l.5-2.8l.5 1.6l.5-1.3l.5 3.2l.5-2.7l.3 .7l.2-1.5l.5 3.4l.5-4.6l.5 3.7l.5-2.6l.5 1.1l.5-1.2l.5 1.9l.5-2.1l.5 4l.5-4.9l.5 4.6l.5-2.7l.5 3.3l.5-2.6l.5 2.7l.5-4.1l.5 2.9l.5-2.7l.5 2.3l.5-2.9l.5 5.2l.5-3.9l.5 4l.5-2.3l.5 3.1l.5-3.1l.5 3.3l.5-5.8l.5 4.8l.5-4.1l.5 2.8l.5-3.7l.5 3.2l.5-.6l.5 4.8l.5-2.9l.5 2.8l.5-1.1l.5 2.4l.5-4.8l.5 3.3l.5-2l.5 1.3l.5-2.3l.5 3.5l.5-4l.5 5l.5-2.8l.5 3.9l.5-4.9l.5 2.9l.5-2.2l.5 3l.5-1.2l.5 3.4l.5-2.9l.5 1.5l.5-3.6l.5 4l.5-2l.5 1.8l.5-3l.5 2l.5-3.9l.5 3.1l.5-2.1l.5 3.5l.5-3.4l.5 2.5l.5-1.9l.5 3.3l.5-3.3l.5 3.6l.5-4.3l.5 3.5l.5-3.5l.5 2.4l.5-4.5l.5 3.2l.5-2.4l.5 4.3l.5-2.3l.5 2.5l.5-3.2l.5 2.3l.5-2.3l.5 3.4l.5-3l.5 2.1l.5-4.6l.5 3.4l.5-3l.5 .9l.5-.9l.5 2.2l.5-3.6l.5 2.5l.5-2.5l.5 2.5l.5-3.2l.5 5.1l.5-4.4l.5 3.1l.5-2.7l.5 3.1l.5-2.8l.5 1.5l.5-1.9l.5 3l.5-3.7l.5 2l.5-3.1l.5 2.7l.5-3.1l.5 2.8l.5-2.5l.5 2.6l.5-3.7l.5 1.5l.5-1.2l.5 4.2l.5-2l.5 2.8l.5-3.5l.3 .4l.2 0l.5 1.6l.5-1.4l.5 1.4l.5-3.8l.5 1.8l.5-1.5l.5 2.6l.5-2.1l.5 2.4l.5-3l.5 2.6l.5-3l.5 3.2l.5-2.1l.5 3.8l.5-3.2l.5 2.8l.5-3.5l.5 3.5l.5-4.7l.5 4.6l.5-2.4l.5 2.4l.5-2.6l.5 4.3l.5-3.4l.5 1.6l.5-3.8l.5 2l.5-3.8l.5 3l.5-2.1l.5 3.6l.5-2l.5 3.3l.5-1.5l.5 3.2l.5-3.2l.5 1.7l.5-3.8l.5 3.3l.5-2.7l.5 2.1l.5-1.6l.5 3l.5-3.1l.5 5.6l.5-3.4l.5 4.7l.5-2.7l.5 3.1l.5-2.2l.5 2.9l.5-2.8l.5 3.6l.5-2.4l.5 1.6l.5-2l.5 1.4l.5 .4l.5 2.6l.5-3.7l.5 3l.5-2.8l.5 2.7l.5-2.7l.5 1.4l.5-3.8l.5 3.6l.5-1.9l.5 .9l.5-1.2l.5 1.8l.5-2.2l.5 3.4l.5-2.9l.5 4.2l.5-3.5l.5 2.9l.5-2.4l.5 2.9l.5-3.5l.5 3.3l.5-3l.5 3.8l.5-3.9l.5 2.9l.5-2.3l.5 2.9l.5-3.5l.6 1.7l.4-2.4l.5 3.6l.5-3.3l.5 3.3l.5-3.3l.5 2l.5-3.5l.5 3.1l.5-1.9l.5 3.2l.5-2.6l.5 1.7l.5-2.3l.5 3l.5-3.5l.5 3.8l.5-2.1l.5 1.7l.5-1.7l.5 1.9l.5-3.5l.5 2.4l.5-.5l.5 .5l.5-1.7l.5 2.9l.5-4.7l.5 2.7l.5-1.9l.5 2.4l.5-3.5l.5 4.3l.5-4.1l.5 2.1l.5-2.3l.5 3.4l.5-3l.5 3.5l.5-3.2l.5 1.5l.5-1.5l.5 1.3l.5-3l.5 4l.5-4.6l.5 3.6l.5-1.7l.5 2l.5-1.2l.5 4.1l.5-4l.5 2.4l.5-2.2l.5 1.1l.5-3.1l.5 2.8l.5-2.7l.5 2.7l.5-3.4l.5 2.2l.5-1.3l.5 2.4l.5-3.7l.5 2.8l.2-1.1l.3 1l.5-3.4l.5 1l.5-5.4l.5-1.5l.5-5.9l.5-1.1l.5-5.9l.5-.3l.5-3.4l.5-.7l.4-.4l.6 .9l.5-.5l.5 4.2l.5-.1l.5 4.6l.5-2.6l.5 3.8l.5-2.8l.5 6.1l.5-.3l.5 2.7l.5 0l.5 4.4l.5-1.5l.5 4l.4-1.5l.6 2.2l.5-2.5l.5 2.9l.5-2.4l.5 4.7l.5-3.3l.5 3.6l.5-.9l.5 2.5l.5-3.2l.5 2.2l.5-2.2l.5 3.2l.5-1.5l.5 2.5l.5-1.1l.5 1.8l.5-2.9l.5 3.4l.5-3.8l.5 4.1l.5-3.3l.5 2.9l.5-3l.5 1.5l.5-2l.5 2.5l.2-.5l.3 .1l.5-1.4l.5 2.8l.5-3.1l.5 2.9l.5-3l.5 3.6l.5-1.9l.5 1.2l.5-2.1l.5 2.9l.5-3.6l.5 3.6l.5-3.4l.5 2.5l.5-2.6l.5 1.1l.5-1.9l.5 2.9l.5-2.7l.5 2.4l.5-1l.5 1.1l.5-2.1l.5 2l.5-3l.5 2.6l.5-3.4l.5 3l.5-2.3l.5 2.6l.5-1.3l.5 1.2l.5-2.3l.5 4l.5-2.8l.5 1.3l.5-1.4l.5 2.1l.5-3.3l.5 2.2l.5-2.8l.5 1.4l.5-1.4l.5 2.8l.6-1.1l.4 1l.5-2.5l.5 1.6l.5-5.7l.5 2.7l.5-4.9l.5 2.4l.5-3.5l.5 .9l.5-4.3l.5 2.1l.5-3.8l.5 1.1l.5-2.2l.4 .4l.6 0l.5 1.7l.5-1.3l.5 2.8l.5-1.5l.5 5.9l.5 .9l.5 3.9l.5-.1l.5 4.1l.5-1.4l.5 4.6l.5-1.8l.5 1.8l.5-2.6l.5 .1l.5-2.9l.5 3.7l.5-2.6l.5 1.4l.5-1.2l.5 2.7l.5-3.7l.5 3.5l.5-3.2l.5 3.6l.5-2.8l.5 2.3l.5-1.3l.5 2.1l.5-3.4l.5 2l.5-3.6l.5 3.1l.5-3.2l.5 3.5l.5-2.9l.5 2.9l.5-1.3l.5 2.5l.5-4.1l.5 3.8l.5-2.8l.5 2.5l.5-3.7l.5 2.6l.5-2.7l.5 1.9l.5-1.8l.5 2.5l.5-2.5l.3 1.8l.2-1.6l.5 1.5l.5-2.7l.5 1.3l.5-4.4l.5 .1l.5-5.1l.5 1.4l.5-4.3l.5 .3l.5-2.3l.5 .2l.5-.5l.5 .5l.5-1.7l.5 2.8l.5-2l.5 4.3l.5-1.2l.5 2l.5-.2l.5 3.5l.5-.7l.5 3.5l.5-1.6l.5 3.2l.5-1.7l.5 3.9l.5-4.4l.5 2.9l.2-.4l.3-.4l.5-1.2l.5 1.9l.5-2.3l.5 .9l.5-3.3l.5 1.8l.5-3l.5 .9l.5-2.8l.5 2.4l.5-3.7l.5 1.4l.5-2.1l.5 1.8l.5-1.3l.2 .1l.3-.2l.5 1.2l.5-.7l.5 3.2l.5-2.4l.5 3.6l.5-.1l.5 3.9l.5-1.4l.5 3.4l.5-.5l.4 1.2l.6-.4l.5 3.6l.5-3.1l.5 1.7l.5-3.3l.5 3.2l.5-4.9l.5 5.2l.5-4.5l.5 5.3l.5-3.5l.5 2.2l.5-3.8l.5 2.8l.5-2.8l.5 2.5l.5-1.3l.5 2.5l.5-2l.5 2.3l.5-3.1l.5 2.5l.5-4l.5 2.3l.5-3.3l.5 2.6l.5-2.7l.2 2.8l.3-1.8l.5 3l.5-2.6l.5 .4l.5-.8l.5 1.8l.5-2.3l.5 2.5l.5-2.9l.5 4.4l.5-3.8l.5 2.3l.5-2.8l.5 3.9l.5-2.2l.5-.2l.5-1.6l.5 .4l.3 0l.2-.3l.5-1.8l.5-.1l.5-2.7l.5-.7l.5-4.2l.5-.4l.5-5.4l.5 2.9l.5-6.9l.5-.4l.5-3.9l.5 .8l.5-2.1l.2 .5l.3-.8l.5 1.8l.5-.8l.5 5l.5 .3l.5 4.9l.5 .8l.5 5l.5-.8l.5 6.4l.5-.6l.5 5.3l.5-1.9l.6 2.4l.4-2.6l.5 4l.5-2.1l.5 1.8l.5-3l.5 4.6l.5-2l.5 2.8l.5-1.4l.5 3.1l.5-3.8l.5 2.8l.5-1l.5 3.6l.5-4.1l.5 1.5l.5-1.4l.5 2.4l.5-2.5l.5 2.8l.5-2.2l.5 4.2l.5-2.9l.5 2.1l.5-1.3l.5 1.2l.5-2.2l.5 1.9l.5-2l.5 3.4l.5-3l.6-.1l.4-.4l.5 3.4l.5-5.7l.5 1.9l.5-1.9l.5 3.3l.5-5.1l.5 2.6l.5-5.4l.5 3.4l.5-4.2l.5 1.8l.5-3.9l.5 2l.5-2.5l.5 1.6l.5-1.5l.3 .3l.2-.3l.5 .7l.5-1.3l.5 3.1l.5-2.4l.5 4.3l.5-2.3l.5 2.9l.5-1l.5 1.9l.5-2.1l.5 4l.5-2.1l.5 3.9l.6-3.6l.4 1.9l.5-3.3l.5 2.5l.5-3.1l.5 1.4l.5-2.4l.5 2.1l.5-2.3l.5 3.1l.5-4.8l.5 1.5l.5-2.9l.5-.3l.5-1.9l.5 .9l.5-2.4l.5 2.9l.5-2.1l.5 2.2l.5-2.4l.5 0l.5-.9l.6 0l.4-.3l.5 .8l.5-2.2l.5 3.4l.5-2.8l.5 4.9l.5-1.6l.5 4.4l.5-2.3l.5 4.5l.5-1.2l.5 1.6l.5-1.5l.5 3.5l.5-3l.5 4.4l.5-2.5l.5 2.6l.5-1.5l.5 1.6l.5-2.2l.5 4.4l.5-2.4l.5 1.3l.5-1.8l.5 2.2l.5-2.5l.5 3.8l.5-5.2l.5 3.2l.5-2.5l.5 1.8l.5-1.8l.5 1.5l.5-1.7l.5 1.7l.5-3.9l.5 2.6l.5-2.1l.5 3.4l.5-3.3l.5 2.2l.5-3.3l.5 2.9l.5-5.7l.5 3.7l.5-2.4l.5 2.4l.5-2.4l.5 2.4l.5-2.6l.5 2.7l.5-1.9l.5 1.3l.5-2.8l.5 .9l.5-3.3l.5 2.2l.5-1.8l.5 2.3l.5-3.6l.5 2l.5-3l.5 2.8l.5-2.9l.5 1.5l.5-3.5l.5 2.9l.4-1.1l.6 1.9l.5-3.6l.5 3.6l.5-4.3l.5 1.6l.5-4.6l.5 3.9l.5-4.1l.5 3l.5-2.5l.5 1.6l.5-2.5l.5 1.3l.5-3.9l.5 2.8l.5-3.7l.5 3.5l.5-4.6l.5 2.2l.5-4.7l.5 1.7l.5-4.2l.4-.5l.6-7l.5-3.2l.5-10.6l.5-5l.5-13l.5-6.3l.3-7.5l.2-2.3l.5-13.1l.5-11.1l.5-17l.5-15.3l.5-18.2l.5-12.7l.5-17.4l.5-9.1l.5-12.1l.5-5.3l.6-3.6l.4 2.4l.5 6.5l.5 14l.5 14l.5 21.3l.5 14l.5 22.7l.5 13.4l.5 18.7l.6 10.2l.4 8.7l.5 3.4l.5 9l.5 3.6l.5 7.7l.6 1.9l.4 1.7l.5-1.3l.5 2.6l.5-2l.5 2.6l.5-4l.5 3.5l.5-2.2l.5 2.5l.2-1.1l.3 2.5l.5-2.8l.5 5.4l.5-.3l.5 7.8l.5 1.6l.5 7.6l.5-1.9l.5 6.7l.5-2.5l.4 2.3l.6-3.3l.5-.3l.5-10.4l.5-2.7l.5-7.5l.5-4.7l.5-6.1l.5-3.8l.5-7.3l.5-3.3l.5-7.1l.5-2l.6-2.5l.4 1.8l.5 2.6l.5 6.6l.5 4l.5 7.5l.5 3.5l.5 6.9l.5 3.8l.5 11l.5 4.9l.5 8.4l.5 1.8l.5 3.9l.5-.6l.5 4.7l.5-2.1l.5 3.2l.5-.9l.5 4.3l.5-1.5l.5 2.3l.5-1.5l.5 1.7l.5-1.3l.5 2.6l.5-2.2l.5 2.2l.5-2l.5 .7l.5-2.9l.6 3.6l.4-2.9l.5 3.6l.5-1.5l.5 2.4l.5-3.4l.5 1.8l.5-2.9l.5 2.7l.5-4.1l.5 2.2l.5-3.5l.5 1.7l.5-3.4l.5 2.1l.5-3.4l.5 1.3l.5-4.3l.5 3l.5-3.2l.5-1l.4 .2l.6-1.3l.5-4.9l.5 .9l.5-3.3l.5 1.9l.5-4.8l.5 1.6l.5-2.9l.5 1.1l.5-2.2l.5 .8l.2 0l.3-.2l.5-.7l.5 2.2l.5-.5l.5 5.3l.5-1.5l.5 4.1l.5-2.5l.5 5.4l.5 1.5l.5 4.4l.5-1.6l.5 4l.5-1.4l.5 4.7l.5-2.8l.2 .7l.3-1.1l.5 3.8l.5-3.3l.5 3.7l.5-2.6l.5 4.6l.5-4.2l.5 .3l.5-2.2l.5 1l.5-2.7l.5 2.6l.5-4.3l.5 4.6l.5-1.5l.5 2.7l.5-1.6l.5 2.4l.5-3l.5 3.3l.5-4.9l.5 2.4l.6-1.2l.4 1l.5-2.3l.5 1.1l.5-1.6l.5 1.2l.5-3.3l.5 2.5l.5-4.6l.5 4.2l.5-6.5l.5 1.6l.5-2.7l.5 2.7l.5-4.1l.5 2l.5-3.8l.5 1.5l.5-2.1l.5 .7l.5-5l.5 2.2l.5-4.8l.5 .7l.5-4.7l.5 1.6l.5-3.6l.5 .6l.4-1.9l.6-.5l.5-4.1l.5 3.1l.5-4.4l.5 2l.5-4.1l.5 1.6l.5-4.3l.5 1l.5-3.9l.5 1.1l.5-4.4l.5 1.1l.5-4.6l.5 1.6l.4-4.1l.6-3.1l.5-11.6l.5-7.9l.5-14l.5-10.2l.5-16.1l.3-5.9l.2-8.6l.5-17.6l.5-26.6l.5-23.3l.5-20.9l.6-9.8l.4 3l.5 12.3l.5 13.7l.5 22l.5 14.5l.6 18.4l.4 7.7l.5 17l.5 11.1l.5 13.1l.5 7.6l.5 12.3l.5 3.9l.5 2.9l.5-3.9l.5-1.9l.5-12.2l.5-8.8l.5-15l.5-10.4l.5-14.4l.6-9l.4-10l.5-3.7l.5-9.7l.5-6l.5-9.8l.5-4.3l.5-6.8l.5-3.4l.5-2.9l.2-.3l.3 .8l.5 4.1l.5 5.3l.5 9.8l.5 8.4l.5 13.1l.5 9.5l.5 13.5l.5 9.6l.2 5.7l.3 5.9l.5 18.9l.5 14.2l.5 22.4l.5 10.7l.5 8.1l.5 .7l.5 5.5l.5-1.8l.3 2.5l.2-1.1l.5 1.3l.5-2.3l.5 4.6l.5-2.9l.5 3.6l.5-2.3l.5 3.1l.5-3.3l.5 2l.5-2.2l.5 2l.5-2.6l.5 4.3l.5-4.2l.5 2l.5-4.3l.5 3.5l.5-.1l.5-.7l.5-4.1l.5-.2l.5-6.7l.5-.7l.5-6.8l.5-1.7l.5-3.8l.6-.6l.4-.2l.5 1.8l.5 .8l.5 4.9l.5-.6l.5 7.9l.5 1.7l.5 6.8l.5 .4l.5 5.4l.5-.7l.5 4.2l.5-4.1l.4 5l.6-3.9l.5 2.1l.5-1.9l.5 1.3l.5-4.2l.5 2.5l.5-4.3l.5 2.5l.5-5.6l.5 1.4l.5-6.8l.5 2.3l.5-3.1l.3-.6l.2-1.2l.5 .7l.5-5.5l.5 2.5l.5-4.7l.5 .1l.5-5.4l.5 .4l.5-4.5l.5-.1l.5-6.1l.5-.2l.5-4.2l.5 1.8l.5-6.2l.5 1.8l.5-3.2l.5 1.5l.5-2.4l.5 .5l.6-.8l.4 1l.5 .3l.5 3.3l.5-.5l.5 5.9l.5-1.3l.5 5.7l.5 .1l.5 6.8l.5 1.6l.5 5.9l.5-1.2l.5 5.8l.5 .4l.5 4.1l.5-2.9l.5 4.8l.5-1.2l.3 0l.2-1.2l.5 .9l.5-5.1l.5-2.8l.5-10.1l.5-4.1l.5-11.4l.5-5.8l.5-12.3l.4-6.5l.6-17.3l.5-13.1l.5-24.4l.5-16.4l.5-24.8l.5-15.7l.5-15.6l.5-8.1l.4-2.8l.6 4.9l.5 9.2l.5 16.6l.5 15.5l.5 21.5l.5 19.2l.5 22.9l.5 12.7l.5 15.7l.5 11.7l.5 16.3l.5 11.7l.5 15.8l.5 6.6l.5 11.3l.5 2.2l.5 2.6l.5-1.1l.5 4.8l.5-2.3l.5 3.1l.5-2.9l.5 3.5l.5-2.7l.5 4.6l.5-2.1l.5 3.1l.5-2.7l.5 3.6l.5-2.5l.5 2l.5-2.5l.5 2.9l.6 .1l.4 1.9l.5-3.2l.5 4.6l.5-3.9l.5 4.8l.5-3.4l.5 5.2l.5-2.4l.5 5.2l.5-2.9l.5 4.6l.5-1l.5 3.7l.5-1.9l.5 3.4l.5-3.5l.5 2.9l.5-4.1l.3 2.6l.2-2.2l.5 1.2l.5-1l.5 1.4l.5-.8l.5 2.5l.5-1.8l.5 2.4l.5-1.1l.5 1.6l.5-4.7l.5 3.2l.5-2.2l.5 2.5l.5-3.3l.5 4.5l.5-2.9l.5 3.4l.5-3.7l.5 3.5l.5-4.8l.5 3.1l.5-.5l.5 .7l.5-1.2l.5 1.6l.5-3.3l.5 4.3l.5-5l.5 4.3l.5-2.8l.5 3.1l.5-3.6l.5 1.9l.5-2.5l.5 3.4l.5-2.3l.5 3.5l.5-1.9l.5 1.8l.5-2.3l.5 2.2l.5-2.2l.5 3.1l.5-5.3l.5 5.1l.5-5.2l.5 2.9l.5-2.7l.5 1.1l.5-.9l.5 1.7l.2-.4l.3 1l.5-3.3l.5 2.3l.5-2.2l.5 2.1l.5-3.7l.5 1.9l.5-4.9l.5 2.2l.5-2.8l.5 1.3l.5-3.3l.5 2.2l.5-3.6l.5 2.5l.5-1.9l.5 1l.4-.1l.6 .7l.5-.4l.5 1.4l.5-.5l.5 5.6l.5-1.8l.5 4.5l.5-1.4l.5 2.8l.5-1.4l.5 3.5l.5-.9l.5 1.3l.5-2.7l.5 2.8l.5-3.6l.5 2.4l.5-1.3l.5 3.1l.5-2.1l.5 1.9l.5-1.8l.5 1l.5-3.3l.5 1.9l.5-1.6l.5 2.9l.5-3.5l.5 2.6l.5-2.4l.5 2.6l.5-2.6l.5 3.5l.5-4.1l.5 1.7l.5-3l.6 2.4l.4-4.4l.5 2.5l.5-2.3l.5 .9l.5-4.6l.5-.6l.5-8.7l.5 .6l.5-7.4l.5-1.8l.5-4.4l.5-1l.5-3.2l.5-.9l.5-.7l.5 1l.5 0l.5 4.5l.5 0l.5 6.6l.5 1.9l.5 5.8l.5 .8l.5 5.7l.5 1.8l.5 5.9l.5-.7l.4 0l.6-.1l.5 3.3l.5-3.6l.5 1.4l.5-2.8l.5 3.4l.5-1.6l.5 2.8l.5-3.2l.5 1.2l.5-.2l.5 1.9l.5-2l.5 3.1l.5-3.2l.5 2.3l.5-2.7l.5 2.9l.5-2l.5 2.5l.5-2.9l.5 3.2l.5-2.9l.5 2.1l.5-2.5l.5 1.1l.5-2.6l.5 3.1l.5-4l.5 3.4l.5-4.2l.5 4.8l.5-4.7l.5 4.2l.5-2.8l.5 3.8l.2-1.4l.3 1.2l.5-3.6l.5 2.7l.5-3.1l.5 4.7l.5-1.9l.5 1l.5-.1l.5 2.7l.5-1.7l.5 4.2l.5-3.4l.5 4.6l.5-1.7l.5 2.1l.5-4.3l.5 5.6l.5-4.1l.4 .9l.6-1.6l.5 3.2l.5-3.4l.5 2.4l.5-3.3l.5 5l.5-3.9l.5 1.9l.5-2.6l.5 1.4l.5-1.1l.5 2.4l.5-1.8l.5 2.3l.5-2.9l.5 1.2l.5-2.3l.5 1.3l.5-2.4l.5 2.6l.5-3.4l.5 3.5l.5-2l.5 2.4l.5-3.9l.5 4.1l.6-2.6l.4 .9l.5-3.2l.5 2.5l.5-1.3l.5 2.6l.5-1.9l.5 2.8l.5-4l.5 4.2l.5-2.5l.5 1.8l.5-2.5l.5 3.1l.5-2.8l.5 1.8l.5-2.7l.5 4.1l.5-2.1l.5 2.6l.5-1.8l.5 2.9l.5-4.2l.5 1.7l.5-1.9l.5 2.7l.5-1.7l.5 3.7l.5-5l.5 2.3l.5-1.8l.5 1.9l.5-1.5l.5 1.7l.5-2.7l.5 2.3l.5-1.3l.5 3.4l.5-2.1l.5 3l.5-4.1l.5 3.3l.2-1.9l.3 1.3l.5-4.3l.5 0l.5-6.9l.5-2.1l.5-6.9l.5-3.3l.5-8.9l.5-1.2l.3-3.2l.2-.7l.5-5.6l.5-.2l.5-5.5l.5-2.2l.5-5.3l.5-1.3l.5-4.1l.5-.9l.5-1.6l.3 .2l.2-.3l.5 2l.5 0l.5 5.6l.5-1.5l.5 6.6l.5 1.5l.5 5.3l.5 1.4l.5 6l.6 .6l.4 4.2l.5 .9l.5 5.9l.5 2.1l.5 7.1l.5 1.4l.6 1.3l.4 0l.5 2.3l.5-3.3l.5 4l.5-3.7l.5 2.5l.5-2.1l.5 3.4l.5-3.1l.5 1.2l.5-1l.5 1.3l.5-1.5l.4 0l.6 .1l.5 2l.5-4.3l.5 3.8l.5-5.5l.5 3l.5-4.5l.5 .4l.5-3.7l.5 2.4l.5-4l.5 2.4l.5-3.4l.5 1.5l.5-1.4l.4 .1l.6 .2l.5 1.9l.5-1.1l.5 3l.5-.6l.5 2.3l.5-2.1l.5 3.5l.5-1.7l.5 3.6l.5-1.8l.5 3.6l.5-1.1l.5 4.3l.5-.7l.5-1l.5 .2l.5 3.8l.5-1.5l.5 2.6l.5-2.5l.5 4.9l.5-2.7l.5 2.7l.5-3.1l.5 2.6l.5-.5l.5 3.8l.5 .1l.5 2.2l.5-1.4l.5 3.4l.5-4.2l.6 2.2l.4-.1l.5 2.5l.5-3.4l.5 3l.5-1.7l.5 3.2l.5-5.5l.5 3.7l.5-3l.5 1.6l.5-.9l.5 3.1l.5-1.8l.5 2.2l.5-3.5l.5 2.7l.5-3.9l.5 4.6l.5-5.3l.5 2.8l.5-3l.5 3.1l.5-2.8l.5 2.9l.5-2.4l.5 2.1l.5-2.5l.5 2.9l.5-2.6l.5 2.1l.5-1.9l.5 3.7l.5-3.5l.5 2l.5-.5l.5 2.7l.5-4.3l.5 4.6l.5-3.7l.5 2.7l.5-3.4l.5 2.2l.5-3.3l.5 2.5l.5-1.8l.5 1.8l.5-1l.5 1.5l.5-2.1l.5 3.3l.5-4.3l.5 2.4l.5-2.4l.5 2.6l.5-3l.5 4.3l.5-3.5l.5 2.9l.5-2.4l.4 1.8l.6-.6l.5 .7l.5-3.6l.5 .6l.5-5l.5 1.7l.5-4.7l.5 2.6l.5-5.7l.5 1.5l.5-5.1l.5-.5l.5-3.7l.3 1.2l.2-1l.5 2.1l.5-4.9l.5 1.9l.5-3.3l.5 1.6l.5-2.7l.5 1.5l.5-2.2l.5 .6l.5-3l.5 3.2l.5-2.5l.5 1.3l.5-2.6l.5 3.1l.5-4.9l.5 3.2l.4-2.9l.6 .5l.5-7.9l.5-4.5l.5-10.8l.5-5.1l.5-11.6l.4-4.1l.6-11.8l.5-10.5l.5-15.9l.5-9.8l.5-11.3l.5-5.5l.3-1.4l.2 .7l.5 2.5l.5 7.4l.5 7.1l.5 12.7l.5 8.1l.5 13.4l.5 6.1l.4 8.2l.6 5.6l.5 9.6l.5 4.1l.5 9.7l.5 2.8l.5 7.2l.5-.7l.3 2.9l.2-2.4l.5 .9l.5-4.2l.5 .1l.5-2.7l.5-.9l.5-1.6l.2 0l.3-.2l.5 1.1l.5-2.5l.5 2.4l.5-2.7l.5 4.1l.5-3.9l.5 5.5l.5-2.3l.5 3.1l.3-.6l.2 .7l.5-.2l.5 5.3l.5 .7l.5 7.5l.5 .4l.5 6.7l.5 .1l.4 3.9l.6-2.7l.5 5.4l.5-3.2l.5 4.2l.5-1.4l.5 1.9l.5-1.4l.5 3l.5-3.2l.5 5.6l.5-4.6l.5 3.6l.5-1.4l.3 1.1l.2-.6l.5 3.5l.5-2.9l.5 1l.5-3.1l.5 2.9l.5-1.4l.5 3.6l.5-6l.5 3.2l.5-.7l.5 1.1l.5-2.1l.5 3.3l.5-2.4l.5 1.5l.5-3.1l.5 2.6l.5-1.9l.5 2.7l.5-3.3l.5 4.5l.5-4.6l.2 4l.3-2.3l.5 2.6l.5-.5l.5 3l.5-2.2l.5 1.7l.5-1.6l.5 2l.5-1.3l.5 3.5l.5-2.2l.5 3.4l.5-1.5l.5 2.2l.5-2.8l.5 4.6l.5-3.5l.5 4.1l.5-2.4l.5 3.4l.5-3l.5 1.4l.5-2.8l.2 2.7l.3-1.7l.5 3.8l.5-3.6l.5 3.6l.5-4.6l.5 1.8l.5-4.3l.5 .9l.5-2.3l.5 2.1l.5-4.5l.5 1.9l.5-2.4l.5 1.5l.5-3.6l.5 2.9l.5-5.2l.5 3.5l.3-2.4l.2 1.8l.5-5.6l.5 4.5l.5-5.2l.5 3.3l.5-2l.5 1.9l.5-4l.5 3.4l.5-4.8l.5 3.7l.5-3l.5 1.9l.5-4.2l.5 2.8l.5-2.7l.5 3.8l.5-3.6l.5 2.1l.5-3.6l.5 1l.6-.8l.4 .3l.5-.9l.5 2.2l.5-3.7l.5 5.9l.5-3l.5 3.6l.5-1.7l.5 5.3l.5-2.4l.5 5.7l.5-2.1l.5 4.6l.5-.5l.5 4.5l.5-1.2l.5 3.6l.5-2.7l.5 2.1l.5-2.3l.5 .9l.5-2.1l.5 2.1l.5-3.6l.5 4.2l.5-3.7l.5 4.3l.5-2.9l.5 3.1l.5-4.3l.5 2.1l.5-2l.5 1.1l.5-2.6l.5 3l.5-4.3l.5 3.4l.5-3.5l.5 2.1l.5-2.7l.5 2.6l.5-2.3l.4 1.2l.6-.4l.5-.2l.5-2.3l.5 2.1l.5-3.7l.5 2.8l.5-2.5l.5 2.4l.5-3.2l.5 2.6l.5-3l.5 1l.5-2.9l.5 1.5l.5-2.2l.5 2.1l.5-2.2l.5 3.3l.5-4.4l.5 1.7l.5-3.5l.5 1.8l.5-1l.5 1.1l.5-.4l.5 .3l.5-.7l.5 2l.5-4l.5 3.3l.5-1.1l.5 3.4l.5 .1l.5 4.1l.5-1.9l.5 3.4l.5-2.3l.5 2.7l.5-2.1l.5 3.3l.5-.5l.5 1.5l.5-3.1l.5 2.5l.5-2.6l.5 3.7l.5-5.1l.5 2.8l.5-2.7l.5 3.9l.5-3.2l.5 2.1l.5-2.1l.5 3.8l.5-1.1l.5 .1l.5-1l.5 .1l.5-1.2l.5 1.9l.5-3.1l.5 4.7l.5-1.5l.5 3.3l.5-2.1l.5 3.7l.5-4.8l.5 1.4l.3-.8l.2 1.1l.5-3.8l.5 4.7l.5-2.4l.5 3.6l.5-1.7l.5 2.3l.5-3.3l.5 3.8l.5-2.2l.5 3.8l.5-3.3l.5 4.4l.5-2.3l.5 5.5l.5-3.3l.5 3.9l.5-2l.5 3.6l.5-2.5l.5 2.2l.5-1.1l.5 2l.5-1l.5 3.8l.4-4.3l.6 2.6l.5-1.8l.5 3l.5-3.1l.5 .8l.5-2.9l.5 3.2l.5-3.6l.5 3.3l.5-3.1l.5 2.3l.5-2.7l.5 3.2l.5-3.5l.5 2.3l.5-3.7l.5 3.6l.5-3.3l.5 2.3l.5-1.3l.5 1.9l.5-3.3l.5 1.9l.5-2.2l.5 4.2l.5-3.4l.5 2.7l.5-3l.5 3.7l.5-3.1l.5 1.4l.5-2.4l.5 1.7l.5-4.6l.5 2.5l.5-3.5l.5 2.6l.5-3.3l.5 5.1l.5-4.1l.5 3.5l.5-3.3l.6 1.7l.4-2.3l.5 3.3l.5-4.1l.5 .8l.5-4.4l.5 3.2l.5-6.9l.5 1l.5-5l.5 3.5l.5-6.3l.5-.5l.5-3l.5-.8l.5-5.5l.5 1.3l.5-3.5l.5 1.5l.5-1.8l.2 .5l.3 .1l.5 .9l.5-.4l.5 4.2l.5-.5l.5 5.6l.5-1.6l.5 6.7l.5-.5l.5 4l.5 1.1l.5 4.2l.5 .5l.5 2.9l.5-.8l.5 5.2l.5-2.3l.4 .8l.6-2.7l.5 2.2l.5-.6l.5 1.5l.5-1.2l.5 2.7l.5-4l.5 3.5l.5-2l.5 3.2l.5-4.4l.5 4.3l.5-5.3l.5 3.6l.5-1.6l.5 1.8l.5-1.5l.5 3.1l.5-3.3l.5 2.9l.5-3.3l.5 3.7l.5-2.2l.5 2.1l.5-1.7l.5 1.5l.5-2.2l.2 1.1l.3-2.4l.5 3.6l.5-2.8l.5 4.2l.5-3.5l.5 2.3l.5-3.6l.5 2.6l.5-2.8l.5 1.7l.5-3.1l.5 1.2l.5-2l.5 1.4l.5-.8l.5 1.9l.5-2.5l.5 3.5l.5-2.8l.5 1.4l.5-3.1l.5 2.6l.6-3.9l.4-.1l.5-4.8l.5 .9l.5-6.5l.5 .5l.5-6.5l.5 1.4l.5-6.7l.5 .1l.2-3.5l.3 .3l.5-5.8l.5-.5l.5-4.5l.5 .6l.5-3.4l.5-.2l.4-1.1l.6 1.5l.5-.4l.5 4.7l.5-2.9l.5 5.4l.5 .2l.5 3.8l.5-2.1l.5 4.8l.5 .2l.4-.6l.6-.6l.5 3l.5-2.9l.5 1l.5-3.8l.5 2.8l.5-5.5l.5 3.7l.5-2.3l.5 .8l.5-1.2l.5 .8l.5-2.2l.5 1.6l.5-2.5l.5 .7l.6-.4l.4 0l.5-1.2l.5 1.6l.5-2.6l.5 3.2l.5-1.6l.5 2.8l.5-3.6l.5 2.6l.5-1.5l.5 3l.5-2.3l.5 3l.5-2.1l.5 2.9l.5-2.7l.6 3.2l.4-.8l.5 3.1l.5-1l.5 2.8l.5-1.9l.5 4.7l.5-2.4l.5 5.1l.5 .7l.5 2.8l.5 .8l.5 4.8l.5-1.6l.5 4.1l.5-.9l.5 3.5l.5-3.4l.5 6.2l.5-1.6l.5 4.8l.4-2.3l.6 2.8l.5-2l.5 1.9l.5-2.7l.5 1.8l.5-1.8l.5 2.1l.5-.8l.5 2l.5-2.8l.5 4l.5-2.7l.5 1.4l.5-1.2l.5 1.7l.5-3.1l.5 2.5l.5-3.2l.5 3.5l.5-2.2l.5 3.1l.5-3l.5 4l.5-2.9l.5 2.7l.5-2.4l.6 1.9l.4-1.5l.5 1.8l.5-2.1l.5 2.8l.5-1.7l.5 2.9l.5-2.9l.5 2.3l.5-3.5l.5 2.4l.5-3.8l.5 1.3l.5-2.8l.5 2.7l.5-5.2l.5 4.1l.5-5.5l.5 3.4l.5-2.9l.5 1.8l.5-1.8l.5 2l.5-2.7l.5 1.5l.5-1l.2 .3l.3-.2l.5 .9l.5-1.6l.5 2.5l.5-3l.5 4.1l.5-1.2l.5 2.9l.5-1.8l.5 2.6l.5-.8l.4 1.4l.6-1.4l.5 3.3l.5-2.4l.5 3.3l.5-4.2l.5 2.8l.5-4.6l.5 4.3l.5-4l.5 3.5l.5-2.5l.5 3.3l.5-3.3l.5 2.9l.5-3.3l.5 2.6l.5-3.2l.5 1.7l.5-2.2l.5 3l.5-3.7l.5 2.3l.5-2.2l.5 2.2l.5-1.9l.5 2l.5-1.8l.5 2l.5-3.1l.5 5.5l.5-5.3l.5 4l.5-4.2l.5 2.3l.5-2.8l.5 1.6l.5-2.5l.5 2.2l.5-3.8l.5 2.5l.4-.6l.6 3l.5-5.6l.5 3.2l.5-4.9l.5 4l.5-3.8l.5 3.9l.5-2.3l.5 3.4l.5-4.9l.5 3.1l.5-4.8l.5 3l.5-3.4l.5 2.3l.5-2.3l.5 1.3l.5-4.1l.5 3.1l.5-4.4l.5 3.5l.5-2.2l.5 2.3l.5-3.4l.5 2.9l.5-3.1l.6 1l.4-2.1l.5 3l.5-4.1l.5 2.4l.5-2.3l.5 3.1l.5-4.8l.5 4.4l.5-3l.5 1.9l.5-3.3l.5 1.4l.5-2l.5 .1l.5-2.2l.5 4.1l.5-2.8l.5 1.2l.5-3.5l.5 2.4l.5-2.6l.5 3l.5-.9l.5 .8l.5-.9l.2 .6l.3-.7l.5 1.5l.5-1.7l.5 3.3l.5-2.6l.5 3.9l.5-1.8l.5 2.1l.5 0l.5 4.6l.5-3.7l.5 4.1l.5-.8l.6 1.3l.4 .9l.5 2.3l.5-2.3l.5 4.4l.5-1.3l.5 2.8l.5-2l.5 4.7l.5-1l.5 4.5l.5-2.3l.5 4.4l.5-1.7l.5 1.3l.5-2l.6 2.2l.4-2.4l.5 1.9l.5-2.2l.5 3.6l.5-3.1l.5 4l.5-1.2l.5 .6l.5-2.6l.5 1.1l.5-2.5l.5 2.4l.5-3l.5 2.5l.5-2.6l.5 3.7l.5-4.7l.5 4.1l.5-3.1l.5 2l.5-4.2l.5 3.1l.5-3.9l.5 2.4l.5-3l.5 4.3l.5-3.1l.5 3.2l.5-1.8l.5 .8l.5-2.7l.5 1.8l.5-1.2l.5 1.4l.5-2.3l.5 .4l.5-4.3l.5 4.7l.5-3.7l.5 5.8l.5-2.5l.2 .6l.3-1.1l.5 3.9l.5-4.8l.5 4.5l.5-3.4l.5 2.7l.5-2.3l.5 3.3l.5-2.7l.5 4.6l.5-2.6l.5 3.6l.5-4l.5 3.8l.5-3.4l.5 5.4l.5-4.2l.5 5.4l.5-4.5l.5 2.7l.5-2.3l.5 3.1l.5-4.2l.2 2.2l.3-.9l.5 1.6l.5-1.5l.5 5.3l.5-4.8l.5 2.2l.5-3l.5 3.8l.5-3.9l.5 1l.5-1.4l.5 1l.5-3.1l.5 2.7l.5-2.4l.5 2l.5-2l.5 3.3l.5-6l.5 2.5l.5-1l.5-2.1l.5-5l.5 .1l.5-7.6l.5-2.8l.5-10.2l.5-5.5l.5-10.2l.6-5.9l.4-8.7l.5-8.7l.5-14.9l.5-10l.5-10l.6-4.8l.4 .4l.5 3.3l.5 1l.5 4.1l.5-.6l.4 2.4l.6-1.5l.5 4.1l.5-2.1l.5 1.3l.4 .4l.6 1.6l.5 1.2l.5 6.4l.6 2.6l.4 4.4l.5 3.4l.5 9.3l.5 3.4l.5 9.4l.5 4.9l.5 4.4l.5 2.4l.5 6.6l.5 0l.5 5.4l.5 1.2l.5 3.2l.6 4.3l.4 3.6l.5 1.3l.5 6.1l.5 2.2l.5 6.6l.5-1.1l.5 3.4l.5-.3l.5 1.1l.5 .2l.5 2.6l.5-3.2l.5 2.6l.5-2.1l.5 4.2l.5-2l.5 3.4l.5-2.7l.5 1.8l.5-3.4l.5 1.8l.5-2.8l.5 5.1l.5-1.8l.5 3.7l.5-2.6l.5-.2l.5-3l.5 4.1l.5-2.9l.5 2.9l.5-3.3l.5 3.8l.5-3.7l.5 2.9l.5-4l.5 2.8l.5-3.3l.5 3l.5-.8l.5 1.9l.5-3.1l.5 3.3l.5-3.4l.5 4.1l.5-3.5l.5 2.7l.5-2.6l.5 3.4l.5-3.7l.5 3.2l.5-3.6l.5 4.4l.5-3.1l.2 .3l.3-.8l.5 2.9l.5-5l.5 3l.5-3.2l.5 2.2l.5-1.7l.5 2.9l.5-3.8l.5 2.9l.5-4l.5 3.4l.5-2.1l.5 3.5l.5-4.1l.5 2.3l.5-1.9l.5 2.1l.5-2.5l.5 1.7l.5-1.9l.5 .8l.5-3.5l.5 4.4l.5-2.2l.5 3.6l.5-2.7l.5-.2l.5-2l.5 4l.5-2.8l.5 3.2l.5-2.7l.5 3.5l.5-3.4l.5 2.8l.5-3.3l.5 1.6l.5-2.3l.5 5l.5-4.2l.5 4l.5-2.4l.5 2.7l.5-5l.5 5.2l.5-3.3l.5 4l.5-2.7l.5 2.6l.5-2l.5 3.4l.5-2.8l.5 3.5l.5-4.1l.5 4.4l.5-3l.5 2.1l.5-3.3l.5 4.4l.5-2.8l.5 1.1l.5-1.3l.5 1.9l.3-.9l.2 1.6l.5-3.5l.5 4.5l.5-3.4l.5 3.1l.5-6l.5 3.9l.5-4.1l.5 2.1l.5-4.1l.5 2.7l.5-2.9l.5 2.5l.5-1.5l.5 4.8l.5-3.9l.5 1l.5-4l.5 2.5l.5-1.3l.5 .4l.5-2.1l.5 2.3l.5-2.9l.5 .6l.4-.7l.6 .4l.5-2l.5 3.2l.5-3.8l.5 3.3l.5-4.7l.5 3l.5-2.7l.5 3.8l.5-2.6l.5 1.1l.5-2.8l.5 5l.5-4.6l.5 3.9l.5-2.4l.5 .9l.5-1.8l.5 2.2l.5-3.1l.2 1.7l.3-2.3l.5 2.7l.5-3.1l.5 4.8l.5-3.2l.5 5.1l.5-2.9l.5 3.1l.5-.7l.5 1.4l.5-1.7l.5 4.6l.5-2.9l.5 3.1l.5-1.1l.5 1.1l.5-.6l.5 2.5l.4-1.8l.6 2.9l.5-3.2l.5 3l.5-4.2l.5 4.5l.5-4.3l.5 2.8l.5-4.3l.5 4l.5-2.6l.5 3.2l.5-1.8l.5 2.6l.5-2.3l.5 2.3l.5-4.3l.5 3l.5-3.1l.5 2.6l.5-4.5l.5 4.7l.5-2.9l.5 1.5l.5-2.3l.5 1.7l.5-1.9l.5 3.1l.5-4.9l.5 4l.5-3.6l.5 3.6l.5-2.2l.5 3.1l.5-2.9l.5 4.2l.5-2.4l.2 .9l.3-1.3l.5 3.2l.5-3.6l.5 2.6l.5-2.8l.5 2.1l.5-2.7l.5 3.6l.5-5.1l.5 3.5l.5-1.6l.5 4.3l.5-3.2l.5 4.8l.5-2.7l.5 3.3l.5-1.9l.5 2.1l.5-3.8l.5 2.9l.5-3l.5 3.1l.5-1.6l.5 3.4l.5-3.4l.5 4.5l.5-4.1l.5 3.7l.5-2.9l.5 2.8l.5-3l.5 2.1l.5-.6l.5 1.8l.5-3.5l.5 4.5l.5-5.5l.5 3.6l.5-2.3l.5 2.9l.5-1.4l.3 .9l.2-.6l.5 3.9l.5-2.6l.5 1l.5-2.4l.5 2.4l.5-5.8l.5 3.3l.5-2.8l.5 2.2l.5-4.4l.5 2.6l.5-2l.5 3.2l.2-1.4l.3 2.9l.5-4.2l.5 2.1l.5-2.7l.5 1.8l.5-4.2l.5 .1l.5-3.3l.5 1.2l.5-2.8l.5 .1l.5-3.7l.5 2.6l.6-.3l.4 1.6l.5-3.4l.5 4.1l.5-3.7l.5 2.4l.5-3.4l.5 3.1l.5-.3l.5 .9l.5-3.8l.5 4.8l.5-3.8l.5 2.7l.5-.8l.5 2l.5-2.7l.5 2.4l.5-3.3l.5 3.8l.5-2.8l.5 3.2l.5-2.8l.5 1l.5-3.2l.5 1.3l.5-4.9l.5 1l.5-6.5l.5-1.2l.5-8.4l.5 .2l.5-9.8l.5 1.8l.5-7.2l.2 .3l.3-2.3l.5 .1l.5-6.3l.5-1.4l.5-7.6l.5 .6l.5-6.2l.5 .7l.5-2.6l.5-.5l.5-1l.5 1l.5 .2l.5 4.6l.5-1.4l.5 6.7l.5 .6l.5 5.9l.5 .6l.5 7.5l.5 .8l.5 2.8l.5 2.5l.5 6.9l.5-.3l.5 6.6l.5 2.1l.5 5.3l.5 2.2l.5 6.3l.5-.4l.5 6.2l.5-2.4l.5 4.2l.4-.8l.6 1l.5-3l.5 5.5l.5-3.3l.5 3l.5-3l.5 2.5l.5-3.2l.5 3.1l.5-2.5l.5 4.3l.5-2l.5 2l.5-1.8l.5 1.4l.5-2l.5 2.5l.5-2l.5 1.4l.5-1.5l.5 3l.5-1.8l.5 2.7l.5-3.7l.5 3.2l.5-2.6l.5 .6l.2-.4l.3 0l.5-2.3l.5 1.9l.5-2.9l.5 1.8l.5-2.4l.5 3.2l.5-2.8l.5 1.8l.5-3.1l.5 .6l.5-2.6l.5 4.2l.5-3.3l.5 1l.5-1.6l.5 2.6l.5-2.2l.3 1.5l.2-3.8l.5 3.1l.5-1.2l.5 1.7l.5-3.2l.5 5l.5-2.8l.5 2.3l.5-1.5l.5 4.9l.5-5.1l.5 4.2l.5-2.7l.5 1.4l.5-2.4l.5 3.7l.5-3.3l.5 3.4l.5-1.8l.5 1.9l.5-3l.5 1.8l.5-1.4l.5 1.4l.5-1.2l.5 2.1l.5-2.1l.5 3.8l.5-2.3l.5 2.4l.5-2.1l.5 3.1l.5-2.4l.5 3.7l.5-5.3l.5 2.8l.5-2l.5 2.5l.5-2l.5 2l.5-2.8l.5 3.6l.5-3.5l.5 3.4l.5-2.6l.5 2.5l.5-2.3l.5 3.1l.5-3.8l.5 2.3l.5 .3l.5-1.2l.5-1.7l.5 1.8l.5-1.3l.5 3l.5-2.8l.5 3.9l.5-4.3l.5 2l.5-3.7l.5 3.7l.5-3.6l.5 1.3l.5-1.7l.5 3.7l.5-4.4l.5 1.9l.5-4.2l.5 2.1l.5-1.3l.5 1.8l.5-3.2l.5 3.2l.5-2.4l.5 1l.5-2.8l.5 2.5l.5-2.9l.5 3.1l.5-3.7l.5 4l.5-3.1l.5 1.2l.5-1l.2 .7l.3-.3l.5 1.3l.5-1.8l.5 1.5l.5-2.9l.5 4.3l.5-3.5l.5 2.7l.5-3.1l.5 4.8l.5-3.2l.5 3.1l.5-4.8l.5 3.9l.5-2.4l.5 3.7l.5-2.6l.5 4.8l.5-1.5l.5 1.6l.5-1.2l.5 1.4l.5-4.3l.5 3.2l.5-1.8l.5 2l.5-2.8l.5 3l.5-2.4l.6 1.1l.4-2l.5 1.6l.5-.6l.5 3.1l.5-3.4l.5 2.7l.5-2.3l.5 2.5l.5-3.1l.5 2l.5-2.6l.5 3.3l.5-2.3l.5 1.3l.5-2.2l.5 3.7l.5-1.3l.5 .8l.5-1.4l.5 .9l.5-3.2l.5 4l.5-1.3l.5 2.1l.5-3.2l.5 3.8l.5-2.6l.5 2.1l.5-3.6l.5 1.1l.5-.8l.5 2.9l.5-3.2l.5 2.4l.5-3.2l.5 2.8l.5-1.5l.5 1.5l.5-2.6l.5 2l.5-1.9l.5 2.2l.5-.5l.5 2.1l.5-4.4l.5 2.9l.5-3.7l.5 3.5l.5-3.5l.5 1.3l.5-2.1l.5 3.4l.5-2l.5 2.6l.6-1.3l.4 .1l.5-3.6l.5 1.5l.5-8.2l.5 0l.5-9l.5-1.3l.5-6.9l.6-1.2l.4-3.3l.5 1l.5-5.6l.5-.4l.5-6.1l.5-.9l.5-1.9l.3 .2l.7 0l.5 2.6l.5-1.7l.5 5l.5-1l.5 4.3l.5-.3l.5 4.8l.5-1l.5 4.6l.3-.3l.7 3.9l.5-2.2l.5 5.7l.5 .3l.5 8.4l.5-1.7l.5 5.9l.5-3.9l.5 6.1l.5-1.9l.5 2.3l.5-2.3l.5 4.2l.5-4.4l.5 3.4l.5-3.8l.5 4.3l.5-4.2l.5 2.6l.5-2.7l.5 2.4l.5-2.7l.5 2.4l.5-1.1l.5 2.2l.5-2.1l.5 2.5l.5-1.5l.5 .9l.5-1.6l.5 1.7l.5-4.7l.5 3.8l.5-3.8l.5 4l.5-3l.5 3.5l.5-2.6l.5 4.3l.5-1.9l.5 2.5l.5-3.4l.5 .6l.5-.9l.7 .2l.3-.6l.5 1l.5-1.7l.5 3.6l.5-1.7l.5 1.3l.5-2.4l.5 2.5l.5-1.8l.5 2.5l.5-3l.5 2.3l.5-1.1l.5 3.7l.5-2.7l.5 1.7l.5-3.2l.5 3.6l.5-2l.5 1.9l.5-2.5l.5 4.4l.5-1.9l.5 .3l.5-2.1l.5 4.6l.5-3.1l.5 3.9l.5-1.7l.5 1.4l.5-.1l.7-1.3l.3 .6l.5 3l.5-2.7l.5 1.9l.5-4.5l.5 4.1l.5-5.3l.5 1.8l.5-1l.5 2.9l.5-2.5l.5 4.8l.5-3.5l.5 3.5l.5-1.6l.5 2.7l.5-2.8l.5 2.2l.5-2.4l.5 4.1l.5-3.5l.5 2l.5-2.5l.5 2.4l.5-3.4l.5 3.2l.5-3.7l.5 3.8l.5-2l.5 2.6l.5-3.3l.5 4l.5-2.7l.5 2.8l.5-3.3l.5 3.6"/>
<path stroke="#0000ff" d="M180.0,871.3l.5-1.9l.5 2.2l.5-1.3l.5 2l.5-2.2l.5 2.6l.5-2.8l.5 1.3l.5-1.7l.5 1.4l.5 0l.5 .9l.5-.3l.5 1.7l.5-2l.5 2.3l.5-2.8l.5 2.8l.5-2.6l.5 2l.5-.4l.5 1.7l.5-1.2l.5 3l.5-3.3l.5 2.7l.5-2.2l.5 1.2l.5-1.6l.5 2.8l.5-1.6l.5 1.6l.5-.4l.5 1.2l.5-1.6l.5 1.7l.5-1.6l.5 1.6l.5-3l.5 2.7l.5-1.9l.5 2.4l.5-1.6l.5 2.4l.5-1.5l.5 2l.5-2.3l.5 3l.5-2.1l.5 1.1l.5-.7l.5 1.8l.5-1.9l.5 1.6l.5-1.7l.5 1.8l.5-2.1l.5 2l.5-1.1l.5 1.5l.5-.9l.5 1.2l.5-.9l.5 1.9l.5-1.9l.5 3l.5-2.1l.5 .8l.5-2.1l.5 2.4l.5-2l.3 1.1l.7 .1l.5 .9l.5-1.2l.5 1.8l.5-1.8l.5 1.8l.5-3.1l.5 2.3l.5-2.4l.5 2.7l.5-2.5l.5 2.1l.5-1.6l.5 1.8l.5-1.8l.5 2.2l.5-.8l.5 1l.5-1.6l.5 1.4l.5-1.3l.3 0l.7-1l.5 2.7l.5-2.3l.5 2.6l.5-1.6l.5 1.7l.5-.6l.5 1.7l.5-1.2l.5 1.5l.5-1.1l.5 2.7l.5-1.7l.5 1.7l.5-1.6l.5 2.9l.5-1.5l.5 .6l.5-.2l.5 1.4l.5-1.9l.5 1.1l.5-1.6l.5 2.1l.5-1.7l.5 1.6l.5-1.2l.5 2.3l.5-3.4l.5 2.9l.5-2.1l.5 2.7l.5-2.8l.5 3l.5-3.1l.5 2l.5-2.7l.5 1.6l.5-1.2l.5 2l.5-1.9l.5 .9l.5-2.6l.3 1l.7-1.6l.5 .7l.5-3.1l.5 2.3l.5-5.6l.5-.7l.5-3.3l.5-1.1l.4-4.1l.6-5.4l.5-10.6l.5-6.8l.5-13.3l.5-10l.5-10.6l.5-5.8l.6-3.4l.4 1.9l.5 5.1l.5 10.1l.5 9.8l.5 13.2l.5 8.1l.5 11.2l.6 6.5l.4 4.8l.5 2.3l.5 4.3l.5 0l.5 3.9l.5-1.5l.5 3l.3 .6l.7 .4l.5-.5l.5 2.1l.5 0l.5 1.4l.5-1.9l.5 2.2l.5-1.1l.5 1.9l.5-1.6l.5 3.1l.5-2.2l.5 2.7l.5-2.1l.5 2.6l.5-3l.5 .9l.4-.3l.6 1.4l.5-2.5l.5 2.2l.5-2.1l.5 1.9l.5-3.3l.5 2l.5-2l.5 2.8l.5-3.2l.5 2.4l.5-1.9l.5 2.8l.5-2.1l.5 2.5l.5-2.6l.5 1.5l.5-2.7l.5 2.7l.5-1.4l.5 1l.5-2.1l.5 1.5l.5-1.7l.5 2.4l.5-1.9l.5 1.4l.5-1.3l.5 2.9l.5-3l.5 1.8l.5-3l.4 1.7l.6-.9l.5 1.9l.5-2.4l.5 1.9l.5-1.6l.5 2.1l.5-.8l.5 1.4l.5-2.2l.5 2.9l.5-2.8l.5 2.7l.5-2.6l.5 2.1l.5-2.2l.5 .9l.5-1.3l.5 2.9l.5-1.3l.5 1.4l.5-1.9l.5 2.2l.5-2.2l.5 1.6l.5-2.6l.3 1.8l.7-.4l.5 1.1l.5-1.7l.5 .4l.5-1.3l.5 .6l.5-3.5l.5 .9l.5-2.6l.5 1.1l.5-3.8l.5 2.3l.5-3.7l.6 .5l.4-2.5l.5 .7l.5-3.2l.5 .7l.5-5.2l.5 1.6l.5-3.6l.5-.4l.5-1.7l.5 0l.5 .4l.5 1.7l.5 .8l.5 2.5l.5 .1l.5 4l.5 0l.5 4.1l.5 .4l.7 1.4l.3-.4l.5 1.7l.5-1.4l.5 2l.5-1.3l.5 1.8l.5-1.4l.5 2.2l.5-2.2l.5 2.9l.5-1.4l.5 3.3l.5-3l.5 3.5l.5-1.8l.5 2.5l.4-3.3l.6 1.8l.5-2.2l.5 2.1l.5-3l.5 1.4l.5-1.4l.5 .8l.5-2.9l.5 1.7l.5-3.2l.5 2.2l.5-3.3l.5 2l.5-2l.5 .6l.5-.9l.5 1.7l.6-2.7l.4-.1l.5-2.8l.5 3.2l.5-.8l.5 .7l.5-.3l.5 .8l.5-2.3l.5 2.3l.5-2.2l.5 1.7l.5-2.5l.5 .5l.5-2.9l.4 1l.6-1.4l.5-.7l.5-4.1l.5-1.3l.5-6.6l.5-1.7l.5-8l.5-1.1l.5-8.1l.5-6.2l.5-12.1l.5-10.7l.5-14.6l.5-9.1l.5-8.6l.5-2.4l.5 2.6l.5 8.8l.5 9.9l.5 13.6l.5 11.3l.5 12.6l.3 4.9l.7 13.6l.5 8.7l.5 10.2l.7 6l.3 3l.5-.9l.5 3.2l.5 .3l.5 3.4l.5-1.1l.5 1.8l.3-.6l.7-.1l.5-1.2l.5 2l.5-3.1l.5 2.6l.5-2.4l.5 1.4l.5-2.1l.5 .7l.5-.6l.3-.1l.7-.1l.5 1.6l.5-1.2l.5 3l.5-1.3l.5 3.2l.5-2l.5 3.3l.5-1.6l.5 2.2l.5-1.6l.7 1.1l.3-1.2l.5 2.5l.5-1.5l.5 2.1l.5-.7l.5 1.3l.5-1.7l.5 1.6l.5-1.6l.5 1.6l.5-1.6l.5 1.5l.5-1.2l.5 3.1l.5-3.2l.5 4.1l.5-3.6l.5 2.8l.5-3.5l.5 2.5l.5-2.5l.5 2.7l.5-2.1l.5 2.3l.5-1.6l.5 3.6l.5-3.1l.5 1.7l.5-2.3l.4 .8l.6-1.6l.5 1.4l.5-1.9l.5 2.3l.5-1.6l.5 2.1l.5-1.1l.5 2.2l.5-3.3l.5 2.8l.5-2.8l.5 3.5l.5-1.7l.5 2.4l.5-2.3l.5 1.9l.5-2.3l.5 1.1l.5-2l.5 1.9l.5-1.1l.5 1.4l.5-1.5l.5 1.8l.5-3.1l.5 2l.5-1.1l.5 1.3l.5-.7l.5 1.7l.5-1.2l.5 1.5l.5-1.8l.5 3l.5-3l.5 1.7l.5-1.4l.5 1.3l.5-.1l.5 1.7l.5-3.1l.5 2.8l.5-2.9l.5 2.7l.5-3l.5 2.3l.5-2.4l.5 3.4l.5-2.3l.5 2l.5-1.6l.5 2l.5-2.9l.5 1.3l.5-1.8l.5 1.6l.5-2.1l.5 2.7l.5-2.7l.5 2.8l.5-2.4l.5 2.4l.5-.9l.5 1.5l.5-2.3l.5 3.2l.5-1.6l.5 .8l.5-1.5l.5 1.2l.5-2.5l.5 3.5l.5-3.2l.5 2.4l.5-2.2l.5 .9l.5-.6l.5 .8l.5-1.3l.5 2.7l.5-2.4l.5 1.7l.5-3.5l.5 4l.5-3.5l.5 3l.5-1.8l.5 .8l.5-1.7l.5 2.2l.5-2l.5 3l.5-2.9l.5 1.7l.5-1.2l.5 1.2l.5-2.3l.5 2.8l.5-2.9l.5 2.7l.5-1.2l.5 1.5l.5-1.2l.5 1.2l.5-.1l.5 2.1l.5-2l.5 1.1l.5-1.6l.4 0l.6-.8l.5 1.8l.5-1.3l.5 1.9l.5-2l.5 2.5l.5-2.7l.5 1l.5-1.3l.5 1.8l.5-2.6l.5 2.4l.5-2.7l.5 3.3l.5-2.6l.5 2l.5-2.8l.5 2l.5-2.8l.5 4l.5-2.1l.5 1.8l.5-2.9l.5 1.7l.5-.9l.5 1.7l.5-1.6l.5 2.5l.5-3.1l.5 2l.5-.8l.5 1.2l.5-1.8l.5 2.3l.5-2.5l.5 3.4l.5-3.1l.5 2.3l.5-2.4l.5 2.3l.5-2.4l.5 3.7l.5-2.9l.5 2.5l.5-3.1l.5 1.8l.5-1.5l.5 1.7l.5-2.9l.5 2.5l.5-2.4l.5 2.3l.5-2.1l.5 1.4l.5-1.9l.5 2.6l.5-1.7l.5 1.5l.5-2.3l.5 3.2l.5-2l.5 1.2l.5-1.4l.5 1.2l.5-1.4l.5 1.1l.5-1.9l.5 1.6l.5-1.2l.5 1.3l.5-1.6l.5 2.6l.5-3.8l.5 2.6l.5-1.3l.5 2.7l.5-1.6l.5 1.4l.5-.6l.5 .9l.5-1.4l.5 .9l.5-2.8l.5 1l.5-2.4l.5 3l.5-1.8l.5 3.5l.5-1.3l.5 2.5l.5-1.6l.5 1.6l.5-1.1l.5 .3l.5-2.3l.5 2.1l.5-3l.5 2l.5-1.9l.5 3l.5-1.8l.7-.3l.3-.7l.5 1.9l.5-1.4l.5-.4l.5-2.3l.5 1.3l.5-3.5l.5 .1l.5-3.9l.5 1.3l.5-2.8l.5-.2l.6-2.3l.4 .2l.5-5.1l.5-1.2l.5-5.1l.5-2.8l.5-3.7l.5-1.6l.5-2l.3 .1l.7 .5l.5 3.6l.5 1.7l.5 6.1l.5 2l.5 6l.5 1.1l.3 .2l.7 2.2l.5 3.7l.5 1l.5 3.4l.5 .1l.5 2.2l.5-.6l.5 1.4l.5-1.8l.5 1.6l.5-1.2l.5 3.2l.5-2.6l.5 1.5l.5-1.3l.5 1.2l.5-2.6l.5 2.8l.5-3l.5 2.6l.5-2.7l.5 2.2l.5 0l.5 1.7l.5-2.6l.5 1.6l.5-1.5l.5 1.3l.5-1.8l.5 1.9l.5-.7l.5 1.4l.5-1.4l.5 1.5l.5-2.2l.5 2l.5-2l.5 1.3l.5-1.5l.5 2.4l.5-2.8l.5 2l.5-2.2l.5 2.4l.5-1.5l.5 3l.5-1.8l.5 .8l.5-1.1l.5 1.5l.5-.3l.5 0l.5-1.9l.5 1.7l.5-.9l.5 1.8l.5-2.1l.5 2.4l.5-.9l.5 2l.5-1.8l.5 .9l.5-2.2l.5 2.4l.5-1.7l.5 1.5l.5-2.5l.5 2l.5-1.7l.5 1.7l.5-1.9l.5 2.3l.5-1.8l.5 1.5l.5-2.1l.5 2.6l.5-2.7l.5 1.4l.5-1.8l.5 2.8l.5-3.7l.5 3.4l.5-2l.5 2.3l.5-3l.5 2.3l.5-2l.5 2.3l.5-1.5l.5 1.4l.5-2l.5 2.1l.5-2.8l.5 2.2l.5-1.1l.5 1.3l.5-2.7l.5 2.3l.5-1.4l.5 1.9l.5-2.3l.5 2.4l.5-1.7l.5 1.2l.5-2l.5 1.5l.5-1.3l.5 .5l.5-1.6l.5 1.8l.5-2.2l.5 1.8l.5-3.3l.5 1.6l.5-3.5l.5 2l.5-1.8l.5 2.7l.5-1.5l.5-.2l.5 .2l.5 .3l.5-3.1l.5 2.7l.5-2.7l.5 .7l.5-1l.5 1.3l.5-3.6l.5 2.2l.5-2.9l.5 2.5l.5-1.8l.5 1.4l.5-3.7l.5 2l.5-2.9l.5 1.6l.2-2.4l.3 1.4l.5-3.3l.5 1.9l.5-3.8l.5-.5l.5-3.8l.5-.8l.5-5.3l.5-1.4l.2-.9l.3-3l.5-8.7l.5-6.4l.5-16.2l.5-16.3l.3-14l.2-16.5l.5-77.2l.4-56.3l.6-70.6l.5-41l.2-4.4l.3 10.1l.5 46.6l.5 59.3l.5 72.5l.6 77.5l.4 21.7l.5 27.1l.5 17.6l.5 13.3l.3 1.4l.2 2.4l.5-1.5l.5 3.3l.5-1.8l.5 2.6l.5-1.5l.5 2.8l.5-3.3l.5 2.6l.5-1.9l.4 1.8l.6-.1l.5 2.9l.5-1.8l.5 2.2l.5-.4l.5 2.7l.5-1.3l.5 2l.5-1.6l.5 2.6l.5-.4l.5 1.6l.5-.7l.5 2.5l.5-2.6l.6 .6l.4-1.8l.5 3.2l.5-3.2l.5 2.2l.5-2.8l.5 2.5l.5-2.9l.5 3l.5-2.2l.5 3.5l.5-1.3l.5 .7l.5-2.6l.5 2.5l.5-2.8l.5 .6l.5-2.2l.5 2.3l.5-2.2l.5 2.3l.2-1.5l.3 .1l.5-3.6l.5 .7l.5-2.2l.5 1.9l.5-5.6l.5 1.2l.5-3.2l.5-.2l.5-1.3l.2 0l.3-.3l.5 .9l.5-.3l.5 2.4l.5-.5l.5 3.6l.5-.3l.5 2.2l.5 .4l.5 1.6l.3-1.2l.2 2.1l.5-.8l.5 1.3l.5 .2l.5 3l.5-2.2l.5 2.5l.5-1.4l.5 4l.5-3.5l.5 2.1l.3-.3l.2 1.1l.5-3.9l.5 3.5l.5-.8l.5 1.2l.5-.9l.5 .4l.5-1.9l.5 2.3l.5-1.8l.5 2.2l.5-2.7l.5 2.1l.5-2.3l.5 2.1l.5-2.1l.5 1.9l.5-2.1l.5 1.7l.5-2.3l.5 3l.5-2.6l.5 2.7l.5-1.8l.5 2l.5-1.1l.5 .5l.5-.6l.5 1l.5-2.5l.5 2.5l.5-1.3l.5 1.5l.5-.6l.5 1.4l.5-1.8l.5 2.2l.5-1.9l.5 1.8l.5-2l.5 2.3l.5-2.1l.5 1.6l.5-2.8l.5 1.8l.5-.8l.5 1.6l.5-1l.5 1.5l.5-1.3l.5 2.6l.5-3.3l.5 2.6l.5-2.7l.5 1.8l.5-1.7l.5 1.7l.5-3.5l.5 3.7l.5-3.3l.5 1l.5-.9l.5 2.2l.5-2.4l.5 2.1l.5-2.1l.5 2.5l.5-1.7l.5 1.8l.5-2.4l.5 3l.5-2.2l.5 2l.5-1.6l.5 2.2l.5-2.5l.5 2.3l.5-2.6l.5 1.6l.5-2.1l.5 2.1l.5-1.8l.5 2.2l.5-2.2l.5 2.7l.5-3.1l.5 2.3l.5-1.2l.5 2.6l.5-2.2l.5 2.1l.5-2.3l.5 1.7l.5-2.9l.5 2.2l.5-.9l.5 1.6l.5-1.9l.5 1.4l.5-3.7l.5 1.7l.5-.8l.5 1.9l.5-2.7l.5 3.2l.5-1.8l.5 2.3l.5-2.7l.5 3l.5-2l.3 .9l.2-2.2l.5 2.6l.5-2l.5 2.5l.5-3.4l.5 2.2l.5-2.2l.5 2.9l.5-1.2l.5 1.4l.5-.9l.5 3l.5-3l.5 .2l.5-2.2l.5 2l.5-2.1l.5 3.3l.5-2.7l.5 1.5l.5-2.5l.5 2.4l.5-3.4l.5 2.4l.5-2l.5 2.3l.5-1.1l.5 1l.5-1.2l.5 2.1l.5-3l.5 2.4l.5-2l.5 1.6l.5-2.9l.5 2.7l.5-1.2l.5 1.2l.5-.8l.5 .8l.5-1.2l.5 .8l.5-.3l.5 1l.3-1.9l.2 1.5l.5-1.9l.5 1.2l.5-1.4l.5 2.6l.5-3.1l.5 1.9l.5-2.3l.5 1.6l.5-2.5l.5 2.2l.5-.4l.5 1.9l.5-1.9l.5 3.6l.5-2.3l.5 2l.5-2.8l.5 2l.5-1.2l.5 1.5l.5-2l.5 1.4l.5-1.4l.5 1.4l.5-1.6l.5 2.3l.5-1.7l.5 2.3l.5-2.3l.5 1.7l.5-1.6l.5 2.4l.5-2.1l.5 2.7l.5-2l.5 1.7l.5-2.6l.5 3.8l.5-2.2l.5 1.4l.5-3.4l.5 3.3l.5-1.9l.2 .9l.3 .7l.5 2.2l.5-1.8l.5 0l.5-1.9l.5 1.8l.5-3.8l.5 2.2l.5-2.2l.5 1.6l.5-1.6l.5 1.4l.5-2l.5 1.3l.5-1.8l.5 2.4l.5-2.9l.5 1.8l.5-2.2l.5 1.6l.5-1.3l.5 2.9l.5-2.9l.5 2.1l.5-2.2l.6 1l.4-1.4l.5 1.6l.5-1l.5 2.2l.5-2.6l.5 1.9l.5-.8l.5 1.5l.5-2.2l.5 2.8l.5-2.4l.5 .7l.5-1.5l.5 2.5l.5-2.6l.5 2.4l.5-1.9l.5 2.1l.5-.9l.5 .1l.5-1.5l.5 2.2l.5-1.7l.5 1l.5-2.1l.5 2l.5-1.1l.5 0l.5-.8l.5 2.3l.5-2.4l.5 2.4l.6-.8l.4 .5l.5-2.8l.5 2.4l.5-2.2l.5 .9l.5-1.6l.5 0l.5-2.3l.5 .6l.5-3.1l.5 .2l.5-1.6l.5-.2l.5-1.2l.5-.5l.5-4l.5-.1l.5-4.8l.5 0l.5-2.4l.5-.1l.6-.9l.4 .7l.5 .3l.5 2.4l.5 .3l.5 4.1l.5 .7l.5 3.9l.5-1.7l.6 3.3l.4-1.3l.5 3.6l.5-.5l.5 2.4l.5-1.6l.5 2.4l.5-1.2l.5 3.3l.5-1.4l.5 1.6l.6-.9l.4 1.7l.5-3l.5 2.7l.5-2.5l.5 1.1l.5-3.3l.5 2.5l.5-2.8l.5 2.6l.5-3.5l.5 1.5l.5-2l.5 .5l.5-2.8l.5-.3l.5-4.1l.5-.7l.5-3.4l.5-1.1l.3-.6l.2 .6l.5 .3l.5 2.6l.5 .8l.5 4.4l.5 .3l.5 3.6l.5 .3l.4 1.9l.6 .4l.5 3.7l.5-2.2l.5 3.6l.5-1.8l.5 3.1l.5-1.5l.5 2.7l.5-1.6l.5 3.3l.4-.9l.6 1.3l.5-2.3l.5 1.9l.5-2.2l.5 1.6l.5-2.6l.5 2.6l.5-.2l.5 .5l.5-1.8l.5 2.3l.5-1l.5 1.2l.5-1.3l.5 .5l.5-1l.5 1.5l.5-2.1l.5 1.5l.5-2.5l.5 1.7l.4-.2l.6 1.5l.5-2.5l.5 1.5l.5-1.6l.5 1.5l.5-1.1l.5 1.5l.5-1.9l.5 1.4l.5-2.5l.5 2.3l.5-3.3l.5 3.4l.5-2.9l.5 .2l.5-.7l.5 .8l.5-.9l.5 2.1l.5-.6l.5 .1l.5-.2l.5 .3l.5-1.2l.5 1.6l.5-2.1l.5 2.4l.5-1.3l.5 3.1l.5-2l.5 2.2l.5-1.9l.5 1.2l.5-2.3l.5 1.4l.5-2.1l.2 1.7l.3-1l.5 3.5l.5-3l.5 2.3l.5-2.7l.5 3.3l.5-4l.5 3.2l.5-2.5l.5 1.9l.5-1.5l.5 1.1l.5-.7l.5 .4l.2-.3l.3 .3l.5-.8l.5 1.1l.5-1.7l.5 1.9l.5-3.6l.5 3.9l.5-2.5l.5 3l.5-2.7l.5 3.4l.5-2.3l.5 1.8l.5-1.7l.5 3.5l.5-2.7l.5 2.6l.5-2.2l.5 2.2l.5-2.6l.5 .9l.5-.9l.5 .9l.5-.9l.5 2.8l.5-2.6l.5 2.7l.5-2.9l.5 1.7l.5-3.1l.5 2.2l.5-2.5l.5 2.3l.5-2.1l.5 1.4l.5-2.1l.5 2.4l.5-2.4l.5 2.4l.5-2.4l.5 2.3l.5-1.9l.5 2.5l.5-1.6l.5 1.7l.5-1.4l.5 1.7l.5-2.8l.5 2.2l.5-3.3l.5 2.2l.5-3l.2 1.8l.3-1.7l.5 1.9l.5-1.3l.5 0l.5-2.1l.5 1.7l.5-3.4l.5 .9l.5-4l.5 2.2l.5-2.9l.5 1.4l.5-1.8l.5 1.1l.5-.2l.5 .3l.5-.9l.5 1.2l.5-1.6l.5 3.4l.5-1.1l.5 4.1l.5-.6l.5 1.3l.5-.1l.5 1.7l.5-.3l.5 2.3l.5-2.1l.5 2.5l.5-1.6l.2 .6l.3-1.3l.5 2.4l.5-2.2l.5 2.2l.5-1.5l.5 3.4l.5-3.9l.5 2l.5-1.7l.5 1.1l.5-2.8l.5 3.2l.5-2.4l.5 1.2l.5-.6l.5 1.6l.5-1.2l.5 1.7l.5-1.6l.5 1l.3-1.5l.2 1.7l.5-2.6l.5 1.3l.5-1.8l.5 2.9l.5-2.7l.5 1.5l.5-1.8l.5 .7l.5-2.9l.5 1.6l.5-2.1l.5 .7l.5-.2l.3 .4l.2-.1l.5 .9l.5-.7l.5 1.7l.5-1.4l.5 1.8l.5-1l.5 1.9l.5-2.2l.5 3.7l.5-1.9l.6 1.5l.4-2.1l.5 2.2l.5-1.7l.5 1.2l.5-.5l.5 1.9l.5-1.4l.5 2.2l.5-1.8l.5 1.3l.5-1.8l.5 1.3l.5-.6l.5 .5l.5-2.6l.5 3.6l.5-2.2l.5 1.2l.5-2l.5 2.3l.5-2.4l.5 2l.5-2.3l.5 3.7l.5-2.2l.5 1.9l.5-3.3l.5 2.8l.5-1.6l.5 1.5l.5-1.6l.5 1.6l.5-2l.5 2.1l.5-1.5l.5 1.8l.5-2.3l.5 1.6l.5-2.7l.5 1.8l.5-2.8l.5 2.2l.5-2l.5 2.1l.5-2.2l.5 2l.5-1.5l.5 .5l.5 .2l.5 1.4l.5-1.8l.5 2.2l.5-2.4l.5 1.3l.5-4l.5 2.2l.5-2.5l.5 2.1l.5-2.7l.5 1.8l.5-2.5l.5 3.6l.5-2.9l.5 1.7l.5-2.7l.6 1.3l.4-3.1l.5 3.3l.5-3.3l.5 2.6l.5-2l.5 2.1l.5-1.5l.5 1.8l.5-2.7l.5 2.6l.5-1.3l.5 .7l.5-2.7l.5 .9l.5-.4l.5 .5l.5-.2l.5 1.6l.5-1.4l.5 2.1l.5-1.1l.5 2.1l.5-1l.5 2.8l.5-1.7l.5 2.3l.5-1.5l.4 1.3l.6-1.7l.5 1.7l.5-.9l.5 1.7l.5-1.6l.5 2.4l.5-2.9l.5 1.6l.5-1.7l.5 1.2l.5-2l.5 1.9l.5-2.2l.5 1.4l.5-1.1l.5 1.3l.5-2.4l.5 1.7l.5-2.7l.5 2.4l.5-1.7l.5 2.4l.5-2.5l.5 1.1l.5-.9l.5 .6l.3-.5l.2 0l.5-1.7l.5 1.5l.5-1l.5 2l.5-2.5l.5 2.4l.5-1.9l.5 2.3l.5-3l.5 2.9l.5-1.6l.5 1.7l.5-1.9l.5 1.9l.5-2.7l.5 1.8l.5-2l.5 2.3l.5-1.7l.5 2.3l.5-1.9l.5 .8l.5-.6l.5 1l.5-1.5l.5 2.2l.5-2.3l.5 2.1l.5-.9l.5-.6l.5-2l.5 1l.5-3.2l.5 1.6l.5-2l.5 .2l.5-1.1l.6-.4l.4 0l.5 .7l.5-.8l.5 2.1l.5-2.6l.5 1.8l.5-2.3l.5 2.9l.5-2.9l.5 1.8l.5-2.2l.5 2.2l.5-.6l.5 1.2l.5-2l.5 .9l.5-1.3l.5 .3l.5-2l.5 2.3l.5-3.4l.5 .7l.5-2.3l.5 1.9l.5-1.5l.5 1.2l.5-2.5l.5 3.1l.5-2.6l.5 2.5l.6-3.8l.4 2l.5-3.7l.5 2.2l.5-4.7l.5 3l.5-2.9l.5 2.5l.5-3l.5 1.4l.5-2.1l.5 1.7l.5-2.6l.5 2.5l.5-3.7l.5 1.9l.5-3l.5 1.5l.5-2.3l.3 .1l.2-1.2l.5-.4l.5-3.4l.5 .1l.5-3.4l.5-1.9l.5-4.1l.5 .8l.5-4.2l.5-.4l.5-1.5l.3 .1l.2-.2l.5 1.4l.5 .6l.5 2.5l.5 .4l.5 4.6l.5 1.2l.5 4.1l.5 .9l.5 4.1l.5-.1l.3 1.8l.2-2.5l.5 2.8l.5-.5l.5 3.7l.5-2l.5 3.9l.5-.5l.5 2.2l.5-.6l.5 1.5l.5-.2l.5 1.4l.5-1.4l.5 2l.5-2.5l.5 2.5l.5-.7l.5 1.6l.5-1.5l.5 .6l.5-.8l.5 1.4l.5-1.6l.5 1.8l.5-3.4l.5 1.9l.5-2.2l.5 1.3l.5-1.2l.5 1.2l.5-1.1l.5 2.1l.5-2.3l.3 .5l.2-1.7l.5 2.4l.5-1.8l.5 2.5l.5-1.8l.5 3l.5-1.3l.5 2l.5-.8l.5 2.9l.5-2.8l.5 4.4l.5-1.6l.5 2.8l.5-1l.5 2.3l.5-1.6l.5 2.8l.4-1.6l.6 1l.5-2l.5 3l.5-2.1l.5 1.6l.5-1.9l.5 2.4l.5-1.1l.5 2l.5-2.2l.5 1.9l.5-1.2l.5 2.2l.5-1l.5 1.5l.5-2l.5 2l.5-1.9l.5 3.2l.5-3.5l.5 2.2l.5-2.2l.5 3.8l.5-2.6l.5 2.8l.5-1.9l.5 1.6l.5-1.9l.5 2.6l.5-3.8l.5 2l.5-2.4l.4 1.6l.6-2.2l.5 3.2l.5-1.9l.5 1.5l.5-2.8l.5 .4l.5-1.6l.5 .9l.5-2.2l.5 2.3l.5-2.7l.5 2.6l.5-3l.5 .9l.3-.9l.2 .6l.5-4l.5 1.9l.5-3.8l.5 .2l.5-1.6l.5 .3l.4-.2l.6 .3l.5-.2l.5 1.9l.5-1.2l.5 3.1l.5-2.3l.5 3.3l.5-1.8l.5 2.7l.5-2.1l.4 1.1l.6-.4l.5 1.9l.5-1.1l.5 2.2l.5-2.3l.5 3l.5-.9l.5 1.4l.5-.7l.5 .7l.5-1.8l.5 2.5l.5-2.6l.5 2.6l.5-1.3l.5 .7l.5-1.9l.6 1.6l.4-1.2l.5 2.1l.5-1.9l.5 2l.5-1.2l.5 1.2l.5-2.1l.5 1.3l.5-2.9l.5 1.2l.5-1.5l.5 1.1l.5-2.1l.5 .7l.5-2.8l.5 3.7l.5-2l.5 1.4l.5-2l.5 0l.5-1.1l.6 .6l.4-1.7l.5 3.4l.5-1.8l.5 1.1l.5-2.3l.5 1.9l.5-1.7l.5 1.7l.5-1.8l.5 1.1l.5-1.6l.5 1.7l.5-1.8l.5 0l.5-3.9l.5-1.4l.5-4.4l.5-2.5l.3-2.5l.2-.3l.5-5.5l.5-2.5l.5-7.1l.5-2.3l.5-6.2l.5-2.4l.4-3l.6-1.9l.5-3.3l.5-.2l.5-4l.5 1.7l.5-3.3l.5 2.3l.5-4l.5 .4l.5-1l.4 .3l.6 .5l.5 3.2l.5 1.1l.5 4.9l.5 2.3l.5 4.3l.6 4.1l.4 2.2l.5 2.5l.5 5.5l.5 .3l.5 3.8l.5 .4l.5 1.5l.2 .2l.3-.1l.5-3.7l.5-.7l.5-4.5l.5-2l.5-6.5l.5-.5l.4-5.8l.6-3.5l.5-6.4l.5-3.5l.5-6.1l.5-2.9l.5-1l.5 .6l.5 1.3l.5 4.1l.5 3l.5 6.3l.5 3.2l.5 5.8l.5 4l.2 2.5l.3 1.9l.5 8.7l.5 4.2l.5 5.7l.4 1.4l.6 3.1l.5-1.8l.5 4.3l.5-1.1l.5 3l.5-2.4l.5 4.1l.5-2.7l.5 3l.6-.3l.4 2.4l.5-1.5l.5 2.4l.5-.6l.5 3.4l.5-1.8l.5 2.5l.5-1l.5 1.8l.5-.9l.5 2.7l.5-1.7l.5 3.2l.5-2.5l.4 1.7l.6-.8l.5 2.3l.5-2.6l.5 2.4l.5-3.6l.5 1.9l.5-2.5l.5 2l.5-1.3l.5-.2l.5-1.2l.5 .7l.3-.4l.2 .3l.5-.7l.5 1.1l.5-.6l.5 1.8l.5-.8l.5 3l.5-2.4l.5 2.6l.5-2.5l.5 2.2l.3-.7l.2 .1l.5-1.2l.5 2.3l.5-2.5l.5 1.9l.5-1.6l.5 1.5l.5-2.4l.5 2.5l.5-2.4l.5 2.2l.5-2.2l.5 1.9l.5-1.8l.5 2.5l.5-3l.5 1.8l.5-2.9l.5 .7l.5-.8l.4 .6l.6-1.4l.5 1.8l.5-2.8l.5 2.1l.5-3l.5-.2l.5-4.4l.5 1.7l.5-2.5l.5 1.8l.4-.4l.6-.3l.5-1.5l.5 2l.5-2l.5 2.2l.5-1.4l.5 2.2l.5-2.4l.5 2.8l.5-1.8l.5 2l.5-1.3l.5 2.4l.5-3l.5 2.6l.5-1.7l.5 1.6l.5-2.1l.5 2.1l.5-1.9l.5 2l.4-.7l.6 .8l.5-2.4l.5 1.4l.5-2.9l.5 1.2l.5-3.8l.5 1.3l.5-3.2l.5 .3l.5-3.8l.5-2.3l.5-5.9l.5-2l.5-4l.5-1.6l.6-1.3l.4 .5l.5 1.8l.5 5l.5 3l.5 5.8l.5 2.4l.5 4.8l.3 1.3l.2 2l.5 1.6l.5 6.2l.5 .7l.5 4.8l.5-.7l.5 1.1l.5-1.2l.5 2.3l.5-3l.5 3.3l.5-1.4l.5 2.3l.5-1.7l.5 2.3l.5-1.7l.5 2l.5-1.6l.5 3l.5-2.8l.5 3.8l.5-3.4l.5 3.1l.5-2.5l.5 1l.5-1.9l.5 2l.5-1.3l.5 2.7l.5-4l.5 3.7l.4-.6l.6-.4l.5-3l.5-.2l.5-4.3l.5 .2l.5-4.6l.5 1.9l.5-4.5l.4 .3l.6-1l.5 2.2l.5-1l.5 3.1l.5-2.6l.5 2l.5-.4l.5 1.6l.5 .2l.5 .5l.5-.3l.5 1.9l.5-1.4l.5 1.8l.5-1.9l.5 1.4l.5-1.1l.5 2.3l.5-2.3l.5 2.8l.5-1.2l.5 3.2l.5-1.6l.5 1.7l.5-2.1l.5 2.7l.5-1.8l.2 .4l.3 .2l.5 2.6l.5-2l.5 2.1l.5-2.1l.5 2.4l.5-2l.5 1.7l.5-2.1l.5 1.8l.5-1.6l.5 3.2l.5-1.8l.5 2.5l.5-.6l.5 1.4l.5-.5l.5 .9l.5-1.2l.5 2.5l.5-1.9l.5 3.4l.5-2.9l.5 2.4l.5-1.7l.5 .9l.5-1.6l.5 1.9l.5-1l.3 .5l.2-.5l.5 1.3l.5-2.1l.5 1.1l.5-2.1l.5 2.5l.5-2.4l.5 2.6l.5-2.1l.5 2.2l.5-2.6l.5 2.6l.5-2.6l.5 2.1l.5-2.4l.5 1.5l.5-2l.5 1.7l.5-2.5l.5 1.7l.5-1.8l.5 2l.5-1.7l.5 .2l.5-2.4l.5 2.3l.5-1.7l.5 1.8l.5-3.7l.5 3.3l.5-1.7l.5 1.9l.5-.2l.5 2.2l.5-2.7l.5 2.5l.5-2.3l.5 2.9l.5-1.6l.5 1.5l.5-1.8l.5 2.3l.5-1.6l.5 2.2l.5-1.3l.5 2.7l.5-1.2l.5 1.8l.2-1.9l.3 2l.5-2.8l.5 .4l.5-1.4l.5 1.4l.5-1.3l.5 .7l.5-1.6l.5 0l.5-.6l.5 1.3l.5-2.7l.5 .9l.5-2.2l.5 .4l.5-2.5l.5 2.6l.5-2.6l.5 1.5l.5-.9l.5 .4l.3-.3l.2 .2l.5-.5l.5 .8l.5-1.3l.5 1.8l.5-.8l.5 3.2l.5-2.4l.5 2.7l.5-1l.5 3.5l.5-2.5l.5 3.2l.5-1.8l.5 1.8l.5-2.9l.5 3.8l.5-2.6l.5 2.9l.3-.8l.2 1.7l.5-2.3l.5 2.5l.5-2.3l.5 1.2l.5-1.9l.5 1.5l.5-1.9l.5 2.6l.5-3.9l.5 2.2l.5-1.1l.5 2.1l.5-2.5l.5 1.3l.5-2.2l.5 .5l.5-2.7l.5 1.8l.5-2l.5 2.4l.5-1.8l.5 1.1l.5-.9l.5 .6l.6-.8l.4 .7l.5-.6l.5 .9l.5-1.2l.5 2.5l.5-2.8l.5 2.4l.5-.7l.5 1.9l.5-1.4l.5 3.1l.5-2l.5 2.4l.5-1.9l.5 3.5l.5-2.8l.5 3.9l.5-2.2l.3 .9l.2-.6l.5 3l.5-2.6l.5 1.9l.5-3l.5 1.8l.5-1.5l.5 2l.5-1.7l.5 1.6l.5-.8l.5 1.9l.5-1.9l.5 2.3l.5-1.9l.5 2.1l.5-1.7l.5 1.2l.5-2l.5 1.8l.5-2.9l.5 2.4l.5-1.3l.5 1.5l.5-.4l.5 2.6l.5-3.2l.5 1.2l.5-2.4l.5 2.5l.5-2.8l.5 1.8l.5-2.6l.5 2.3l.5-1.6l.5 3.2l.5-2.6l.5 1.6l.5-.9l.5 2.7l.5-3.8l.5 2.6l.5-1.9l.5 1.4l.3-.4l.2 .7l.5-2.7l.5 2.7l.5-1.7l.5 1.1l.5-.9l.5 .7l.5-.8l.5 1l.5-1.2l.5 1.8l.5-2.1l.5 1.7l.5-2.5l.5 2.3l.5-2.4l.5 1.3l.5-.6l.5 1.4l.5-2.2l.5 1.2l.5-.6l.5 1.3l.5-2.6l.5 3.2l.5-2.5l.5 2.2l.5-1.6l.5 .9l.5-1.7l.5 1l.5-2.1l.5 1.4l.5-1.3l.5 1.7l.5-1.9l.5 2.5l.5-2.1l.5 1.7l.5-1.9l.5 2.9l.5-1.7l.5 1.7l.5-.9l.5 1.7l.5-1.8l.5 1l.5-.9l.5 .3l.2-.1l.3 0l.5-1.1l.5 1l.5-1.9l.5 2.1l.5-1.3l.5 1.3l.5-2l.5 2.7l.5-.6l.5 .6l.5-1.8l.5 2.5l.5-2.4l.5 2.6l.5-2.5l.5 .8l.5-1.6l.5 1.3l.5-2.7l.5 3.6l.5-3.1l.5 3.6l.5-2.6l.5 3.3l.5-2.5l.5 2.2l.5-2.1l.5 2.4l.5-3.6l.5 3.4l.5-2.2l.5 .5l.5-1.2l.5 3.1l.5-2.2l.5 1.1l.5-1l.5 1.7l.5-2.3l.5 2.2l.5-1.6l.5 .6l.5-.1l.2 0l.3-.4l.5 .5l.5-1.2l.5 1.4l.5-2l.5 2.5l.5-1.3l.5 3.1l.5-2.6l.5 1.3l.5-1.5l.5 2.2l.5-1.4l.5 1.5l.5-.6l.5 1l.5-1.7l.5 2.7l.5-3.5l.5 2.6l.5-2.5l.5 2.1l.5-1.1l.6 .6l.4-1.6l.5 2l.5-2.2l.5 2.2l.5-1.5l.5 .8l.5-1.3l.5 1.1l.5-1.9l.5 2l.5-2l.5 2.2l.5-2.6l.5 2.2l.5-1.4l.5 1.4l.5-1.4l.5 2.9l.5-2.4l.5 2.2l.5-1.7l.5 1.5l.5-1.1l.5 1.3l.5-1.4l.5 1.4l.5-2.2l.5 .9l.5-.9l.5 1.9l.5-1.2l.5 3l.5-2.6l.5 2.1l.5-3l.5 2.2l.5-2.9l.5 1.2l.5-2.5l.5 3.3l.3-.4l.2 1.3l.5-2.6l.5 1.7l.5-2.1l.5 2.5l.5-2.3l.5 2.6l.5-2.3l.5 2.9l.5-2.1l.5 1.5l.5-2.9l.5 2.6l.5-1.5l.5 2.2l.5-2l.5 2.6l.5-1.9l.5 .4l.5-1.9l.5 1.8l.5-3.2l.5 2.7l.5-3.6l.5 3.3l.5-2.2l.5 2.1l.5-1.5l.5 2l.5-1.5l.5 1.8l.5-1.8l.5 1l.5-3.1l.5 1.3l.5-1.9l.6 1.7l.4-1.8l.5 .4l.5-2.3l.5-.1l.5-4.8l.5 .2l.5-3.2l.3-.3l.2-1.1l.5 1.3l.5-2.8l.5 1.6l.5-2l.5 1.7l.5-1.9l.5 .8l.5-1.9l.5 2.2l.5-2l.3 .4l.2-.9l.5 2.3l.5-3.6l.5 2.1l.5-2l.5 1.4l.5-.1l.5 1.2l.5-1.4l.5 2.1l.5-1.8l.5 2.4l.5-3.1l.5 2.1l.5-2.3l.5 .7l.5-.9l.5 1.1l.4 .1l.6 .2l.5-.4l.5 2.3l.5-1l.5 3.4l.5-1.3l.5 2.8l.5-1l.5 2.4l.5-.8l.5 3.2l.5-1.2l.4 1.2l.6 .2l.5 2.6l.5-2.2l.5 2.9l.5-1.5l.5 2.1l.5-.4l.5 .9l.5-1.9l.5 1.7l.5-1.6l.5 1.1l.5-2l.5 2.2l.5-.9l.6-.1l.4-.3l.5 .3l.5-.9l.5 2.5l.5-2.5l.5 2.1l.5-1.5l.5 1.5l.5-.7l.5 1.5l.5-.2l.5 1.3l.5-.7l.5 1.3l.5-2.5l.5 2.5l.5-3l.5 3.6l.5-2.5l.5 2.5l.5-2.1l.5 1.5l.5-1.9l.5 1.1l.5-1.8l.5 2.2l.5-1.3l.5 1.1l.5-.7l.3 .4l.2-.2l.5 .4l.5-1.8l.5 2.8l.5-2.3l.5 3.2l.5-2.7l.5 2.5l.5-1.5l.5 1.2l.5-1.5l.5 .7l.5-2.1l.5 2.2l.5-1.2l.5 2.3l.5-2.9l.5 2.5l.5-1.3l.5 1.7l.5-2l.5 2.1l.5-2.8l.5 1.8l.5-1.3l.5 1.8l.5-1.1l.5 2.6l.5-1.9l.5 1.3l.5-1.6l.5 2.9l.5-2.1l.2 .1l.3-.2l.5 1.6l.5-2.1l.5 1.9l.5-2.5l.5 1.7l.5-.7l.5 1.1l.5-2.8l.5 2.3l.5-2.3l.5 1.8l.5-1.2l.5 1.5l.5-2l.5 1.8l.5-1.6l.5 .8l.5-2.2l.5 2l.5-1.7l.5 1.6l.5-1.5l.5 2.1l.5-1.6l.5 2.3l.5-3.2l.5 1.3l.5-1.6l.5 1.9l.5-2.1l.5 1.6l.5-1.9l.2 1.3l.3-.5l.5 .5l.5-1.7l.5 1.7l.5-2.8l.5 3.1l.5-2.5l.5 4l.5-3.8l.5 3.2l.5-2.4l.5 3.6l.5-3l.5 2.9l.5-2.4l.5 3.3l.5-2.7l.5 1.5l.5-2l.5 2.6l.5-1.5l.5 1l.5-1.6l.5 2.7l.5-1.9l.5 2.3l.5-1.5l.5 .8l.5-1.1l.5 1.5l.5-1.4l.5 2.6l.5-2.7l.5 1.4l.5-1.3l.5 1l.5-.6l.5 2l.5-2.8l.5 2.9l.5-.8l.5 1.5l.5-.9l.5 1.7l.5-1.4l.5 .9l.5-1.1l.5 1l.5-2.3l.5 1.5l.5-2.1l.4 1.3l.6-1.9l.5 1.3l.5-2.7l.5 3l.5-1.8l.5 1.4l.5-1.3l.5 1.6l.5-2l.5 2.3l.5-2.3l.5 1l.5-2.3l.5 2.8l.5-2.1l.5 1.9l.5-2.1l.6 .3l.4-.6l.5 1l.5-2.8l.5 2.1l.5-2.1l.5 2.5l.5-2.6l.5 2.1l.5-1.9l.5 2.8l.5-2.8l.5 2.5l.5-2.8l.5 1.9l.5-1.2l.5 .8l.3-.3l.2 .2l.5-.6l.5 1.1l.5-1.8l.5 2.9l.5-3.1l.5 2.8l.5-.8l.5 2.1l.5-2.7l.5 2l.5-2.3l.5 2l.5-.9l.5 2.3l.5-3l.5 2.6l.5-2.1l.5 .6l.5-.4l.5 2.1l.5-2.5l.5 2.4l.5-1.2l.2 .2l.3 .5l.5 2.7l.5-2.7l.5 .4l.5-1.4l.5 .9l.5-1.6l.5 1.1l.5-2.2l.5 1.5l.5-1.8l.5 1.6l.5-2l.5 1.6l.5-1.5l.5 .6l.5-2.2l.5 3.2l.4-1.4l.6 .7l.5-1.1l.5 2.4l.5-2.9l.5 2.2l.5-1.6l.5 2.3l.5-3.1l.5 1.5l.5-1.7l.5 2.9l.5-2.1l.5 2.6l.5-1.5l.5 3l.5-.9l.5 2.5l.5-1.8l.5 1.2l.5-1.8l.5 .7l.5-1.5l.5 2.2l.5-1.5l.5 1.7l.5-.8l.5 .1l.5-1.5l.5 2.6l.5-.9l.5 2.6l.5-1.8l.5 1.7l.5-.8l.5 .1l.5-1.8l.5 2.2l.5-2.6l.5 3l.5-1l.5 1.1l.5-1.6l.5 1.7l.5-1.8l.5 1.5l.5-2.7l.5 2.5l.5-3.3l.5 .7l.5-1.7l.5 1.5l.5-2.1l.5 2l.5-1.2l.5 .9l.5-1.7l.5 1.4l.5-2.5l.2 1.6l.3-.4l.5 1.1l.5-.8l.5 2.6l.5-3.8l.5 2l.5-2l.5 2.6l.5-1.3l.5 1.5l.5-2.7l.5 2.6l.5-2.6l.5 3.2l.5-2.4l.5 2.7l.5-3.2l.5 3.4l.5-1.3l.5 1.7l.5-3.1l.5 1.3l.5-1.9l.5 2.1l.5-.8l.5 .5l.5-.3l.5 .3l.5-.7l.5 .6l.5-1.7l.5 3.1l.5-.8l.5 .6l.5-2.1l.5 2.4l.5-1.6l.5 2.2l.5-.8l.5 2.4l.5-1.6l.5 1.3l.5-.9l.5 1.1l.5-1.7l.5 2l.5-1.9l.5 2.6l.5-1.6l.5 .8l.5-2.7l.5 3.3l.5-3l.5 2l.5-.8l.2 .2l.3-1.7l.5 2.1l.5-1.9l.5 2.3l.5-2.6l.5 2.5l.5-.8l.5 .9l.5-.9l.5 .8l.5-.8l.5 2.2l.5-2.5l.5 2.1l.5-2.3l.5 1.6l.5-1.6l.5 1.7l.5-1.9l.5 2.6l.5-2.2l.5 1.4l.2-1l.3 .1l.5-.8l.5 1.3l.5-1.5l.5 1.9l.5-2.1l.5 .9l.5-2.4l.5 2.7l.5-2.3l.5 2.5l.5-1.5l.5 1.5l.5-4l.5 1.5l.5-2.5l.5 1.9l.5-1.7l.5 .9l.5-.8l.5 1.5l.5-1.6l.2-1l.3 .3l.5 .9l.5-1.8l.5 1.4l.5-2l.5 1.9l.5-2.2l.5 2.6l.5-1l.5 1.4l.5-1.8l.5 2.3l.5-3.4l.5 2.1l.5-1.9l.5 1.9l.5-1.8l.5 1.7l.5-1.1l.5 2.3l.5-3.1l.5 2.3l.5-2.1l.5 1.6l.5-1.9l.5 2.7l.5-1.6l.5 .8l.5-.8l.3 .3l.2-.1l.5 .3l.5-.9l.5 2l.5-2l.5 2.2l.5-2.3l.5 2.8l.5-2.3l.5 2.7l.5-2.7l.5 1.3l.5-1.7l.5 .9l.5-2.6l.5 3.6l.5-.9l.5 3l.5-2.2l.5 2.1l.5-2.4l.5 2.1l.5-1.1l.5 .8l.5-2.4l.5 2.4l.5-2.5l.5 2l.5-.3l.5 1.2l.5-2.2l.5 .8l.5-1.3l.5 3l.5-2.7l.5 1.5l.6-.3l.4 1l.5-.6l.5 .5l.5-1.1l.5 1.1l.5-1.6l.5 1.5l.5-2.2l.5 2.5l.5-2l.5 1.9l.5-1.6l.5 2.2l.5-3.9l.5 3.1l.5-2.1l.5 2.1l.5-2.8l.3 2.4l.2-1.7l.5 1.4l.5-1.6l.5 1.5l.5-.3l.5 .9l.5-1.9l.5 4l.5-2.3l.5 2.4l.5-1.6l.5 2.1l.5-1l.5 3l.5-2.6l.5 2.5l.5-1.5l.5 .9l.5 0l.5-1.3l.5-.9l.5 2.3l.5-2.4l.5 3.9l.5-2.2l.5 2.4l.5-.9l.5 1.7l.5-3.3l.5 3.9l.5-3.1l.5 2.9l.5-3l.5 2.8l.5-1.9l.5 1.5l.5-2l.5 2.5l.5-2.3l.5 1.9l.5-2l.5 1.6l.5-1.9l.5 2.9l.5-.9l.5 .2l.5-1.1l.5 1.7l.5-2.4l.5 1.7l.5-.7l.5 3.2l.5-2.5l.5 2.2l.5-4.5l.5 3.6l.5-1.9l.5 1.9l.5-2l.5 1.2l.5-1.3l.6 .5l.4-2l.5 2.2l.5-2.5l.5 2.5l.5-1.1l.5 .8l.5-2.5l.5 3.1l.5-2.7l.5 3.6l.5-2.9l.5 1.2l.5-2.6l.5 1.8l.5-1.8l.5 1.9l.5-2l.5 2.8l.5-2.8l.5 3.7l.5-3.5l.5 2.8l.5-2.8l.5 2.8l.5-2.4l.5 1.5l.5-1.4l.5 1.1l.5-1.9l.5 1.4l.5-1.7l.5 1.1l.5-1.4l.5 1.9l.5-2.5l.5 2.5l.5-2.2l.5 1l.5-2.1l.5 2.1l.5-2.8l.5 2.9l.5-1.9l.5 1.5l.5-1.2l.5 2.5l.5-2.3l.5 .5l.5-2.3l.5 1.9l.5-.8l.5 1.4l.5-3.6l.5 1.6l.5-1.4l.5 1.6l.5-1.3l.5 1.7l.5-2l.5 1.7l.5-.6l.5-.3l.5-2l.5 2.5l.5-2.2l.5 2.5l.5-1l.5 1.5l.5-2l.5 1.5l.5-3.1l.5 2.7l.5-1.5l.5 1.1l.5-.8l.5 2.9l.5-3.1l.5 1.7l.5-2.1l.5 2.3l.5-2.1l.5 1.4l.5-1.2l.5 2.1l.5-2.9l.5 1.7l.5-1.4l.5 1.1l.5-.4l.5 .3l.5-.2l.5 2l.5-1.5l.5 2.1l.5-2.2l.5 .6l.5-1.5l.5 .7l.5-1.7l.5 3.2l.5-2.4l.5 3.5l.5-1.5l.5 2.6l.5-2.7l.5 3.7l.5-3l.5 2.3l.5-2.1l.5 2.2l.5-1.2l.5 1.2l.2-1l.3 .9l.5-2.1l.5 3.1l.5-3l.5 1.7l.5-2.2l.5 1.8l.5-2.3l.5 2.8l.5-2.5l.5 1.9l.5-1.2l.5 1.5l.5-1l.5 1.4l.5-2.1l.5 1.5l.5-2.6l.5 2.2l.5-2.1l.5 1l.5-1.7l.5 1.1l.5-1.1l.5 3.1l.5-2.4l.5 2.8l.5-1.7l.3 .1l.2-.8l.5 2.1l.5-3.7l.5 1.4l.5-1.6l.5 2.4l.5-1.6l.5 1.8l.5-1.5l.5 1.2l.4-.4l.6 .2l.5-.6l.5 1l.5-.7l.5 1.2l.5-.9l.5 1.4l.5-1.6l.5 3.3l.5-1.2l.5 1.2l.5-1.1l.5 4l.5-2.4l.5 2.9l.5-3.6l.5 2.7l.5-1.9l.5 .5l.5-.7l.5 1.4l.6 .3l.4 0l.5-1.8l.5 2.9l.5-1.4l.5 2.8l.5-2.7l.5 2.7l.5-2.6l.5 2.1l.5-3l.5 3.3l.5-1.8l.5 2.3l.5-2l.5 1.9l.5-2.7l.5 2.5l.5-2.3l.5 2.5l.5-2.1l.5 1l.5-1.8l.5 1.4l.5-1.5l.5 2l.5-1.2l.5 2.4l.5-1.9l.5 2.3l.5-2.2l.5 2.1l.5-2.4l.5 .8l.5-1.6l.5 1.1l.5-4.1l.5 0l.5-4.3l.5 2l.5-2.9l.5 .5l.5-2.7l.5 1.6l.5-2.2l.5 1.6l.5-2.5l.5 .8l.5-1l.5 .7l.2-.4l.3 .5l.5-.4l.5 1.6l.5-1.2l.5 1.6l.5-1.3l.5 1.9l.5-.1l.5 2.2l.5 .1l.5 2.5l.5-2.3l.5 3.1l.5-2.2l.2 2.2l.3-1.1l.5 1.9l.5 .1l.5 1.9l.5-2l.5 1.9l.5-2.2l.5 1.6l.5-.4l.5 1.3l.5-.3l.5 1l.5-1l.5 3.1l.5-2.8l.5 3.1l.5-1.8l.5 .9l.5-2.3l.5 2.8l.5-1.4l.5 1.5l.5-2.3l.5 3.9l.5-2.3l.6 .1l.4 0l.5 1.6l.5-3.3l.5 2.5l.5-2l.5 1.8l.5-1.9l.5 3.1l.5-2.6l.5 1.1l.5-1.2l.5 2.3l.5-3.3l.5 1.8l.5-.8l.5 2l.5-2.6l.5 2.6l.5-1.3l.5 2.2l.5-2.2l.5 1.6l.5-1.4l.5 1.6l.5-2.4l.5 1.7l.5-1.7l.5 1.5l.5-1.6l.5 1.8l.5-2.2l.5 2.8l.5-1.7l.5 .7l.5-2.9l.5 2.3l.5-.8l.5 2.2l.5-2.2l.5 2.9l.5-3.8l.5 2.9l.5-2.2l.5 1.1l.5 .3l.5 1.3l.5-1.5l.5 1.5l.5-1.3l.5 1.1l.5-2l.5 2.6l.5-2.1l.5 2.4l.5-2.6l.5 1.4l.5-2.5l.5 1l.5-2l.5 2.1l.5-.9l.5 1.8l.5-1.8l.5 2.2l.5-.8l.5 2l.5-2l.5 1.2l.5-1l.5 .9l.5-2l.5 2.5l.5-2.4l.5 2.1l.5-2.8l.5 2.3l.5-2.6l.5 3l.5-1.9l.5 2.3l.5-1.9l.5 1.7l.5-2.1l.5 3.7l.5-2.5l.5 1.6l.5-2l.5 .7l.5-1.6l.5 2.3l.5-2.5l.5 2.4l.5-2.5l.5 1.9l.5-2.1l.5 2.4l.5-2l.5 2l.5-1.9l.5 1.7l.5-2.2l.5 2.7l.5-1.4l.5 1.7l.5-1.1l.5 .9l.5-1.6l.5 1.1l.5-2.8l.5 1.5l.5-.4l.5 3.2l.5-1.6l.5 1.8l.5-1.4l.5 .7l.5-.8l.5 .1l.5-1l.5 1.5l.5-3.3l.5 2.9l.5-2.5l.5 1.8l.5-1.8l.5 2.3l.5-1.8l.5 1.8l.5-1.7l.5 2.4l.5-1.2l.5 1.4l.5-1.8l.5 .5l.5-1.4l.5 2.1l.5-2.1l.5 2.4l.5-2.4l.5 2l.5-1.9l.5 .6l.5-2.1l.5 3.8l.5-2.6l.5 1.9l.5-1.4l.5 1.1l.5-2.2l.5 2.4l.5-1.7l.5 1.9l.5-1.5l.5 2.9l.5-3l.5 1.9l.5-1.8l.5 1.1l.5-2.5l.5 2.2l.5-1.5l.5 2.3l.5-2.8l.5 3.8l.5-2.3l.5 1.9l.5-2.4l.5 2.2l.5-2.1l.5 1.5l.5-1.4l.5 2.2l.5-2.8l.2 1.4l.3-.5l.5 2.1l.5-2.2l.5 1.8l.5-2.3l.5 1.5l.5-2.4l.5 1.2l.5-.4l.5 .9l.5-1.2l.5 1l.5-2.3l.5 2.5l.5-2.8l.5 2.7l.5-2.2l.5 1.5l.5-2.6l.5 3l.5-2.3l.5 2.1l.5-1.7l.5 1l.5-2l.5 2l.5-3.2l.5 2.8l.2-.3l.3 1l.5-2.9l.5 2.6l.5-1.7l.5 .7l.5-1.8l.5 3.4l.5-2.1l.5 1.6l.5-2.2l.5 1.6l.5-1.8l.5 1.7l.5-1.8l.5 1.3l.5-1.7l.5 2.7l.5-2.4l.5 2.1l.5-1l.5 1.1l.2-.1l.3 .3l.5-.4l.5 1.5l.5-.7l.5 1l.5-1.8l.5 .3l.5-1.5l.5 2.3l.5-2l.5 1.7l.5-1.1l.5 3.3l.5-3.1l.5 1.9l.5-1.4l.5 2.6l.5-1.4l.5 1.2l.5-1.5l.5 1.2l.5-1.5l.5 2.9l.5-2.4l.5 2.9l.5-2.8l.5 1.8l.5-1.7l.5 2l.5-2.8l.5 2.2l.5-1.4l.5 2.7l.5-2.5l.5 3.3l.3-1.9l.2 .9l.5-2l.5 1.9l.5-2.3l.5 1.6l.5-1.7l.5 1.2l.5-.7l.5 .7l.5-1.7l.5 2.6l.5-3l.5 2l.5-1.1l.5 2.3l.5-2.5l.5 2.6l.5-3.7l.5 2l.5-1.9l.5 1.4l.5-1.9l.5 1.2l.5-1.5l.5 1.1l.5-.9l.2 .5l.3-.4l.5 .7l.5-.5l.5 .5l.5-.7l.5 1.1l.5-2.1l.5 1.9l.5-.5l.5 1.8l.5-1.8l.5 1.8l.5-2.3l.5 2.5l.5-2.5l.5 1.3l.5-.8l.5 1.2l.5-1.3l.5 3.3l.5-3.4l.5 1.7l.5-1.5l.5 1.9l.5-.9l.5 1.3l.5-2.2l.5 2l.5-1.8l.5 1.5l.5-1.5l.5 1.6l.5-.8l.5 1.7l.5-2.1l.5 1.2l.5-1.1l.5 2l.5-3.8l.5 2.5l.5-2.7l.5 2.2l.5-2.1l.5 3.2l.4-.4l.6 .6l.5-.5l.5 2.3l.5-3.2l.5 2.5l.5-1.7l.5 1.4l.5-1.7l.5 2l.5-2.4l.5 2.8l.5-3l.5 1.1l.5-1.1l.5 .8l.5-2.3l.5 3.4l.5-2l.5 2.8l.5-2.4l.5 2.1l.5-2.1l.5 3l.5-2.1l.5 1.2l.5-2.1l.5 3.4l.5-3.3l.5 2.3l.5-1.2l.5 2.6l.5-2l.5 1.8l.5-1.9l.5 2.2l.5-1.7l.5 .6l.5-.9l.5 2.2l.5-3.9l.5 3.9l.5-2.5l.5 1.2l.5-1.9l.5 1.9l.5-1.4l.5 1.7l.5-1.6l.5 2.2l.5-2.4l.5 2l.5-.9l.5 1.4l.5-1.8l.5 2.4l.5-2.4l.5 2l.5-1.5l.5 1l.5-1.5l.5 2.3l.5-1.7l.5 1.1l.5-.8l.5 1.1l.5-2.4l.5 2.1l.5-1.3l.5 1.3l.5-1.6l.5 2.4l.5-2.8l.5 1.5l.5-1.8l.5 2.1l.5-1.1l.5 .9l.5-1.3l.7 .9l.3-1.7l.5 2.5l.5-2.7l.5 3l.5-1.2l.5 1.8l.5-2.4l.5 1.1l.5-.7l.5 1.3l.5-3.4l.5 2.5l.5-2.3l.5 3.1l.5-3.1l.5 2.5l.5-1.7l.5 2.6l.5-2.8l.5 2.2l.5-.3l.5 2.2l.5-3.5l.5 1.7l.5-1.1l.5 1.3l.5-3.2l.5 1.7l.5-.7l.5 1.8l.5-3.1l.5 1.8l.5-1.4l.5 1.8l.5-2.1l.5 2.5l.5-2.7l.5 2.5l.5-2.4l.5 1.2l.5-2.3l.5 2.7l.5-1.6l.5 2.7l.5-3.3l.5 2.1l.5-1l.5 1l.5-2.5l.5 2.5l.5-1.5l.5 1.8l.5-3.6l.5 3.6l.5-2.6l.5 1.8l.5-.7l.5 1l.5-1.7l.5 2.8l.6-2.1l.4 1.8l.5-3.2l.5 1.7l.5-1.6l.5 2.9l.5-1.7l.5 2l.5-2.3l.5 2.6l.5-2l.5 1.8l.5-2.5l.5 2.9l.5-3.1l.5 2.4l.5-.8l.5 2.1l.5-2l.5 2.6l.5-1.9l.5 2.6l.5-1.3l.5 .8l.5-1.3l.5 1.9l.5-1.8l.5 1.9l.5-2.3l.5 2.2l.5-1.6l.5 1.9l.5-2.4l.5 .7l.5-.2l.5 2.1l.5-2.4l.5 2.2l.5-2.2l.5 1.8l.5-3.8l.5 1.8l.5-1.7l.5 2.5l.5-.7l.5 1.2l.5-1.9l.5 1.4l.5-2.1l.5 2.7l.5-2.2l.5 0l.5-1.3l.5 1.7l.5-2l.5 2.5l.7-1.2l.3 .4l.5-.8l.5 1.9l.5-1.1l.5 1.4l.5-1.6l.5 1.9l.5-1.7l.5 .6l.5-2.2l.5 2.9l.5-3.1l.5 1.6l.5-1.2l.5 2.5l.5-2.3l.5 2.4l.5-3.2l.5 2.2l.5 0l.5 1.7l.5-1.4l.5 .9l.5-1.9l.5 2l.5-1.8l.5 1.1l.5-2.6l.5 1.6l.5-.9l.5 2l.5-2.9l.5 1.5l.5-.7l.5 2l.5-2.9l.5 1.6l.5-1.6l.5 2.2l.5-2l.5 3.4l.5-3.3l.5 2.3l.5-1.5l.5 1.5l.5-2.5l.5 3.4l.5-1.4"/>
</g>
<g fill="#000" stroke="none">
<path d="M944.4,434.2 L966.9,456.7 L944.4,479.2 L921.9,456.7 Z"/>
<path d="M1029.1,415.2 L1051.6,437.7 L1029.1,460.2 L1006.6,437.7 Z"/>
<path d="M1069.2,445.0 L1091.7,467.5 L1069.2,490.0 L1046.7,467.5 Z"/>
<path d="M1129.2,394.1 L1151.7,416.6 L1129.2,439.1 L1106.7,416.6 Z"/>
<path d="M969.4,575.1 L991.9,597.6 L969.4,620.1 L946.9,597.6 Z"/>
<path d="M1288.4,593.3 L1310.9,615.8 L1288.4,638.3 L1265.9,615.8 Z"/>
<path d="M1384.4,512.0 L1406.9,534.5 L1384.4,557.0 L1361.9,534.5 Z"/>
<path d="M1555.2,613.9 L1577.7,636.4 L1555.2,658.9 L1532.7,636.4 Z"/>
<path d="M1603.3,599.1 L1625.8,621.6 L1603.3,644.1 L1580.8,621.6 Z"/>
<path d="M1775.2,539.0 L1797.7,561.5 L1775.2,584.0 L1752.7,561.5 Z"/>
<path d="M1112.5,752.1 L1135.0,774.6 L1112.5,797.1 L1090.0,774.6 Z"/>
<rect x="577.2" y="485.1" width="29.8" height="29.8"/>
<rect x="580.1" y="903.1" width="29.8" height="29.8"/>
<rect x="968.1" y="966.1" width="29.8" height="29.8"/>
<rect x="1225.1" y="912.1" width="29.8" height="29.8"/>
<rect x="1655.1" y="970.2" width="29.8" height="29.8"/>
<rect x="1789.1" y="989.3" width="29.8" height="29.8"/>
<rect x="1921.0" y="1025.3" width="29.8" height="29.8"/>
<circle cx="1008.5" cy="802.1" r="15"/>
<circle cx="1020.3" cy="1026.7" r="15"/>
<path d="M350.4,721 L372.0,758.8 L328.79999999999995,758.8 Z"/>
<path d="M357.4,996.2 L379.0,1034 L335.79999999999995,1034 Z"/>
</g>
<g fill="none" stroke="#000" stroke-linejoin="miter">
<path stroke-width="2.3" d="M257,759.0 L277.4,779.4 L257,799.8 L236.6,779.4 Z"/>
<path stroke-width="2.3" d="M505,794.4 L525.4,814.8 L505,835.2 L484.6,814.8 Z"/>
<path stroke-width="2.3" d="M622.9,819.0 L643.3,839.4 L622.9,859.8 L602.5,839.4 Z"/>
<path stroke-width="2.3" d="M756,805.2 L776.4,825.6 L756,846.0 L735.6,825.6 Z"/>
<path stroke-width="4.2" d="M295.5,812.5 L332.5,812.5 L314,844.6 Z"/>
<path stroke-width="4.2" d="M305.5,983.3 L342.5,983.3 L324,1015.4 Z"/>
</g>
<g fill="#000">
<rect x="1035.2" y="86.1" width="46.7" height="46.7"/>
<path d="M1425.3,82 L1452.2,108.9 L1425.3,135.8 L1398.4,108.9 Z"/>
<circle cx="1426.5" cy="186.4" r="26.2"/>
<path d="M1604.4,240 L1630.9,285.8 L1577.9,285.8 Z"/>
</g>
<g fill="none" stroke="#000">
<path stroke-width="2.8" d="M1058.6,162.8 L1086.2,190.2 L1058.6,217.6 L1031,190.2 Z"/>
<path stroke-width="4.6" d="M1035.6,244.2 L1081.2,244.2 L1058.4,283.3 Z"/>
</g>
<text><tspan x="1104.20" y="132.0" font-size="59" textLength="20.18" lengthAdjust="spacingAndGlyphs">:</tspan> <tspan x="1137.30" y="132.0" font-size="59" textLength="185.42" lengthAdjust="spacingAndGlyphs">Ca(OH)</tspan><tspan x="1324.00" y="147.4" font-size="37" textLength="21.67" lengthAdjust="spacingAndGlyphs">2</tspan></text>
<text><tspan x="1469.40" y="132.0" font-size="59" textLength="22.37" lengthAdjust="spacingAndGlyphs">:</tspan> <tspan x="1503.70" y="132.0" font-size="59" textLength="68.77" lengthAdjust="spacingAndGlyphs">PC</tspan> <tspan x="1585.70" y="132.0" font-size="59" textLength="204.24" lengthAdjust="spacingAndGlyphs">Clinkers</tspan></text>
<text><tspan x="1104.20" y="209.7" font-size="59" textLength="20.18" lengthAdjust="spacingAndGlyphs">:</tspan> <tspan x="1137.70" y="209.7" font-size="59" textLength="242.87" lengthAdjust="spacingAndGlyphs">Ettringite</tspan></text>
<text><tspan x="1473.20" y="209.7" font-size="59" textLength="20.18" lengthAdjust="spacingAndGlyphs">:</tspan> <tspan x="1506.00" y="209.7" font-size="59" textLength="144.28" lengthAdjust="spacingAndGlyphs">C-S-H</tspan></text>
<text><tspan x="1104.20" y="287.5" font-size="59" textLength="20.18" lengthAdjust="spacingAndGlyphs">:</tspan> <tspan x="1137.70" y="287.5" font-size="59" textLength="404.45" lengthAdjust="spacingAndGlyphs">Hemicarbonate</tspan></text>
<text><tspan x="1647.60" y="287.5" font-size="59" textLength="24.54" lengthAdjust="spacingAndGlyphs">:</tspan> <tspan x="1682.10" y="287.5" font-size="59" textLength="424.26" lengthAdjust="spacingAndGlyphs">Monocarbonate</tspan></text>
<text x="1885.30" y="794.9" font-size="70" textLength="229.11" lengthAdjust="spacingAndGlyphs">PC-Raw</text>
<text x="1946.50" y="983.9" font-size="70" textLength="174.04" lengthAdjust="spacingAndGlyphs">PC-S1</text>
<text x="1745.00" y="1163.8" font-size="70" textLength="377.90" lengthAdjust="spacingAndGlyphs">GGBS-CH-S1</text>
<text x="1860.30" y="1276.5" font-size="70" textLength="266.43" lengthAdjust="spacingAndGlyphs">GGBS-S1</text>
<text x="1794.30" y="1392.8" font-size="70" textLength="323.53" lengthAdjust="spacingAndGlyphs">GGBS-Raw</text>
<text x="1057.70" y="1694.8" font-size="78" textLength="231.08" lengthAdjust="spacingAndGlyphs">2Theta</text>
<text transform="translate(87.8,1025.30) rotate(-90)" font-size="78" textLength="475.70" lengthAdjust="spacingAndGlyphs">Intensity (A.U)</text>
<text x="661.98" y="1583.9" font-size="63.5" text-anchor="middle" textLength="67.68" lengthAdjust="spacingAndGlyphs">20</text>
<text x="847.36" y="1583.9" font-size="63.5" text-anchor="middle" textLength="67.68" lengthAdjust="spacingAndGlyphs">25</text>
<text x="1032.74" y="1583.9" font-size="63.5" text-anchor="middle" textLength="66.50" lengthAdjust="spacingAndGlyphs">30</text>
<text x="1218.11" y="1583.9" font-size="63.5" text-anchor="middle" textLength="67.57" lengthAdjust="spacingAndGlyphs">35</text>
<text x="1403.49" y="1583.9" font-size="63.5" text-anchor="middle" textLength="65.46" lengthAdjust="spacingAndGlyphs">40</text>
<text x="1588.87" y="1583.9" font-size="63.5" text-anchor="middle" textLength="66.50" lengthAdjust="spacingAndGlyphs">45</text>
<text x="1774.25" y="1583.9" font-size="63.5" text-anchor="middle" textLength="66.59" lengthAdjust="spacingAndGlyphs">50</text>
<text x="1959.62" y="1583.9" font-size="63.5" text-anchor="middle" textLength="67.68" lengthAdjust="spacingAndGlyphs">55</text>
<text x="2145.00" y="1583.9" font-size="63.5" text-anchor="middle" textLength="67.68" lengthAdjust="spacingAndGlyphs">60</text>
<text x="259.80" y="1583.9" font-size="63.5" textLength="65.83" lengthAdjust="spacingAndGlyphs">10</text>
<text x="446.20" y="1583.9" font-size="63.5" textLength="64.71" lengthAdjust="spacingAndGlyphs">15</text>
</svg></body></html>
